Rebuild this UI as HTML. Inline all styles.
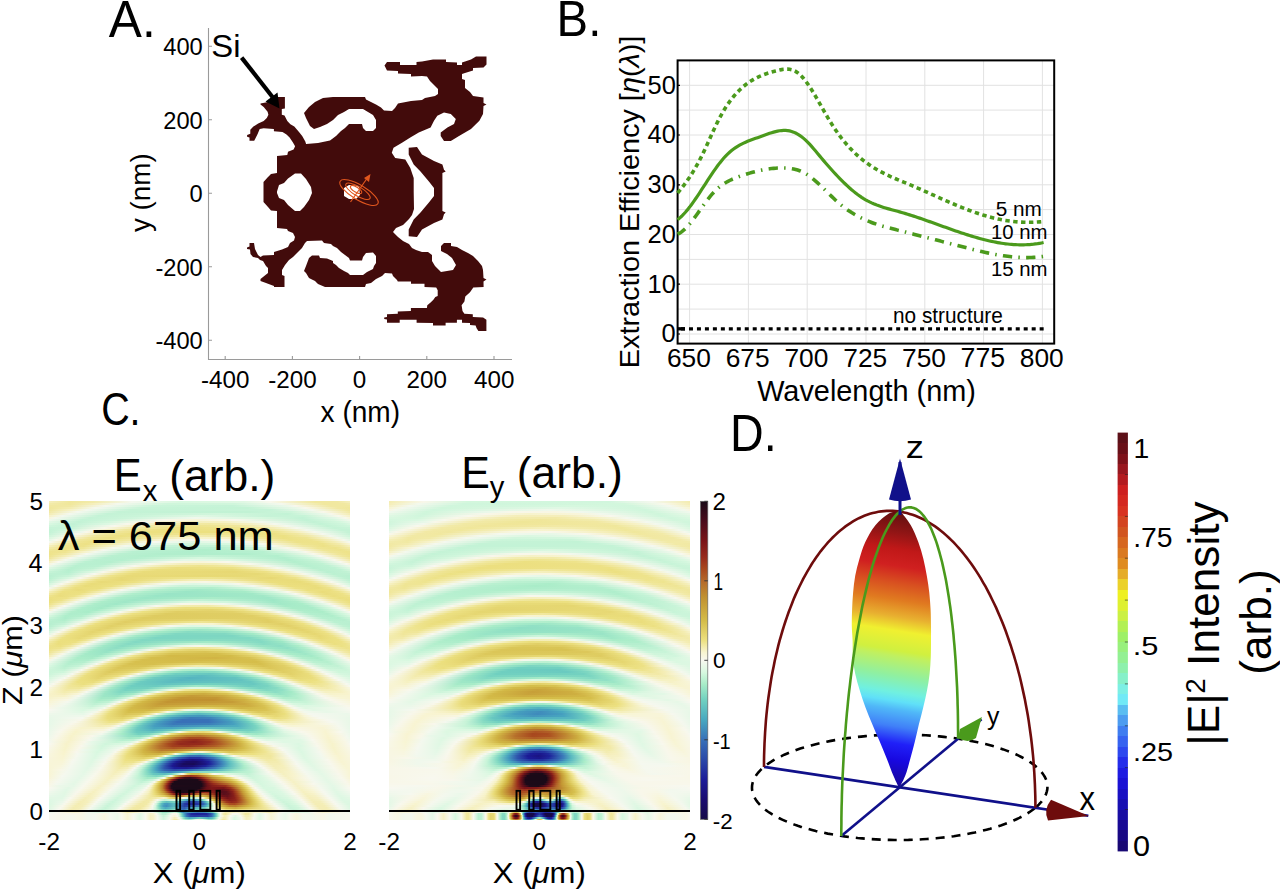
<!DOCTYPE html><html><head><meta charset="utf-8"><style>html,body{margin:0;padding:0;background:#fff;overflow:hidden}#wrap{position:relative;width:1280px;height:890px;overflow:hidden;background:#fff}svg{display:block}text{font-family:"Liberation Sans",sans-serif}.fld{position:absolute;top:501px;width:301px;height:319px;overflow:hidden}.fld i{display:block;height:2px}</style></head><body><div id="wrap"><div class="fld" style="left:49px"><i style="background:linear-gradient(90deg,#f5eeb9 0.5px,#f0e79b 20.5px,#f2ebaa 44.5px,#f4f8ee 82.5px,#d8f8e0 130.5px,#e0f8e4 194.5px,#f8f8ed 221.5px,#f1e89e 266.5px,#f1e8a1 288.5px,#f5eeb9 300.5px)"></i><i style="background:linear-gradient(90deg,#f2eaa9 0.5px,#f0e79b 20.5px,#f5efbd 44.5px,#f4f8ee 68.5px,#cff6db 118.5px,#d0f6dc 185.5px,#f4f8ee 232.5px,#f1e89e 275.5px,#f1e8a1 295.5px,#f2eaa9 300.5px)"></i><i style="background:linear-gradient(90deg,#f1e89f 0.5px,#f1e8a2 20.5px,#f5f8ee 56.5px,#caf5d9 103.5px,#c5f3d7 183.5px,#ebf8ea 238.5px,#f8f7ec 246.5px,#f1e8a1 281.5px,#f1e89f 300.5px)"></i><i style="background:linear-gradient(90deg,#f0e79b 0.5px,#f3ecaf 20.5px,#f4f8ee 46.5px,#c7f4d7 92.5px,#c3f3d5 198.5px,#e9f8e8 247.5px,#f8f8ec 256.5px,#f1e8a2 288.5px,#f0e79b 300.5px)"></i><i style="background:linear-gradient(90deg,#f0e79e 0.5px,#f6f1c3 20.5px,#f3f8ee 37.5px,#c5f3d6 81.5px,#c5f3d7 221.5px,#f3f8ee 263.5px,#f1e8a0 297.5px,#f0e79e 300.5px)"></i><i style="background:linear-gradient(90deg,#f2e9a6 0.5px,#f4f8ee 28.5px,#c4f3d6 69.5px,#c1f2d4 199.5px,#ccf5da 242.5px,#f8f7eb 274.5px,#f2e9a6 300.5px)"></i><i style="background:linear-gradient(90deg,#f4edb4 0.5px,#f4f8ee 20.5px,#c4f3d6 58.5px,#c9f4d8 107.5px,#d1f6dc 170.5px,#c2f3d5 238.5px,#ecf8ea 276.5px,#f8f7ea 282.5px,#f4edb5 300.5px)"></i><i style="background:linear-gradient(90deg,#f7f2c9 0.5px,#f3f8ed 13.5px,#c4f3d6 49.5px,#caf5d9 90.5px,#e0f8e4 152.5px,#c6f3d7 218.5px,#c6f4d7 255.5px,#f8f8ec 289.5px,#f7f2ca 300.5px)"></i><i style="background:linear-gradient(90deg,#f8f6dd 0.5px,#f3f8ed 6.5px,#c4f3d6 40.5px,#cbf5da 76.5px,#f0f8ec 146.5px,#d7f8df 210.5px,#c1f2d5 253.5px,#e1f8e5 285.5px,#f8f8ec 296.5px,#f8f6dd 300.5px)"></i><i style="background:linear-gradient(90deg,#f1f8ec 0.5px,#c3f3d6 33.5px,#cdf5db 66.5px,#f8f7eb 114.5px,#f8f5d8 150.5px,#f8f7eb 186.5px,#c1f2d5 257.5px,#d6f7df 284.5px,#f1f8ec 300.5px)"></i><i style="background:linear-gradient(90deg,#e3f8e6 0.5px,#c2f2d5 29.5px,#d5f7de 61.5px,#f8f7eb 93.5px,#f5efbc 137.5px,#f6f1c4 175.5px,#f2f8ed 212.5px,#c2f2d5 264.5px,#d2f7dd 289.5px,#e3f8e6 300.5px)"></i><i style="background:linear-gradient(90deg,#d9f8e1 0.5px,#c2f2d5 24.5px,#ddf8e3 58.5px,#f8f7eb 78.5px,#f3ebac 118.5px,#f1e8a0 160.5px,#f5efbe 197.5px,#f4f8ee 225.5px,#c2f3d5 271.5px,#d1f6dd 295.5px,#daf8e1 300.5px)"></i><i style="background:linear-gradient(90deg,#cff6dc 0.5px,#c4f3d6 24.5px,#f8f8ed 65.5px,#f1e9a5 101.5px,#eee38c 143.5px,#f0e79c 191.5px,#f7f3cb 220.5px,#f4f8ee 237.5px,#c3f3d5 278.5px,#cff6dc 300.5px)"></i><i style="background:linear-gradient(90deg,#c7f4d8 0.5px,#c9f4d8 23.5px,#f8f7ea 55.5px,#f1e89f 88.5px,#ede183 127.5px,#eee38b 192.5px,#f4edb3 223.5px,#f5f8ee 247.5px,#c4f3d6 285.5px,#c8f4d8 300.5px)"></i><i style="background:linear-gradient(90deg,#c4f3d6 0.5px,#d4f7de 24.5px,#f8f8ec 45.5px,#f0e79c 76.5px,#ece081 109.5px,#ede287 205.5px,#f3ecae 233.5px,#f3f8ee 257.5px,#c4f3d6 292.5px,#c4f3d6 300.5px)"></i><i style="background:linear-gradient(90deg,#c4f3d6 0.5px,#edf8eb 32.5px,#f8f7e9 37.5px,#f0e69a 66.5px,#ece080 95.5px,#ece080 194.5px,#eee48f 227.5px,#f6f0c1 250.5px,#f5f8ee 265.5px,#c5f3d6 298.5px,#c4f3d6 300.5px)"></i><i style="background:linear-gradient(90deg,#c8f4d8 0.5px,#f8f8ee 28.5px,#f0e79b 55.5px,#ece081 81.5px,#efe595 162.5px,#ece183 224.5px,#f1e8a1 248.5px,#f5f8ee 273.5px,#c8f4d8 300.5px)"></i><i style="background:linear-gradient(90deg,#d0f6dc 0.5px,#f8f7eb 21.5px,#f0e699 47.5px,#ece081 71.5px,#f3ecaf 150.5px,#efe593 198.5px,#ece182 234.5px,#f1e8a2 257.5px,#f3f8ed 281.5px,#d0f6dc 300.5px)"></i><i style="background:linear-gradient(90deg,#dbf8e1 0.5px,#f8f7eb 14.5px,#f0e698 39.5px,#ece082 61.5px,#f1e8a0 95.5px,#f8f4d0 140.5px,#f7f2c6 174.5px,#ece183 234.5px,#eee490 257.5px,#f6f1c6 276.5px,#f3f8ed 288.5px,#dbf8e1 300.5px)"></i><i style="background:linear-gradient(90deg,#e6f8e7 0.5px,#f8f8ed 7.5px,#f0e698 31.5px,#ece183 51.5px,#f1e89e 79.5px,#f8f5dc 116.5px,#f5f8ee 141.5px,#f8f7e8 172.5px,#f5efbe 204.5px,#ede286 240.5px,#eee38c 262.5px,#f5eeb9 280.5px,#f5f8ee 294.5px,#e6f8e7 300.5px)"></i><i style="background:linear-gradient(90deg,#f6f8ef 0.5px,#f0e698 24.5px,#ede184 43.5px,#f1e8a1 68.5px,#f7f8ef 105.5px,#e0f8e4 144.5px,#f0f8ec 190.5px,#f8f7e9 198.5px,#ede28a 247.5px,#eee38a 268.5px,#f4eeb7 286.5px,#f6f8ef 300.5px)"></i><i style="background:linear-gradient(90deg,#f8f5d6 0.5px,#efe594 19.5px,#ede185 37.5px,#f2eaa7 60.5px,#f4f8ee 89.5px,#d1f6dd 132.5px,#d7f8df 179.5px,#f8f8ed 213.5px,#eee48e 253.5px,#ede288 273.5px,#f3ebad 290.5px,#f8f5d6 300.5px)"></i><i style="background:linear-gradient(90deg,#f5efbd 0.5px,#eee38e 16.5px,#ede289 34.5px,#f4eeb8 56.5px,#f3f8ee 76.5px,#c4f3d6 123.5px,#c4f3d6 177.5px,#f3f8ee 224.5px,#f0e79d 254.5px,#ede186 274.5px,#f0e79d 291.5px,#f5efbd 300.5px)"></i><i style="background:linear-gradient(90deg,#f2eaa6 0.5px,#ede288 16.5px,#efe696 34.5px,#f5f8ee 64.5px,#bff2d3 107.5px,#b5efcf 169.5px,#d1f6dc 212.5px,#f8f7ea 238.5px,#efe592 268.5px,#ede289 286.5px,#f2eaa6 300.5px)"></i><i style="background:linear-gradient(90deg,#efe696 0.5px,#ede289 16.5px,#f2ebaa 34.5px,#f5f8ef 54.5px,#bcf1d2 93.5px,#afeecb 156.5px,#bff2d3 210.5px,#f8f8ed 247.5px,#efe696 274.5px,#ede289 291.5px,#efe696 300.5px)"></i><i style="background:linear-gradient(90deg,#eee38d 0.5px,#efe491 16.5px,#f7f2c7 34.5px,#f2f8ed 46.5px,#b9f0d1 83.5px,#afeecc 140.5px,#b7f0d0 214.5px,#ebf8ea 251.5px,#f8f7ec 256.5px,#efe697 281.5px,#eee38a 297.5px,#eee38d 300.5px)"></i><i style="background:linear-gradient(90deg,#eee38a 0.5px,#f1e8a1 16.5px,#f5f8ef 37.5px,#baf0d1 71.5px,#b1eecc 113.5px,#b0eecc 196.5px,#bef2d3 233.5px,#f8f8ec 264.5px,#f0e697 288.5px,#eee38a 300.5px)"></i><i style="background:linear-gradient(90deg,#eee48f 0.5px,#f4eeb8 16.5px,#f3f8ee 30.5px,#b9f0d0 62.5px,#b2efcd 97.5px,#c2f2d5 162.5px,#b2efcd 228.5px,#d3f7de 255.5px,#f7f8f0 271.5px,#f0e79b 293.5px,#eee48f 300.5px)"></i><i style="background:linear-gradient(90deg,#f0e69a 0.5px,#f8f7e9 21.5px,#edf8ea 25.5px,#b7f0d0 55.5px,#b5efcf 87.5px,#d6f8df 150.5px,#b1eecd 235.5px,#cff6dc 261.5px,#f7f8f0 278.5px,#f0e79d 299.5px,#f0e79a 300.5px)"></i><i style="background:linear-gradient(90deg,#f3ebac 0.5px,#f4f8ee 16.5px,#b9f0d1 45.5px,#b5efcf 73.5px,#e6f8e7 135.5px,#def8e3 181.5px,#b1eecd 239.5px,#c6f4d7 264.5px,#f8f8ed 285.5px,#f3ebac 300.5px)"></i><i style="background:linear-gradient(90deg,#f6f1c5 0.5px,#f8f8f0 9.5px,#bbf1d2 36.5px,#b5efce 61.5px,#f8f8ec 122.5px,#f8f5d9 151.5px,#f8f8ec 178.5px,#b3efcd 245.5px,#c3f3d5 269.5px,#f8f8f0 291.5px,#f6f1c6 300.5px)"></i><i style="background:linear-gradient(90deg,#f8f6de 0.5px,#f3f8ed 4.5px,#b9f0d1 31.5px,#b8f0d0 55.5px,#f8f8ec 100.5px,#f4edb5 135.5px,#f4eeb6 166.5px,#f8f8ec 200.5px,#b5efce 250.5px,#bff2d3 273.5px,#f8f8ef 297.5px,#f8f6de 300.5px)"></i><i style="background:linear-gradient(90deg,#edf8eb 0.5px,#b8f0d0 26.5px,#bbf1d2 49.5px,#f8f8ed 85.5px,#f1e9a2 117.5px,#eee38c 150.5px,#f1e9a2 183.5px,#f3f8ee 217.5px,#b6f0cf 257.5px,#bef2d3 279.5px,#edf8eb 300.5px)"></i><i style="background:linear-gradient(90deg,#dff8e3 0.5px,#b7f0cf 22.5px,#c0f2d4 44.5px,#f8f8ed 73.5px,#f0e699 102.5px,#ebde7d 127.5px,#ece183 183.5px,#f4edb3 209.5px,#f5f8ee 228.5px,#b8f0d0 264.5px,#bef2d3 285.5px,#dff8e3 300.5px)"></i><i style="background:linear-gradient(90deg,#d2f6dd 0.5px,#b6efcf 19.5px,#c8f4d8 41.5px,#f8f7ec 63.5px,#efe592 90.5px,#eadd7b 108.5px,#e8db78 183.5px,#eee38a 206.5px,#f7f2c8 227.5px,#f2f8ed 239.5px,#b9f0d0 271.5px,#bff2d4 291.5px,#d2f6dd 300.5px)"></i><i style="background:linear-gradient(90deg,#c6f3d7 0.5px,#b7f0d0 19.5px,#dff8e3 44.5px,#f8f7eb 54.5px,#eee48f 79.5px,#e9dc7a 94.5px,#e7d873 186.5px,#ede186 217.5px,#f7f2c7 237.5px,#f2f8ed 248.5px,#b9f0d1 278.5px,#c1f2d4 297.5px,#c6f3d7 300.5px)"></i><i style="background:linear-gradient(90deg,#bef1d3 0.5px,#bdf1d3 19.5px,#f7f8ef 45.5px,#eee48e 69.5px,#e9db79 84.5px,#e7d975 208.5px,#ede289 229.5px,#f8f7e4 253.5px,#f2f8ed 256.5px,#bbf1d1 284.5px,#bef1d3 300.5px)"></i><i style="background:linear-gradient(90deg,#baf0d1 0.5px,#c8f4d8 19.5px,#f8f8ec 38.5px,#eee38a 61.5px,#e8da76 78.5px,#e7d974 191.5px,#ebde7d 232.5px,#f2eaa7 247.5px,#f5f8ee 263.5px,#bdf1d2 289.5px,#baf0d1 300.5px)"></i><i style="background:linear-gradient(90deg,#baf1d1 0.5px,#d5f7df 18.5px,#f8f7ec 31.5px,#ede289 53.5px,#e7d975 72.5px,#ede185 125.5px,#eee48f 160.5px,#e7d874 222.5px,#ede287 246.5px,#f7f3cb 262.5px,#f5f8ee 270.5px,#bef1d3 295.5px,#baf1d1 300.5px)"></i><i style="background:linear-gradient(90deg,#bff2d3 0.5px,#f3f8ed 23.5px,#f7f3cb 31.5px,#ede184 47.5px,#e7d874 73.5px,#ede28a 105.5px,#f4eeb8 142.5px,#f3ebad 171.5px,#eadc7b 210.5px,#e9dc7a 245.5px,#eee48f 256.5px,#f8f8ef 276.5px,#c0f2d4 299.5px,#bff2d4 300.5px)"></i><i style="background:linear-gradient(90deg,#c8f4d8 0.5px,#f8f8ed 18.5px,#eee38b 38.5px,#e8da77 52.5px,#ece081 85.5px,#f8f5d8 126.5px,#f8f7e6 156.5px,#f7f2c6 185.5px,#ebde7d 220.5px,#e9dc79 251.5px,#eee38c 262.5px,#f8f8ed 282.5px,#c8f4d8 300.5px)"></i><i style="background:linear-gradient(90deg,#d5f7df 0.5px,#f8f8ed 12.5px,#eee38d 31.5px,#e9dc79 42.5px,#ebdf7f 71.5px,#f6f8ef 113.5px,#def8e3 144.5px,#edf8eb 181.5px,#f8f7ea 189.5px,#ebdf7e 230.5px,#eadc7a 259.5px,#eee38e 269.5px,#f8f8ed 288.5px,#d5f7df 300.5px)"></i><i style="background:linear-gradient(90deg,#e2f8e5 0.5px,#f7f8ef 6.5px,#eee38d 25.5px,#e9dc79 36.5px,#ece080 62.5px,#f5f8ee 96.5px,#c9f4d9 132.5px,#caf5d9 169.5px,#f5f8ee 204.5px,#ecdf7f 239.5px,#eadd7b 266.5px,#efe491 276.5px,#f7f8ef 294.5px,#e2f8e5 300.5px)"></i><i style="background:linear-gradient(90deg,#f3f8ee 0.5px,#f1e89f 15.5px,#ebde7d 26.5px,#ebdf7e 51.5px,#f4edb3 68.5px,#f5f8ee 83.5px,#baf1d1 120.5px,#b0eecc 162.5px,#d0f6dc 197.5px,#f8f8ed 218.5px,#ede184 246.5px,#e9dc7a 269.5px,#eee38b 280.5px,#f8f8ed 299.5px,#f3f8ee 300.5px)"></i><i style="background:linear-gradient(90deg,#f8f5d5 0.5px,#ede289 15.5px,#e9db79 29.5px,#ede287 47.5px,#f6f8ef 72.5px,#b4efce 106.5px,#a0e8c7 148.5px,#b2eecd 192.5px,#f2f8ed 227.5px,#f2eaa8 244.5px,#ebdf7e 258.5px,#ecdf7f 281.5px,#f4edb3 294.5px,#f8f5d6 300.5px)"></i><i style="background:linear-gradient(90deg,#f4eeb8 0.5px,#ece080 13.5px,#ebdf7f 35.5px,#f3ecb2 50.5px,#f4f8ee 63.5px,#afeecc 95.5px,#9ae5c6 137.5px,#a6ebc8 196.5px,#d1f6dd 223.5px,#f8f8ed 238.5px,#eee38b 260.5px,#eadc7a 273.5px,#ede287 289.5px,#f4eeb8 300.5px)"></i><i style="background:linear-gradient(90deg,#f1e89e 0.5px,#ebde7e 11.5px,#ece183 30.5px,#f6f0c0 45.5px,#f7f8f0 54.5px,#b0eecc 83.5px,#99e4c6 118.5px,#a1e8c7 203.5px,#c8f4d8 229.5px,#f7f8f0 246.5px,#eee48f 266.5px,#eadd7c 277.5px,#ede185 293.5px,#f1e89f 300.5px)"></i><i style="background:linear-gradient(90deg,#eee38c 0.5px,#eadd7c 11.5px,#ede288 25.5px,#f7f2c7 39.5px,#f4f8ee 47.5px,#adedca 75.5px,#99e5c6 107.5px,#a1e8c7 214.5px,#c8f4d8 238.5px,#f8f8ed 254.5px,#eee48f 273.5px,#ebde7d 284.5px,#ede287 298.5px,#eee38d 300.5px)"></i><i style="background:linear-gradient(90deg,#ece081 0.5px,#ede185 17.5px,#f6f0c0 31.5px,#f3f8ee 40.5px,#abedca 67.5px,#9be6c6 96.5px,#aaecc9 163.5px,#9ee7c7 219.5px,#bcf1d2 241.5px,#f8f8ed 261.5px,#efe492 279.5px,#ebdf7e 290.5px,#ece082 300.5px)"></i><i style="background:linear-gradient(90deg,#ebdf7f 0.5px,#ede289 12.5px,#f6f1c2 25.5px,#f5f8ef 33.5px,#acedca 59.5px,#9de6c6 85.5px,#c2f2d5 152.5px,#9de7c6 224.5px,#b6f0cf 246.5px,#f8f7ea 268.5px,#efe593 285.5px,#ebdf7f 297.5px,#ecdf7f 300.5px)"></i><i style="background:linear-gradient(90deg,#ece080 0.5px,#f0e79e 12.5px,#f4f8ee 27.5px,#acedca 52.5px,#9fe7c7 76.5px,#ddf8e3 141.5px,#d1f6dd 177.5px,#9fe8c7 224.5px,#acedca 248.5px,#f4f8ee 273.5px,#efe594 291.5px,#ece081 300.5px)"></i><i style="background:linear-gradient(90deg,#eee38a 0.5px,#f5efbb 12.5px,#f5f8ee 21.5px,#adedca 45.5px,#a0e8c7 67.5px,#c7f4d7 97.5px,#f8f7eb 132.5px,#f8f6df 155.5px,#f1f8ed 174.5px,#a2e9c7 231.5px,#aaedc9 253.5px,#ecf8ea 277.5px,#f8f7ea 280.5px,#efe697 296.5px,#eee38b 300.5px)"></i><i style="background:linear-gradient(90deg,#f0e79c 0.5px,#f8f8f0 15.5px,#afeecc 38.5px,#a2e9c7 58.5px,#c4f3d6 83.5px,#f8f8ef 107.5px,#f3ecae 134.5px,#f2eaa7 158.5px,#f7f3cb 180.5px,#f5f8ee 194.5px,#a6ebc8 236.5px,#a9ecc9 258.5px,#e3f8e6 280.5px,#f8f8f0 285.5px,#f0e79d 300.5px)"></i><i style="background:linear-gradient(90deg,#f4edb4 0.5px,#f6f8ef 10.5px,#aeeecb 33.5px,#a4eac7 52.5px,#cbf5d9 75.5px,#f8f7eb 93.5px,#efe595 118.5px,#ebde7d 136.5px,#ede184 173.5px,#f5eeb9 194.5px,#f2f8ed 209.5px,#a9ecc8 243.5px,#a9ecc9 263.5px,#d6f8df 281.5px,#f6f8ef 290.5px,#f4edb5 300.5px)"></i><i style="background:linear-gradient(90deg,#f8f4d3 0.5px,#f5f8ef 5.5px,#aeeecb 28.5px,#a7ecc8 47.5px,#d2f6dd 68.5px,#f8f8f0 81.5px,#eee38e 103.5px,#e8db78 116.5px,#e4d36c 162.5px,#ede185 194.5px,#f8f6e3 217.5px,#f3f8ed 220.5px,#adedca 249.5px,#aaecc9 268.5px,#d2f7dd 285.5px,#f5f8ef 295.5px,#f8f4d3 300.5px)"></i><i style="background:linear-gradient(90deg,#f6f8ef 0.5px,#b1eecc 22.5px,#a8ecc8 39.5px,#d1f6dc 59.5px,#f6f8ef 71.5px,#ece183 93.5px,#e0ce64 127.5px,#e2d169 183.5px,#ede287 208.5px,#f6f8ef 229.5px,#b0eecc 255.5px,#abedc9 273.5px,#d3f7dd 290.5px,#f6f8ef 300.5px)"></i><i style="background:linear-gradient(90deg,#e3f8e6 0.5px,#aeedcb 20.5px,#afeecc 37.5px,#eff8ec 61.5px,#f8f7e5 64.5px,#ece080 83.5px,#decc60 117.5px,#e0ce64 191.5px,#ede185 218.5px,#f8f8ec 237.5px,#b3efce 261.5px,#adedca 278.5px,#d4f7de 295.5px,#e4f8e6 300.5px)"></i><i style="background:linear-gradient(90deg,#d6f7df 0.5px,#aeeecb 16.5px,#b3efcd 32.5px,#f2f8ed 54.5px,#f8f7e6 56.5px,#ece07f 74.5px,#decb60 105.5px,#e0ce64 203.5px,#ede184 227.5px,#f8f8ef 245.5px,#b6efcf 267.5px,#afeecb 283.5px,#d3f7de 299.5px,#d7f8df 300.5px)"></i><i style="background:linear-gradient(90deg,#c8f4d8 0.5px,#adedcb 16.5px,#c1f2d5 32.5px,#f8f8ee 48.5px,#ecdf7f 66.5px,#decc60 94.5px,#e1cf66 215.5px,#ede184 235.5px,#f8f8ee 252.5px,#b7f0d0 273.5px,#b2efcd 289.5px,#c9f4d8 300.5px)"></i><i style="background:linear-gradient(90deg,#bdf1d3 0.5px,#b1eecc 15.5px,#d2f6dd 31.5px,#f5f8ef 41.5px,#ebdf7f 59.5px,#dfcc61 85.5px,#e6d772 164.5px,#e0ce63 218.5px,#ecdf7f 241.5px,#f5f8ef 259.5px,#b9f0d0 279.5px,#b6efcf 295.5px,#bff2d3 300.5px)"></i><i style="background:linear-gradient(90deg,#b8f0d0 0.5px,#b9f0d0 15.5px,#f1f8ec 34.5px,#f8f7e7 36.5px,#ece07f 52.5px,#e0cd63 76.5px,#e9dc79 118.5px,#efe594 152.5px,#e0cd63 219.5px,#e9db78 244.5px,#eee490 251.5px,#f6f8ef 265.5px,#baf1d1 285.5px,#b9f0d1 300.5px)"></i><i style="background:linear-gradient(90deg,#b6efcf 0.5px,#c5f3d7 15.5px,#f5f8ee 29.5px,#ecdf7f 46.5px,#e0ce65 69.5px,#eadd7b 102.5px,#f8f4d1 138.5px,#f8f4d0 163.5px,#e9dc79 200.5px,#e1cf66 232.5px,#ece080 254.5px,#f5f8ee 271.5px,#bcf1d2 290.5px,#b8f0d0 300.5px)"></i><i style="background:linear-gradient(90deg,#b8f0d0 0.5px,#d3f7de 14.5px,#f8f8ee 24.5px,#ece080 40.5px,#e1d066 62.5px,#ebde7d 90.5px,#f8f8ed 120.5px,#def8e3 143.5px,#ebf8e9 173.5px,#f8f7e9 181.5px,#f0e79e 201.5px,#eadd7b 212.5px,#e2d068 239.5px,#ece182 260.5px,#f8f8ee 276.5px,#c0f2d4 294.5px,#baf1d1 300.5px)"></i><i style="background:linear-gradient(90deg,#bff2d4 0.5px,#f3f8ed 18.5px,#f1e9a3 29.5px,#eadd7b 37.5px,#e2d169 58.5px,#ece183 81.5px,#f7f8f0 103.5px,#c2f2d5 130.5px,#b8f0d0 158.5px,#def8e3 187.5px,#f8f8f0 197.5px,#ebdf7e 221.5px,#e3d26a 246.5px,#ece081 265.5px,#f8f7ec 281.5px,#c2f3d5 299.5px,#c1f2d4 300.5px)"></i><i style="background:linear-gradient(90deg,#caf4d9 0.5px,#f8f7ec 14.5px,#ece080 30.5px,#e3d26b 50.5px,#ece081 71.5px,#f5f8ee 91.5px,#aeeecb 119.5px,#9ae5c6 150.5px,#afeecb 181.5px,#f8f7eb 210.5px,#ece07f 230.5px,#e4d36c 253.5px,#ece182 270.5px,#f8f8ec 286.5px,#cbf5da 300.5px)"></i><i style="background:linear-gradient(90deg,#d8f8e0 0.5px,#f8f8ef 9.5px,#ece182 25.5px,#e4d46d 43.5px,#ece080 62.5px,#f8f8ec 80.5px,#a8ecc8 106.5px,#88dcc3 138.5px,#92e1c5 177.5px,#baf0d1 201.5px,#f8f8ec 220.5px,#ece082 238.5px,#e4d56e 258.5px,#ede185 275.5px,#f8f8ef 291.5px,#d9f8e0 300.5px)"></i><i style="background:linear-gradient(90deg,#e5f8e6 0.5px,#f8f7e9 5.5px,#ece081 21.5px,#e5d670 40.5px,#ede184 55.5px,#f8f7ea 71.5px,#a4eac7 96.5px,#80d8c2 126.5px,#81d8c2 175.5px,#a4eac7 204.5px,#f8f7ea 229.5px,#ece182 246.5px,#e6d771 265.5px,#ede184 279.5px,#f5f8ee 296.5px,#e5f8e7 300.5px)"></i><i style="background:linear-gradient(90deg,#f7f8f0 0.5px,#ece081 17.5px,#e6d772 35.5px,#ede286 48.5px,#f5f8ee 64.5px,#a1e9c7 87.5px,#7dd7c2 114.5px,#7dd6c2 183.5px,#9ee7c7 211.5px,#eff8ec 235.5px,#f8f7e8 237.5px,#ede184 253.5px,#e7d874 270.5px,#ede185 283.5px,#f8f8f0 300.5px)"></i><i style="background:linear-gradient(90deg,#f8f4d4 0.5px,#ece183 13.5px,#e7d975 30.5px,#ede286 41.5px,#f8f7e9 56.5px,#d7f8e0 64.5px,#9ce6c6 81.5px,#7cd6c2 106.5px,#81d9c2 200.5px,#aaecc9 224.5px,#f4f8ee 243.5px,#ede289 259.5px,#e8da76 271.5px,#ece183 286.5px,#f8f5d5 300.5px)"></i><i style="background:linear-gradient(90deg,#f4eeb9 0.5px,#ece07f 11.5px,#eadd7b 29.5px,#eee38e 36.5px,#f8f8f0 50.5px,#a2e9c7 71.5px,#80d8c2 93.5px,#87dcc3 169.5px,#83d9c3 209.5px,#a9ecc9 231.5px,#f8f8f0 250.5px,#efe491 264.5px,#eadd7c 272.5px,#ece182 289.5px,#f5efbb 300.5px)"></i><i style="background:linear-gradient(90deg,#f1e9a2 0.5px,#ebdf7e 9.5px,#ece080 26.5px,#f5efba 37.5px,#f6f8ef 44.5px,#a0e8c7 65.5px,#82d9c3 86.5px,#94e2c5 121.5px,#a2e9c7 158.5px,#83dac3 212.5px,#9de7c6 233.5px,#f0f8ec 255.5px,#f6f8ef 256.5px,#efe593 270.5px,#ebde7d 278.5px,#ede184 292.5px,#f2e9a6 300.5px)"></i><i style="background:linear-gradient(90deg,#efe593 0.5px,#ebde7d 9.5px,#ede185 21.5px,#f4eeb9 31.5px,#f8f8ed 38.5px,#a1e8c7 59.5px,#85dac3 79.5px,#9ae5c6 107.5px,#c8f4d8 145.5px,#b9f0d1 172.5px,#87dcc3 214.5px,#96e3c5 235.5px,#c2f3d5 250.5px,#f8f8ed 262.5px,#f0e698 275.5px,#ebdf7f 285.5px,#ede289 296.5px,#efe697 300.5px)"></i><i style="background:linear-gradient(90deg,#ede28a 0.5px,#ece080 11.5px,#f0e79e 21.5px,#f6f8ef 33.5px,#a0e8c7 54.5px,#88dcc3 73.5px,#a1e9c7 97.5px,#e7f8e7 130.5px,#f8f7eb 151.5px,#e1f8e4 174.5px,#99e4c6 209.5px,#8cdec4 231.5px,#abedc9 249.5px,#f6f8ef 267.5px,#f0e698 281.5px,#ece183 292.5px,#eee48f 300.5px)"></i><i style="background:linear-gradient(90deg,#ede287 0.5px,#eee38e 11.5px,#f5f0be 21.5px,#f5f8ee 28.5px,#a1e8c7 49.5px,#8ddec4 67.5px,#a8ecc8 88.5px,#f8f7ec 115.5px,#f1e9a4 135.5px,#efe595 153.5px,#f3ecb2 170.5px,#f5f8ee 186.5px,#9de7c6 218.5px,#90e0c5 238.5px,#afeecb 255.5px,#f5f8ee 272.5px,#f0e79c 286.5px,#ede28a 297.5px,#eee38d 300.5px)"></i><i style="background:linear-gradient(90deg,#eee38b 0.5px,#f1e89f 10.5px,#f6f8ef 23.5px,#a3e9c7 44.5px,#91e0c5 61.5px,#aeedcb 80.5px,#f5f8ef 100.5px,#ede287 119.5px,#e4d36d 141.5px,#e8da77 172.5px,#eee38c 182.5px,#f5f8ef 200.5px,#a2e9c7 226.5px,#95e2c5 244.5px,#b1eecc 260.5px,#f6f8ef 277.5px,#f1e9a3 290.5px,#eee490 300.5px)"></i><i style="background:linear-gradient(90deg,#efe595 0.5px,#f4eeb9 10.5px,#f2f8ed 19.5px,#a3eac7 40.5px,#96e3c5 57.5px,#b5efce 73.5px,#f4f8ee 89.5px,#ede288 104.5px,#dfcd62 123.5px,#d9c455 156.5px,#e6d772 187.5px,#eee38a 196.5px,#f4f8ee 211.5px,#a7ebc8 233.5px,#99e5c6 250.5px,#b7f0d0 266.5px,#f8f8ed 282.5px,#f2e9a6 295.5px,#f0e69a 300.5px)"></i><i style="background:linear-gradient(90deg,#f1e9a4 0.5px,#f8f7e8 13.5px,#f0f8ec 15.5px,#a5eac8 36.5px,#9ce6c6 52.5px,#bdf1d2 67.5px,#f5f8ee 80.5px,#ebdf7e 95.5px,#d7c150 122.5px,#d4bc49 167.5px,#e4d46d 197.5px,#ede185 206.5px,#f5f8ee 220.5px,#aaedc9 240.5px,#9ee7c7 256.5px,#bbf1d2 271.5px,#f6f8ef 286.5px,#f2eaa8 300.5px)"></i><i style="background:linear-gradient(90deg,#f4eeb8 0.5px,#f4f8ee 10.5px,#a7ebc8 32.5px,#a2e9c7 48.5px,#c7f4d8 62.5px,#f4f8ee 72.5px,#eee38a 84.5px,#dfcd62 97.5px,#d3b946 121.5px,#d3bb47 181.5px,#e4d46d 207.5px,#ede186 215.5px,#f5f8ee 228.5px,#adedcb 247.5px,#a3eac7 262.5px,#c4f3d6 277.5px,#f8f7eb 291.5px,#f5efbc 300.5px)"></i><i style="background:linear-gradient(90deg,#f8f4d1 0.5px,#f4f8ee 6.5px,#aaedc9 28.5px,#a7ebc8 43.5px,#d0f6dc 57.5px,#f6f8ef 65.5px,#ebdf7f 78.5px,#d5be4b 102.5px,#d1b444 166.5px,#d7c150 200.5px,#ece081 222.5px,#f6f8ef 235.5px,#b2eecd 253.5px,#a9ecc8 268.5px,#d1f6dd 284.5px,#f8f7ec 295.5px,#f8f4d3 300.5px)"></i><i style="background:linear-gradient(90deg,#f8f7e4 0.5px,#eff8ec 3.5px,#adedca 25.5px,#adedcb 39.5px,#e3f8e5 55.5px,#f8f7eb 59.5px,#ecdf7f 71.5px,#d6bf4d 93.5px,#d3b946 142.5px,#d6bf4d 205.5px,#ebdf7e 228.5px,#f8f7eb 241.5px,#b7f0d0 258.5px,#aeedcb 272.5px,#d3f7de 288.5px,#f8f7ec 299.5px,#f8f7e5 300.5px)"></i><i style="background:linear-gradient(90deg,#edf8ea 0.5px,#b1eecd 21.5px,#b4efce 35.5px,#edf8ea 51.5px,#f8f7ea 53.5px,#ebdf7f 65.5px,#d7c04e 86.5px,#d5bd4a 121.5px,#d8c252 165.5px,#d5bd4a 207.5px,#e5d56f 229.5px,#ede28a 236.5px,#f8f7ea 247.5px,#baf1d1 264.5px,#b5efce 278.5px,#edf8eb 300.5px)"></i><i style="background:linear-gradient(90deg,#e1f8e5 0.5px,#b4efce 19.5px,#bdf1d2 32.5px,#f0f8ec 46.5px,#f8f8f0 47.5px,#ece080 59.5px,#d7c150 80.5px,#d6bf4d 104.5px,#e5d56f 151.5px,#d6bf4d 211.5px,#e3d36b 233.5px,#ede186 241.5px,#f8f8f0 253.5px,#c3f3d5 267.5px,#b9f0d0 281.5px,#e3f8e5 300.5px)"></i><i style="background:linear-gradient(90deg,#d9f8e1 0.5px,#b8f0d0 16.5px,#c5f3d7 29.5px,#f8f7eb 42.5px,#ece080 54.5px,#d9c353 74.5px,#d9c454 96.5px,#ede289 129.5px,#f3ecae 147.5px,#f1e8a0 163.5px,#e7d975 182.5px,#d8c252 214.5px,#e1cf65 235.5px,#ede186 246.5px,#f8f7ec 258.5px,#c5f3d6 273.5px,#c1f2d4 288.5px,#dbf8e2 300.5px)"></i><i style="background:linear-gradient(90deg,#d2f6dd 0.5px,#bdf1d2 15.5px,#d4f7de 28.5px,#f8f7ec 37.5px,#ebde7e 50.5px,#dac556 69.5px,#dcc95b 89.5px,#ede185 109.5px,#f8f6e1 126.5px,#f3f8ed 130.5px,#ddf8e3 149.5px,#f0f8ec 169.5px,#f8f7eb 172.5px,#f0e79e 187.5px,#eadc7a 195.5px,#dbc658 220.5px,#e1d067 240.5px,#ede289 251.5px,#f8f7ec 263.5px,#cbf5d9 277.5px,#c6f3d7 292.5px,#d5f7df 300.5px)"></i><i style="background:linear-gradient(90deg,#cdf5da 0.5px,#c5f3d6 15.5px,#f1f8ec 31.5px,#f8f8f0 32.5px,#ebde7d 46.5px,#dbc759 65.5px,#e1cf65 84.5px,#ede288 97.5px,#f5f8ef 111.5px,#b1eecd 133.5px,#a4eac7 154.5px,#c3f3d5 174.5px,#f5f8ef 189.5px,#ebde7d 206.5px,#ddca5d 227.5px,#e4d46d 246.5px,#ede288 255.5px,#f8f8f0 268.5px,#d0f6dc 281.5px,#cbf5d9 296.5px,#d1f6dc 300.5px)"></i><i style="background:linear-gradient(90deg,#cbf5d9 0.5px,#cef6db 14.5px,#f8f7ea 28.5px,#ebde7d 42.5px,#ddca5e 60.5px,#e4d46d 78.5px,#ede289 87.5px,#f5f8ef 99.5px,#a1e9c7 119.5px,#7dd7c2 141.5px,#84dac3 165.5px,#b3efce 186.5px,#f5f8ef 201.5px,#ece081 215.5px,#dfcd63 234.5px,#e6d873 252.5px,#ede28a 259.5px,#f5f8ee 273.5px,#cff6db 289.5px,#cff6dc 300.5px)"></i><i style="background:linear-gradient(90deg,#ccf5da 0.5px,#def8e3 16.5px,#f6f8ef 23.5px,#ecdf7f 38.5px,#e0cd63 56.5px,#e8d976 73.5px,#ede288 78.5px,#f8f8ec 89.5px,#a1e9c7 106.5px,#6fcfc0 126.5px,#67c7c0 161.5px,#7ed7c2 181.5px,#baf0d1 199.5px,#f8f8ec 211.5px,#ece081 224.5px,#e2d168 241.5px,#eadd7c 259.5px,#f3ecb0 268.5px,#f7f8f0 277.5px,#d6f7df 291.5px,#d1f6dd 300.5px)"></i><i style="background:linear-gradient(90deg,#d1f6dc 0.5px,#eef8eb 17.5px,#f8f8f0 19.5px,#ebdf7f 35.5px,#e2d168 52.5px,#ebde7e 68.5px,#f5efbc 76.5px,#f8f8ee 81.5px,#9be5c6 98.5px,#6bcbc0 115.5px,#5abac0 152.5px,#70d0c0 187.5px,#b0eecc 206.5px,#f8f8ee 219.5px,#ede289 231.5px,#e5d56f 243.5px,#eadd7b 261.5px,#f1e89f 269.5px,#f8f8ef 281.5px,#d9f8e1 295.5px,#d6f7df 300.5px)"></i><i style="background:linear-gradient(90deg,#d8f8e0 0.5px,#f3f8ed 14.5px,#f8f8f0 15.5px,#ece080 32.5px,#e4d46e 49.5px,#ede184 62.5px,#f8f7e4 73.5px,#f6f8ef 74.5px,#9be5c6 90.5px,#6bcbc0 105.5px,#55b5c0 140.5px,#63c3c0 186.5px,#7ed7c2 201.5px,#b7f0d0 215.5px,#f6f8ef 226.5px,#eee38d 238.5px,#e8da77 246.5px,#eadd7c 263.5px,#f1e89f 272.5px,#f8f8ef 285.5px,#dbf8e2 300.5px)"></i><i style="background:linear-gradient(90deg,#def8e3 0.5px,#f7f8f0 11.5px,#ece07f 30.5px,#e7d975 47.5px,#ede184 55.5px,#f6f1c4 63.5px,#f1f8ed 68.5px,#9be6c6 83.5px,#6bcbc0 98.5px,#57b7c0 131.5px,#63c3c0 192.5px,#7cd6c2 207.5px,#baf1d1 222.5px,#f8f7ea 233.5px,#efe594 244.5px,#eade7c 251.5px,#ece081 267.5px,#f7f2c9 282.5px,#f8f8f0 289.5px,#e1f8e5 300.5px)"></i><i style="background:linear-gradient(90deg,#e5f8e7 0.5px,#f8f7ea 8.5px,#ece081 28.5px,#eadd7c 44.5px,#eee48f 50.5px,#f8f7ea 61.5px,#a5eac8 75.5px,#6cccc0 91.5px,#5cbcc0 120.5px,#67c7c0 201.5px,#83dac3 215.5px,#bbf1d2 228.5px,#f8f7ea 239.5px,#f0e699 250.5px,#ece080 260.5px,#eee48f 272.5px,#f4f8ee 294.5px,#e8f8e8 300.5px)"></i><i style="background:linear-gradient(90deg,#eef8eb 0.5px,#f8f8ee 4.5px,#eee490 23.5px,#ebdf7e 34.5px,#eee48e 43.5px,#f6f1c3 51.5px,#f6f8ef 56.5px,#9be5c6 72.5px,#6cccc0 87.5px,#63c3c0 114.5px,#72d1c0 160.5px,#68c8c0 204.5px,#7ed7c2 218.5px,#bbf1d1 233.5px,#f6f8ef 244.5px,#f1e9a4 255.5px,#eee38c 265.5px,#f1e8a0 278.5px,#f7f8ef 297.5px,#f0f8ec 300.5px)"></i><i style="background:linear-gradient(90deg,#f8f8f0 0.5px,#f0e698 20.5px,#eee38b 32.5px,#f2e9a5 41.5px,#f5f8ee 51.5px,#9de6c6 67.5px,#6ecec0 82.5px,#6bcbc0 107.5px,#a0e8c7 147.5px,#8fdfc4 171.5px,#6cccc0 199.5px,#77d3c1 218.5px,#aeedcb 235.5px,#f5f8ee 249.5px,#f2eaa9 261.5px,#f0e69a 272.5px,#f4eeb7 286.5px,#f8f8ef 300.5px)"></i><i style="background:linear-gradient(90deg,#f8f6de 0.5px,#f0e79c 19.5px,#f0e79a 30.5px,#f5efbd 39.5px,#f6f8ef 46.5px,#a1e8c7 62.5px,#71d1c0 78.5px,#73d1c0 98.5px,#bcf1d2 126.5px,#e0f8e4 142.5px,#ddf8e3 161.5px,#92e1c5 190.5px,#74d2c1 210.5px,#86dbc3 227.5px,#bcf1d2 242.5px,#f6f8ef 254.5px,#f3ecb2 266.5px,#f2eaa7 278.5px,#f7f2ca 293.5px,#f8f6df 300.5px)"></i><i style="background:linear-gradient(90deg,#f8f5d5 0.5px,#f2e9a5 17.5px,#f3ebad 29.5px,#f8f6e4 40.5px,#f2f8ed 42.5px,#9be5c6 60.5px,#76d3c1 76.5px,#81d8c2 92.5px,#b9f0d0 109.5px,#f6f8ef 122.5px,#f0e79a 136.5px,#ece080 148.5px,#eee48e 160.5px,#f6f0c2 171.5px,#f6f8ef 178.5px,#9ce6c6 200.5px,#80d8c2 217.5px,#90e0c5 233.5px,#bff2d3 246.5px,#f8f8ed 259.5px,#f4eeb8 272.5px,#f4eeb6 286.5px,#f8f5d7 300.5px)"></i><i style="background:linear-gradient(90deg,#f8f4ce 0.5px,#f3ecae 15.5px,#f5efbd 27.5px,#f6f8ef 37.5px,#9fe7c7 56.5px,#7fd8c2 71.5px,#8edfc4 86.5px,#bbf1d1 98.5px,#f4f8ee 108.5px,#ede186 119.5px,#dcc95c 135.5px,#d9c353 156.5px,#e9db78 177.5px,#efe593 182.5px,#f4f8ee 192.5px,#a1e8c7 210.5px,#8addc4 226.5px,#a4eac7 242.5px,#f6f8ef 263.5px,#f6f1c3 276.5px,#f6f0c1 291.5px,#f8f4d2 300.5px)"></i><i style="background:linear-gradient(90deg,#f7f2ca 0.5px,#f5eeb9 15.5px,#f8f5d7 28.5px,#f5f8ee 33.5px,#9ce6c6 55.5px,#89ddc4 70.5px,#a5ebc8 84.5px,#f6f8ef 98.5px,#ebdf7e 108.5px,#d3ba47 126.5px,#ccab3f 154.5px,#d8c150 177.5px,#ede184 192.5px,#f6f8ef 202.5px,#aaedc9 217.5px,#95e3c5 231.5px,#acedca 246.5px,#f8f7ec 268.5px,#f7f3cb 281.5px,#f8f3cd 298.5px,#f8f4d0 300.5px)"></i><i style="background:linear-gradient(90deg,#f7f2c9 0.5px,#f7f2c6 15.5px,#f5f8ee 29.5px,#9ce6c6 54.5px,#96e3c5 68.5px,#baf0d1 80.5px,#f8f7eb 90.5px,#ebde7d 99.5px,#d3b946 114.5px,#c59a36 142.5px,#cba83d 173.5px,#d7c150 188.5px,#ede184 201.5px,#f8f7eb 210.5px,#b2efcd 224.5px,#a0e8c7 237.5px,#bbf1d1 252.5px,#f8f8ed 272.5px,#f8f4d2 285.5px,#f8f4d1 300.5px)"></i><i style="background:linear-gradient(90deg,#f7f3cc 0.5px,#f8f5d9 18.5px,#f1f8ec 26.5px,#a2e9c7 52.5px,#a3e9c7 65.5px,#cdf5db 76.5px,#f2f8ed 82.5px,#f6f1c2 86.5px,#ece080 91.5px,#d3b946 105.5px,#c29432 132.5px,#c39633 167.5px,#d6bf4c 195.5px,#ece081 208.5px,#f8f7e8 217.5px,#e6f8e7 220.5px,#b1eecc 234.5px,#b0eecc 247.5px,#f8f8ee 276.5px,#f8f5d5 292.5px,#f8f4d3 300.5px)"></i><i style="background:linear-gradient(90deg,#f8f4d1 0.5px,#f8f7e5 18.5px,#f2f8ed 22.5px,#a9ecc9 50.5px,#b1eecd 62.5px,#eef8eb 75.5px,#f7f8f0 76.5px,#ebde7e 85.5px,#d2b745 99.5px,#c19231 125.5px,#c09030 164.5px,#cfb142 195.5px,#dbc759 205.5px,#ede289 215.5px,#f7f8f0 224.5px,#bff2d4 237.5px,#baf0d1 250.5px,#f8f7ec 281.5px,#f8f5d7 300.5px)"></i><i style="background:linear-gradient(90deg,#f8f5d6 0.5px,#f4f8ee 18.5px,#b4efce 47.5px,#c0f2d4 59.5px,#f6f8ef 70.5px,#ece080 79.5px,#d2b846 93.5px,#c29432 118.5px,#c59c37 183.5px,#d7c04e 207.5px,#ede185 220.5px,#f5f8ef 230.5px,#c8f4d8 242.5px,#c7f4d7 256.5px,#f8f7eb 286.5px,#f8f6dd 300.5px)"></i><i style="background:linear-gradient(90deg,#f8f6dc 0.5px,#f2f8ed 15.5px,#bef1d3 45.5px,#cdf5db 56.5px,#f8f7ec 65.5px,#ece080 74.5px,#d3b946 88.5px,#c59a36 111.5px,#cba73d 195.5px,#d8c252 212.5px,#ede289 225.5px,#f8f8ee 235.5px,#d7f8e0 244.5px,#cef6db 257.5px,#f8f7ec 291.5px,#f8f6e2 300.5px)"></i><i style="background:linear-gradient(90deg,#f8f6e3 0.5px,#f1f8ec 12.5px,#c8f4d8 43.5px,#e2f8e5 56.5px,#f8f8ec 60.5px,#ebdf7e 70.5px,#d2b846 85.5px,#c8a139 107.5px,#d1b645 159.5px,#cdad40 199.5px,#d8c252 215.5px,#ece081 228.5px,#f8f6de 238.5px,#f8f8ee 240.5px,#dcf8e2 249.5px,#def8e3 270.5px,#f8f7eb 297.5px,#f8f7e8 300.5px)"></i><i style="background:linear-gradient(90deg,#f8f7e9 0.5px,#eef8eb 10.5px,#d3f7dd 41.5px,#ebf8e9 53.5px,#f6f8ef 55.5px,#f2ebab 62.5px,#eadd7b 67.5px,#d3b947 82.5px,#ccab3f 103.5px,#d8c251 125.5px,#e6d772 149.5px,#ddc95c 172.5px,#d1b645 192.5px,#d7c04e 215.5px,#ece07f 231.5px,#f8f6dc 242.5px,#f6f8ef 245.5px,#dff8e3 256.5px,#f2f8ed 292.5px,#f8f8ee 300.5px)"></i><i style="background:linear-gradient(90deg,#f8f8f0 0.5px,#daf8e1 34.5px,#ebf8e9 48.5px,#f8f7ec 51.5px,#f3ecaf 58.5px,#eadc7b 64.5px,#d4bb47 80.5px,#d2b745 100.5px,#ddca5d 113.5px,#ede186 124.5px,#f8f6dd 135.5px,#f2f8ed 139.5px,#e3f8e5 152.5px,#f8f7ea 163.5px,#f3ebae 172.5px,#eade7c 179.5px,#d7c04e 200.5px,#d9c354 217.5px,#ece183 234.5px,#f8f5d7 245.5px,#f4f8ee 250.5px,#e3f8e5 264.5px,#f5f8ef 300.5px)"></i><i style="background:linear-gradient(90deg,#f4f8ee 0.5px,#e0f8e4 32.5px,#f1f8ec 45.5px,#f8f6e3 48.5px,#f1e9a4 56.5px,#eade7c 61.5px,#d5be4b 79.5px,#d7c04f 94.5px,#ebde7e 109.5px,#f8f7e8 118.5px,#e3f8e6 121.5px,#9fe7c7 134.5px,#86dbc3 148.5px,#9ae5c6 163.5px,#cff6dc 175.5px,#f2f8ed 181.5px,#f4edb2 187.5px,#ebde7d 193.5px,#dcc85b 209.5px,#e0cf65 225.5px,#eee38b 237.5px,#f8f5d9 249.5px,#f3f8ed 255.5px,#e8f8e8 277.5px,#f2f8ed 300.5px)"></i><i style="background:linear-gradient(90deg,#eef8eb 0.5px,#e7f8e8 34.5px,#f6f8ef 42.5px,#f4eeb7 51.5px,#eade7c 59.5px,#dac455 76.5px,#decb60 90.5px,#ecdf7f 99.5px,#f8f7ea 107.5px,#a6ebc8 117.5px,#6cccc0 129.5px,#57b7c0 149.5px,#6fcfc0 170.5px,#b6f0cf 184.5px,#f8f7eb 193.5px,#ece080 203.5px,#e1cf66 218.5px,#eade7c 235.5px,#f8f5db 253.5px,#f5f8ef 259.5px,#ebf8ea 298.5px,#edf8eb 300.5px)"></i><i style="background:linear-gradient(90deg,#eaf8e9 0.5px,#eff8ec 34.5px,#f8f7ea 39.5px,#f3ebac 50.5px,#eadd7c 58.5px,#decb60 74.5px,#e7d873 87.5px,#ede287 91.5px,#f8f7e5 98.5px,#f1f8ec 99.5px,#9ae5c6 109.5px,#68c8c0 118.5px,#469fbf 135.5px,#4396bd 153.5px,#54b4c0 171.5px,#7cd6c2 184.5px,#bef1d3 194.5px,#f2f8ed 201.5px,#f3ecb0 207.5px,#ece07f 213.5px,#e7d873 227.5px,#ede289 238.5px,#f8f5d7 255.5px,#f6f8ef 264.5px,#ebf8e9 300.5px)"></i><i style="background:linear-gradient(90deg,#e8f8e8 0.5px,#f6f8ef 33.5px,#f4eeb8 46.5px,#eadd7b 58.5px,#e4d46d 73.5px,#ece07f 82.5px,#f6f0c2 88.5px,#f8f7eb 91.5px,#a5ebc8 100.5px,#6acac0 109.5px,#459cbe 123.5px,#3b79b9 141.5px,#3e83bb 161.5px,#50b0c0 179.5px,#7fd8c2 192.5px,#bdf1d2 201.5px,#f8f7ec 209.5px,#f0e697 218.5px,#ebdf7f 225.5px,#ede289 236.5px,#f8f5d7 258.5px,#f7f8ef 270.5px,#e9f8e9 300.5px)"></i><i style="background:linear-gradient(90deg,#e7f8e8 0.5px,#f8f7eb 31.5px,#f0e699 51.5px,#eadd7b 60.5px,#ebde7e 73.5px,#f2eaa7 79.5px,#f4f8ee 85.5px,#9ce6c6 95.5px,#68c8c0 103.5px,#459dbe 115.5px,#3870b8 133.5px,#3871b8 159.5px,#46a1bf 180.5px,#75d2c1 196.5px,#b6f0cf 206.5px,#f6f8ef 215.5px,#f3ebac 223.5px,#efe596 231.5px,#f3ebad 244.5px,#f8f5d9 262.5px,#f7f8ef 278.5px,#e9f8e8 300.5px)"></i><i style="background:linear-gradient(90deg,#e7f8e8 0.5px,#f8f8ec 26.5px,#ede287 60.5px,#eee490 68.5px,#f4eeb6 74.5px,#f8f8f0 79.5px,#a2e9c7 89.5px,#67c7c0 98.5px,#459cbe 110.5px,#3870b8 128.5px,#3870b8 159.5px,#459cbe 182.5px,#6ecec0 199.5px,#baf0d1 211.5px,#f8f8ee 221.5px,#f5efbe 228.5px,#f3ecae 237.5px,#f7f8f0 282.5px,#e9f8e8 300.5px)"></i><i style="background:linear-gradient(90deg,#e7f8e8 0.5px,#f8f7eb 22.5px,#f1e89e 57.5px,#f2ebab 65.5px,#f8f7e4 73.5px,#f5f8ee 74.5px,#a7ebc8 84.5px,#67c7c0 94.5px,#449bbe 107.5px,#3a78b9 124.5px,#3c7fba 160.5px,#46a0bf 184.5px,#72d1c0 203.5px,#bbf1d2 215.5px,#f7f8ef 226.5px,#f8f4ce 233.5px,#f7f2c6 244.5px,#f8f7e4 277.5px,#f4f8ee 288.5px,#e9f8e8 300.5px)"></i><i style="background:linear-gradient(90deg,#e8f8e8 0.5px,#f8f7ea 18.5px,#f4edb5 50.5px,#f5efbc 60.5px,#f6f8ef 69.5px,#aaecc9 80.5px,#6acac0 90.5px,#459ebf 105.5px,#3f89bc 122.5px,#4eaec0 188.5px,#78d4c1 206.5px,#bbf1d1 218.5px,#eaf8e9 228.5px,#f8f7ea 232.5px,#f8f5d5 242.5px,#f8f5da 276.5px,#f5f8ee 289.5px,#e9f8e9 300.5px)"></i><i style="background:linear-gradient(90deg,#e9f8e9 0.5px,#f8f7ea 15.5px,#f7f3cc 32.5px,#f7f3ca 54.5px,#f8f7e6 63.5px,#f1f8ed 65.5px,#b0eecc 76.5px,#6acac0 88.5px,#47a5c0 105.5px,#48a7c0 122.5px,#63c3c0 154.5px,#5bbbc0 191.5px,#7ad5c1 207.5px,#bef2d3 221.5px,#ecf8ea 233.5px,#f8f7ea 238.5px,#f8f4d4 273.5px,#f5f8ee 291.5px,#eaf8e9 300.5px)"></i><i style="background:linear-gradient(90deg,#eaf8e9 0.5px,#f8f7ec 12.5px,#f8f3cd 27.5px,#f8f5dc 54.5px,#f5f8ef 60.5px,#acedca 74.5px,#6acac0 87.5px,#52b2c0 104.5px,#6cccc0 124.5px,#b4efce 146.5px,#b0eecc 158.5px,#6dcdc0 185.5px,#73d1c0 203.5px,#bcf1d2 222.5px,#e6f8e7 235.5px,#f8f7eb 245.5px,#f8f4d3 276.5px,#f4f8ee 293.5px,#ebf8ea 300.5px)"></i><i style="background:linear-gradient(90deg,#ecf8ea 0.5px,#f8f8ec 10.5px,#f7f3ca 26.5px,#f8f7ea 53.5px,#edf8eb 57.5px,#b2efcd 71.5px,#6cccc0 87.5px,#64c4c0 103.5px,#7dd7c2 113.5px,#bdf1d3 123.5px,#f8f8ec 130.5px,#eee48f 138.5px,#eadd7b 142.5px,#e8da76 154.5px,#ede288 160.5px,#f8f8ed 170.5px,#9ee7c7 185.5px,#82d9c3 198.5px,#97e4c6 212.5px,#dff8e3 235.5px,#f8f8ed 252.5px,#f8f4d1 276.5px,#f8f8ee 291.5px,#ecf8ea 300.5px)"></i><i style="background:linear-gradient(90deg,#edf8eb 0.5px,#f8f7ea 9.5px,#f7f3ca 24.5px,#f2f8ed 52.5px,#a3eac7 73.5px,#72d1c0 89.5px,#7ad5c1 99.5px,#abedca 109.5px,#eff8ec 116.5px,#f8f4d3 118.5px,#ece183 122.5px,#d4bb47 132.5px,#c9a33b 148.5px,#d4bb48 165.5px,#ebdf7e 176.5px,#f8f7e6 183.5px,#e9f8e8 185.5px,#aaecc9 196.5px,#9de7c6 207.5px,#e1f8e4 240.5px,#f8f8ec 257.5px,#f8f4d0 277.5px,#f8f7e7 290.5px,#f2f8ed 297.5px,#eef8eb 300.5px)"></i><i style="background:linear-gradient(90deg,#eff8eb 0.5px,#f8f7eb 7.5px,#f7f3ca 22.5px,#f8f7eb 43.5px,#e7f8e8 51.5px,#94e2c5 79.5px,#8cdec4 91.5px,#b0eecc 100.5px,#f2f8ed 107.5px,#f4edb4 110.5px,#eadd7b 113.5px,#d1b645 121.5px,#bb7e2d 137.5px,#b8742c 151.5px,#c9a43b 170.5px,#d7c150 178.5px,#ede286 186.5px,#f8f6e3 192.5px,#f3f8ee 193.5px,#bff2d3 203.5px,#b8f0d0 214.5px,#e4f8e6 247.5px,#f8f7eb 260.5px,#f8f4cf 278.5px,#f8f6e4 291.5px,#f4f8ee 297.5px,#eff8ec 300.5px)"></i><i style="background:linear-gradient(90deg,#f1f8ec 0.5px,#f8f7e9 6.5px,#f7f2ca 21.5px,#f8f7e9 39.5px,#ebf8ea 46.5px,#a1e8c7 80.5px,#acedca 90.5px,#e2f8e5 98.5px,#f8f7eb 100.5px,#ece081 105.5px,#d1b645 113.5px,#b8762c 126.5px,#a8491e 140.5px,#aa4d20 154.5px,#be882f 171.5px,#d8c150 185.5px,#eee38b 193.5px,#f8f6e0 199.5px,#f8f8ed 200.5px,#d8f8e0 207.5px,#cff6db 219.5px,#eaf8e9 254.5px,#f8f7eb 262.5px,#f8f3ce 279.5px,#f8f7e5 293.5px,#f4f8ee 298.5px,#f1f8ec 300.5px)"></i><i style="background:linear-gradient(90deg,#f3f8ed 0.5px,#f8f7e6 5.5px,#f7f2ca 21.5px,#f5f8ee 40.5px,#b7f0d0 73.5px,#bef2d3 84.5px,#f1f8ed 93.5px,#f6f0c1 96.5px,#ece182 99.5px,#d1b645 107.5px,#b66f2b 120.5px,#9e371d 133.5px,#95291c 147.5px,#a7471e 162.5px,#cfb142 186.5px,#deca5e 192.5px,#ede288 198.5px,#f8f5d5 204.5px,#f6f8ef 207.5px,#dff8e3 217.5px,#e0f8e4 251.5px,#f8f8ee 263.5px,#f7f3cd 280.5px,#f8f7e7 295.5px,#f3f8ed 300.5px)"></i><i style="background:linear-gradient(90deg,#f5f8ef 0.5px,#f7f2ca 19.5px,#f8f7ea 35.5px,#e7f8e8 42.5px,#c7f4d7 67.5px,#d3f7dd 80.5px,#f8f7e8 88.5px,#ece183 94.5px,#d2b846 102.5px,#b66f2b 115.5px,#9b321d 128.5px,#8c221b 144.5px,#9d351d 160.5px,#bd852e 179.5px,#d7c14f 193.5px,#ede185 202.5px,#f8f5d6 210.5px,#f8f8ef 213.5px,#dff8e4 234.5px,#e0f8e4 253.5px,#f8f8ec 265.5px,#f7f3cc 281.5px,#f8f7e6 296.5px,#f5f8ef 300.5px)"></i><i style="background:linear-gradient(90deg,#f8f8ef 0.5px,#f7f2ca 17.5px,#f8f7e6 32.5px,#f0f8ec 37.5px,#d0f6dc 56.5px,#ddf8e2 75.5px,#f5f8ef 82.5px,#f3ebad 87.5px,#ebdf7f 90.5px,#d1b544 99.5px,#a8491e 119.5px,#93281c 131.5px,#962a1c 152.5px,#b05e26 171.5px,#cfb142 191.5px,#e0ce64 199.5px,#ede28a 206.5px,#f8f7e8 218.5px,#f2f8ed 223.5px,#dbf8e2 249.5px,#f8f7eb 267.5px,#f7f3cb 283.5px,#f8f7eb 299.5px,#f8f8ef 300.5px)"></i><i style="background:linear-gradient(90deg,#f8f7eb 0.5px,#f7f3ca 17.5px,#f8f7ec 32.5px,#d2f7dd 53.5px,#ebf8e9 74.5px,#f6f8ef 77.5px,#f2ebaa 83.5px,#eadc7b 87.5px,#d1b645 96.5px,#b6702b 110.5px,#a23e1d 123.5px,#9c341d 139.5px,#af5c25 165.5px,#cba93d 189.5px,#dbc759 198.5px,#efe492 210.5px,#f8f7ea 224.5px,#ebf8e9 233.5px,#dbf8e2 251.5px,#f8f8ec 268.5px,#f7f3cb 283.5px,#f8f7e8 299.5px,#f8f7eb 300.5px)"></i><i style="background:linear-gradient(90deg,#f8f7e7 0.5px,#f7f3cb 16.5px,#f8f7ea 30.5px,#d4f7de 52.5px,#f1f8ed 71.5px,#f8f8ee 73.5px,#eadc7a 84.5px,#d0b343 95.5px,#b66f2b 111.5px,#ac5322 124.5px,#bd842e 169.5px,#d4bc49 194.5px,#eee48f 212.5px,#f8f8f0 230.5px,#dbf8e1 249.5px,#f0f8ec 266.5px,#f8f7ea 270.5px,#f7f3cb 284.5px,#f8f7e7 300.5px)"></i><i style="background:linear-gradient(90deg,#f8f7e4 0.5px,#f7f3cb 15.5px,#f8f7e9 28.5px,#eff8ec 33.5px,#d6f8df 51.5px,#f5f8ee 68.5px,#f8f7e5 70.5px,#f0e699 78.5px,#e9db78 82.5px,#d0b343 94.5px,#ba7c2d 112.5px,#bb7e2d 125.5px,#ccab3e 151.5px,#ceaf41 183.5px,#dac557 195.5px,#eee490 214.5px,#f7f8f0 233.5px,#dbf8e2 250.5px,#f0f8ec 267.5px,#f8f7e9 272.5px,#f7f3cc 285.5px,#f8f7e4 300.5px)"></i><i style="background:linear-gradient(90deg,#f8f6e2 0.5px,#f8f3cd 15.5px,#f8f7ec 27.5px,#d8f8e0 48.5px,#ecf8ea 62.5px,#f8f8ec 66.5px,#f1e8a0 75.5px,#e9dc79 80.5px,#d1b544 94.5px,#c39734 110.5px,#cdad40 124.5px,#dac556 131.5px,#eee38a 139.5px,#f8f4d0 146.5px,#f8f5d5 153.5px,#f3ecaf 159.5px,#ebde7d 165.5px,#dac557 180.5px,#e3d26a 197.5px,#efe593 216.5px,#f7f3cb 228.5px,#f5f8ee 236.5px,#dbf8e2 252.5px,#f4f8ee 270.5px,#f8f7e7 274.5px,#f7f3cd 286.5px,#f8f6e2 300.5px)"></i><i style="background:linear-gradient(90deg,#f8f6df 0.5px,#f8f4ce 14.5px,#f5f8ef 28.5px,#daf8e1 47.5px,#f0f8ec 61.5px,#f8f7e6 64.5px,#f4edb3 71.5px,#eade7c 78.5px,#d2b745 96.5px,#cfb142 109.5px,#d8c352 116.5px,#ece07f 122.5px,#f8f7e5 126.5px,#dcf8e2 128.5px,#9ae5c6 133.5px,#6dcdc0 139.5px,#5fbfc0 150.5px,#76d3c1 159.5px,#b3efce 167.5px,#eef8eb 173.5px,#f8f7e9 174.5px,#f0e79a 180.5px,#ebde7d 185.5px,#ece081 204.5px,#f2e9a6 223.5px,#f5f8ef 238.5px,#dcf8e2 253.5px,#f3f8ee 271.5px,#f8f7e6 276.5px,#f8f3ce 287.5px,#f8f6e0 300.5px)"></i><i style="background:linear-gradient(90deg,#f8f6dd 0.5px,#f8f4d1 14.5px,#f5f8ee 27.5px,#dbf8e2 46.5px,#f2f8ed 59.5px,#f8f6e0 63.5px,#ebde7d 77.5px,#d9c353 97.5px,#dfcc61 107.5px,#ece183 112.5px,#f8f7ea 116.5px,#b2eecd 120.5px,#6cccc0 125.5px,#449bbe 132.5px,#386fb7 140.5px,#376cb6 151.5px,#449abe 161.5px,#6ecec0 170.5px,#b3efce 177.5px,#f7f8f0 184.5px,#f4edb5 192.5px,#f0e79b 207.5px,#f0e79d 221.5px,#f6f8ef 240.5px,#ddf8e2 254.5px,#f3f8ed 272.5px,#f8f7e4 278.5px,#f8f4cf 289.5px,#f8f6dd 300.5px)"></i><i style="background:linear-gradient(90deg,#f8f5dc 0.5px,#f8f4d2 13.5px,#f4f8ee 26.5px,#dcf8e2 45.5px,#f3f8ee 57.5px,#f8f5d8 63.5px,#ebdf7e 77.5px,#e3d26a 94.5px,#eade7c 102.5px,#f1e8a1 105.5px,#f8f6e0 108.5px,#edf8eb 109.5px,#9be5c6 114.5px,#66c6c0 118.5px,#4499be 123.5px,#3362b2 129.5px,#23309f 140.5px,#2332a0 150.5px,#3972b8 164.5px,#54b4c0 172.5px,#88dcc3 179.5px,#d1f6dd 187.5px,#f8f7ec 193.5px,#f2e9a5 212.5px,#f1e89f 221.5px,#f7f2c8 232.5px,#f6f8ef 242.5px,#ddf8e3 255.5px,#f2f8ed 273.5px,#f8f7e6 279.5px,#f8f4d0 290.5px,#f8f5dc 300.5px)"></i><i style="background:linear-gradient(90deg,#f8f5da 0.5px,#f8f5d4 13.5px,#f6f8ef 24.5px,#def8e3 43.5px,#f3f8ee 55.5px,#f8f6e1 60.5px,#ede184 76.5px,#eadd7c 90.5px,#eee48f 95.5px,#f5efbc 99.5px,#f8f8ec 102.5px,#a1e9c7 108.5px,#62c2c0 113.5px,#449bbe 117.5px,#315cb0 123.5px,#1c1a93 133.5px,#1b107b 143.5px,#1c188f 153.5px,#2539a2 160.5px,#408abc 171.5px,#5bbbc0 177.5px,#b7f0cf 189.5px,#f7f8ef 199.5px,#f2eaa7 217.5px,#f2ebab 226.5px,#f5f8ef 244.5px,#def8e3 257.5px,#f8f8ed 278.5px,#f8f4d2 290.5px,#f8f5da 300.5px)"></i><i style="background:linear-gradient(90deg,#f8f5d9 0.5px,#f8f5d7 13.5px,#f5f8ef 23.5px,#dff8e3 42.5px,#f8f7ec 56.5px,#f4eeb9 66.5px,#eee38d 75.5px,#eee38c 84.5px,#f3ecaf 91.5px,#f8f7e5 96.5px,#f1f8ed 97.5px,#a7ebc8 103.5px,#69c9c0 108.5px,#449abe 113.5px,#2d50ab 120.5px,#1c1a92 127.5px,#190b64 137.5px,#190b65 147.5px,#1d1e99 159.5px,#3f8abc 173.5px,#5fbfc0 180.5px,#b3efcd 192.5px,#f7f8ef 204.5px,#f3ebae 219.5px,#f3ecb0 228.5px,#f5f8ee 246.5px,#dff8e3 259.5px,#f8f7ec 280.5px,#f8f4d2 292.5px,#f8f5d9 300.5px)"></i><i style="background:linear-gradient(90deg,#f8f5d8 0.5px,#f8f5d9 12.5px,#f5f8ee 22.5px,#e0f8e4 41.5px,#f8f8ee 54.5px,#efe696 74.5px,#f1e8a1 82.5px,#f8f4d1 89.5px,#f6f8ef 92.5px,#baf0d1 98.5px,#68c8c0 105.5px,#459cbe 110.5px,#2d51ac 117.5px,#1c1991 124.5px,#180b5e 134.5px,#180b58 144.5px,#1b1585 156.5px,#20299d 161.5px,#418ebc 174.5px,#60c0c0 181.5px,#b7f0cf 195.5px,#f7f8f0 208.5px,#f4edb3 221.5px,#f4edb4 230.5px,#f7f8ef 247.5px,#e0f8e4 261.5px,#f8f8ed 281.5px,#f8f4d3 294.5px,#f8f5d8 300.5px)"></i><i style="background:linear-gradient(90deg,#f8f5d7 0.5px,#f8f6dc 11.5px,#f4f8ee 21.5px,#e1f8e5 40.5px,#f8f7eb 53.5px,#f1e9a2 72.5px,#f2eaa7 78.5px,#f8f5da 86.5px,#f7f8f0 88.5px,#bdf1d2 95.5px,#6ecec0 102.5px,#459dbe 108.5px,#2c4daa 116.5px,#1c1991 123.5px,#1a0c6c 132.5px,#1a0c6e 143.5px,#1e229a 156.5px,#3f87bb 172.5px,#5dbdc0 180.5px,#aeedcb 195.5px,#f7f8ef 211.5px,#f4edb5 224.5px,#f5efba 233.5px,#f6f8ef 249.5px,#e1f8e4 263.5px,#f8f7eb 283.5px,#f8f5d4 296.5px,#f8f5d7 300.5px)"></i><i style="background:linear-gradient(90deg,#f8f5d6 0.5px,#f8f6df 10.5px,#f4f8ee 20.5px,#e2f8e5 38.5px,#f8f8ed 51.5px,#f3ebac 70.5px,#f4eeb9 78.5px,#f7f8ef 85.5px,#c6f4d7 92.5px,#88dcc3 98.5px,#48a8c0 106.5px,#2e55ad 115.5px,#1c1d99 125.5px,#1c1991 137.5px,#22309f 148.5px,#3c7eba 166.5px,#59b9c0 176.5px,#a7ebc8 194.5px,#f8f8ef 214.5px,#f4eeb8 226.5px,#f5efbd 235.5px,#f6f8ef 251.5px,#e2f8e5 265.5px,#f8f8ec 284.5px,#f8f5d5 297.5px,#f8f5d6 300.5px)"></i><i style="background:linear-gradient(90deg,#f8f5d6 0.5px,#f8f7e7 12.5px,#f3f8ed 19.5px,#e3f8e6 37.5px,#f8f7eb 50.5px,#f4edb4 68.5px,#f6f1c3 76.5px,#f5f8ef 83.5px,#c2f2d5 91.5px,#75d3c1 99.5px,#459fbf 107.5px,#3464b3 115.5px,#2b4aa9 125.5px,#3361b2 140.5px,#52b2c0 166.5px,#94e2c5 185.5px,#c6f3d7 202.5px,#f8f8ec 217.5px,#f5efbb 228.5px,#f6f0c1 237.5px,#f5f8ef 253.5px,#e2f8e5 267.5px,#f8f7eb 286.5px,#f8f5d6 299.5px,#f8f5d6 300.5px)"></i><i style="background:linear-gradient(90deg,#f8f5d6 0.5px,#f4f8ee 17.5px,#e4f8e6 35.5px,#f8f7eb 48.5px,#f5eeb9 66.5px,#f7f3ca 74.5px,#f5f8ef 81.5px,#caf4d9 89.5px,#90e0c5 96.5px,#5fbfc0 103.5px,#4499be 111.5px,#3d83bb 120.5px,#46a0bf 129.5px,#7fd7c2 144.5px,#8ddec4 155.5px,#93e2c5 168.5px,#b1eecd 188.5px,#bef2d3 200.5px,#f8f8ee 219.5px,#f5efbd 231.5px,#f7f2c7 240.5px,#f5f8ef 255.5px,#e4f8e6 270.5px,#f8f7ea 288.5px,#f8f5d6 300.5px)"></i><i style="background:linear-gradient(90deg,#f8f5d6 0.5px,#f5f8ee 15.5px,#e5f8e7 34.5px,#f8f8ec 46.5px,#f5efbd 64.5px,#f7f3cb 71.5px,#f6f8ef 79.5px,#cbf5da 88.5px,#8bdec4 97.5px,#67c7c0 104.5px,#5bbbc0 115.5px,#73d2c0 122.5px,#bef1d3 128.5px,#f3f8ed 132.5px,#f8f5d5 134.5px,#e2d169 138.5px,#d5bd4a 142.5px,#d6bf4d 149.5px,#ece080 158.5px,#f8f6de 163.5px,#f8f8f0 165.5px,#dcf8e2 180.5px,#c1f2d4 198.5px,#f0f8ec 218.5px,#f8f7eb 222.5px,#f5f0bf 234.5px,#f7f3cc 243.5px,#f5f8ee 257.5px,#e4f8e6 272.5px,#f8f7ec 289.5px,#f8f5d6 300.5px)"></i><i style="background:linear-gradient(90deg,#f8f5d7 0.5px,#f5f8ef 13.5px,#e5f8e7 32.5px,#f8f8ed 44.5px,#f6f0c0 62.5px,#f8f4d4 70.5px,#f6f8ef 77.5px,#c7f4d7 88.5px,#92e1c5 98.5px,#7fd7c2 107.5px,#92e1c5 113.5px,#baf0d1 117.5px,#f3f8ee 121.5px,#f8f6df 122.5px,#f5f0be 123.5px,#eee38c 124.5px,#d5bd49 126.5px,#b9782c 131.5px,#a5431e 136.5px,#9b321d 141.5px,#a7461e 147.5px,#cca93e 160.5px,#decb60 167.5px,#ede289 173.5px,#f7f3cb 177.5px,#f8f8f0 183.5px,#caf4d9 200.5px,#d8f8e0 211.5px,#f8f8ed 224.5px,#f6f0c1 236.5px,#f8f4d1 246.5px,#f5f8ee 259.5px,#e5f8e6 274.5px,#f8f7eb 291.5px,#f8f5d7 300.5px)"></i><i style="background:linear-gradient(90deg,#f8f5da 0.5px,#f4f8ee 12.5px,#e5f8e7 30.5px,#f8f8ed 42.5px,#f6f1c2 60.5px,#f8f4d3 67.5px,#f5f8ef 75.5px,#c5f3d7 88.5px,#a3eac7 98.5px,#abedca 106.5px,#dff8e3 112.5px,#f6f8ef 114.5px,#f8f6de 115.5px,#f5efbc 116.5px,#ede184 117.5px,#d5bd4a 119.5px,#ba7c2d 123.5px,#982d1c 127.5px,#731319 130.5px,#3d0b1b 135.5px,#300b1a 140.5px,#510d1b 146.5px,#821b19 151.5px,#a94a1f 156.5px,#c09131 163.5px,#d9c353 174.5px,#ebdf7e 181.5px,#f8f4d1 186.5px,#f7f8f0 190.5px,#cff6db 203.5px,#dbf8e1 214.5px,#f8f7eb 227.5px,#f6f1c3 239.5px,#f8f6e2 254.5px,#f5f8ee 261.5px,#e5f8e6 276.5px,#f8f8ec 292.5px,#f8f5da 300.5px)"></i><i style="background:linear-gradient(90deg,#f8f6de 0.5px,#f4f8ee 10.5px,#e5f8e7 28.5px,#f8f8ed 40.5px,#f6f1c4 58.5px,#f8f6de 67.5px,#f5f8ee 73.5px,#b6f0cf 95.5px,#c9f4d9 103.5px,#f8f8ed 109.5px,#f8f5d9 110.5px,#eade7c 112.5px,#d2b745 115.5px,#b8742c 119.5px,#992f1c 122.5px,#7a1418 124.5px,#1a0a18 129.5px,#1b0a18 148.5px,#7e1719 155.5px,#ac5322 161.5px,#c09030 169.5px,#d8c252 181.5px,#ece183 187.5px,#f8f4d2 191.5px,#f8f8ed 194.5px,#d2f6dd 206.5px,#dff8e3 218.5px,#f8f8ed 229.5px,#f6f1c4 241.5px,#f8f6e2 256.5px,#f4f8ee 263.5px,#e4f8e6 277.5px,#f8f7ec 294.5px,#f8f6de 300.5px)"></i><i style="background:linear-gradient(90deg,#f8f6e2 0.5px,#f5f8ee 8.5px,#e5f8e6 26.5px,#f8f8ed 38.5px,#f6f1c5 56.5px,#f4f8ee 71.5px,#c3f3d6 92.5px,#d2f7dd 99.5px,#f8f8ec 105.5px,#f4edb4 107.5px,#e8db78 109.5px,#d3b946 112.5px,#b97a2d 116.5px,#9b331d 119.5px,#791418 121.5px,#1a0a18 125.5px,#1c0a18 151.5px,#791418 157.5px,#a9491f 164.5px,#ccaa3e 182.5px,#d8c352 186.5px,#ece081 191.5px,#f8f4d4 195.5px,#f7f8ef 198.5px,#d4f7de 208.5px,#dcf8e2 219.5px,#f8f8ee 231.5px,#f6f1c5 244.5px,#f4f8ee 265.5px,#e4f8e6 279.5px,#f8f7eb 296.5px,#f8f6e2 300.5px)"></i><i style="background:linear-gradient(90deg,#f8f7e5 0.5px,#f3f8ee 7.5px,#e4f8e6 24.5px,#f8f8ed 36.5px,#f6f1c5 54.5px,#f6f8ef 68.5px,#ccf5da 89.5px,#dff8e4 98.5px,#f3f8ee 101.5px,#f8f5d8 103.5px,#e8da77 107.5px,#d4bc48 110.5px,#bc822e 114.5px,#a13c1d 117.5px,#7f1819 119.5px,#1a0a18 123.5px,#1a0a18 152.5px,#721319 158.5px,#972c1c 164.5px,#b56a2a 178.5px,#ceb041 187.5px,#decc60 191.5px,#ebdf7f 194.5px,#f8f6de 199.5px,#f6f8ef 201.5px,#d5f7de 211.5px,#e0f8e4 223.5px,#f8f7ec 234.5px,#f6f1c5 246.5px,#f8f8ed 264.5px,#e4f8e6 281.5px,#f8f7ea 298.5px,#f8f7e5 300.5px)"></i><i style="background:linear-gradient(90deg,#f8f7ea 0.5px,#ebf8e9 10.5px,#e6f8e7 24.5px,#f8f8ed 34.5px,#f6f1c5 51.5px,#f8f5db 59.5px,#f5f8ee 66.5px,#cff6dc 85.5px,#e5f8e6 96.5px,#f8f8f0 99.5px,#f7f3cb 102.5px,#ece082 105.5px,#d4bc49 109.5px,#bd872f 113.5px,#962a1c 117.5px,#550e1b 120.5px,#1e0a18 122.5px,#1a0a18 152.5px,#6b1219 158.5px,#851d1a 163.5px,#992f1c 176.5px,#b8762c 184.5px,#d6bf4d 192.5px,#ede286 197.5px,#f8f5d5 201.5px,#f8f8ec 203.5px,#d6f7df 213.5px,#dff8e3 225.5px,#f8f8ed 236.5px,#f6f1c5 248.5px,#f8f6e4 263.5px,#f4f8ee 269.5px,#e3f8e6 283.5px,#f8f8ec 299.5px,#f8f7ea 300.5px)"></i><i style="background:linear-gradient(90deg,#f8f8ef 0.5px,#e2f8e5 19.5px,#f8f8ed 32.5px,#f6f1c3 49.5px,#f8f6dc 57.5px,#f4f8ee 64.5px,#d1f6dd 82.5px,#e5f8e6 93.5px,#f8f8ef 97.5px,#f7f2c7 101.5px,#e9db79 105.5px,#ceae41 110.5px,#bd862e 113.5px,#972c1c 117.5px,#590e1b 120.5px,#250a19 122.5px,#1a0a18 124.5px,#1a0a18 150.5px,#6a1119 157.5px,#7d1718 162.5px,#781418 174.5px,#992f1c 181.5px,#c9a43b 191.5px,#dac557 195.5px,#ede185 199.5px,#f8f4d3 203.5px,#f7f8f0 206.5px,#d8f8e0 214.5px,#d8f8e0 224.5px,#f8f8ee 238.5px,#f6f1c4 250.5px,#f8f6dd 263.5px,#f4f8ee 271.5px,#e2f8e5 284.5px,#f8f8ef 300.5px)"></i><i style="background:linear-gradient(90deg,#f5f8ee 0.5px,#e1f8e5 17.5px,#f8f8ec 30.5px,#f6f0c2 46.5px,#f8f4d2 53.5px,#f6f8ef 61.5px,#d2f6dd 79.5px,#e5f8e6 90.5px,#f8f8ee 95.5px,#f6f1c5 100.5px,#ecdf7f 104.5px,#d0b243 110.5px,#bb7f2d 114.5px,#962a1c 118.5px,#5c0f1b 121.5px,#1a0a18 124.5px,#1a0a18 147.5px,#771318 155.5px,#821a19 161.5px,#5f0f1a 173.5px,#781418 179.5px,#9c341d 184.5px,#c69d37 192.5px,#d7c04e 196.5px,#eee38a 201.5px,#f8f4d4 205.5px,#f8f8ef 208.5px,#d7f8df 217.5px,#dbf8e1 228.5px,#f8f7ec 241.5px,#f6f1c2 252.5px,#f8f5d6 263.5px,#f6f8ef 272.5px,#e1f8e4 285.5px,#f5f8ee 300.5px)"></i><i style="background:linear-gradient(90deg,#f0f8ec 0.5px,#e1f8e4 16.5px,#f8f7ec 28.5px,#f6f0bf 44.5px,#f8f4d2 51.5px,#f5f8ee 59.5px,#d2f6dd 77.5px,#e9f8e9 88.5px,#f8f8ec 93.5px,#f6f1c3 99.5px,#e8da76 105.5px,#d0b343 111.5px,#be882f 115.5px,#a13d1d 119.5px,#771418 122.5px,#1a0a18 127.5px,#1a0a18 141.5px,#811a19 150.5px,#992f1c 156.5px,#881f1a 163.5px,#570e1b 172.5px,#5c0f1a 177.5px,#881f1a 183.5px,#a8491e 187.5px,#c49a35 193.5px,#dac555 198.5px,#ecdf7f 202.5px,#f8f5d5 207.5px,#f8f8ee 210.5px,#d5f7df 220.5px,#dbf8e2 231.5px,#f8f8ed 243.5px,#f6f0c0 254.5px,#f8f4cf 263.5px,#f6f8ef 274.5px,#e0f8e4 287.5px,#f0f8ec 300.5px)"></i><i style="background:linear-gradient(90deg,#ecf8ea 0.5px,#e1f8e4 15.5px,#f8f7eb 26.5px,#f5efbd 41.5px,#f7f3cb 48.5px,#f7f8ef 56.5px,#d1f6dc 74.5px,#e8f8e8 85.5px,#f8f7e9 91.5px,#f5f0bf 98.5px,#eadd7b 105.5px,#ceaf41 114.5px,#bd862e 118.5px,#92271b 124.5px,#6a1119 128.5px,#570e1b 132.5px,#6c1219 137.5px,#9a311c 143.5px,#b26228 149.5px,#b56c2b 154.5px,#aa4d20 160.5px,#801819 167.5px,#590f1b 174.5px,#64101a 179.5px,#89201a 184.5px,#a94a1f 188.5px,#c49835 194.5px,#d8c252 199.5px,#ede287 204.5px,#f8f5d6 209.5px,#f5f8ef 213.5px,#d4f7de 223.5px,#dcf8e2 234.5px,#f8f8ee 245.5px,#f5f0be 256.5px,#f7f2c9 264.5px,#f6f8ef 276.5px,#dff8e4 288.5px,#ecf8ea 300.5px)"></i><i style="background:linear-gradient(90deg,#e7f8e8 0.5px,#e1f8e5 14.5px,#f8f7ea 24.5px,#f5efba 39.5px,#f7f2ca 46.5px,#f6f8ef 54.5px,#d0f6dc 71.5px,#e7f8e7 82.5px,#f8f7eb 88.5px,#f2ebab 99.5px,#e9db78 109.5px,#ddc95c 115.5px,#caa53c 120.5px,#b4692a 127.5px,#b4692a 131.5px,#bd852e 134.5px,#c7a039 136.5px,#dbc658 143.5px,#dbc758 149.5px,#c8a139 157.5px,#b26228 163.5px,#8f241b 168.5px,#6f1219 173.5px,#67111a 178.5px,#851d1a 184.5px,#a23f1d 188.5px,#c7a039 196.5px,#dbc759 201.5px,#eee38d 206.5px,#f8f5d6 211.5px,#f6f8ef 215.5px,#d2f6dd 226.5px,#ddf8e2 237.5px,#f8f7ea 248.5px,#f5efbc 258.5px,#f6f1c5 266.5px,#f6f8ef 278.5px,#def8e3 290.5px,#e7f8e8 300.5px)"></i><i style="background:linear-gradient(90deg,#e3f8e5 0.5px,#e2f8e5 13.5px,#f8f8ee 21.5px,#f4eeb8 36.5px,#f6f1c3 43.5px,#f8f8f0 51.5px,#cff6db 68.5px,#e4f8e6 79.5px,#f8f7ec 85.5px,#f1e9a2 100.5px,#f2eaa9 106.5px,#f7f3cc 114.5px,#f4edb3 117.5px,#ebdf7e 120.5px,#decc60 125.5px,#ece182 129.5px,#f8f6dd 133.5px,#f8f8ed 134.5px,#c1f2d4 141.5px,#c3f3d6 145.5px,#f8f7eb 152.5px,#f7f2c7 154.5px,#ede288 156.5px,#d4bb47 160.5px,#b05d26 167.5px,#95291c 171.5px,#751318 178.5px,#8a201a 185.5px,#a4411e 189.5px,#c79e38 197.5px,#dac455 202.5px,#ece081 207.5px,#f8f5d6 213.5px,#f8f8f0 217.5px,#d1f6dd 228.5px,#d9f8e0 238.5px,#f8f7eb 250.5px,#f5eeba 260.5px,#f6f0c2 268.5px,#f7f8ef 280.5px,#ddf8e3 292.5px,#e3f8e5 300.5px)"></i><i style="background:linear-gradient(90deg,#dff8e4 0.5px,#e6f8e7 13.5px,#f8f8ed 19.5px,#f4edb5 34.5px,#f6f1c2 41.5px,#f7f8f0 49.5px,#cdf5db 66.5px,#e6f8e7 77.5px,#f8f8ed 82.5px,#f2e9a5 97.5px,#f3ecae 102.5px,#f8f8ee 108.5px,#c1f2d4 115.5px,#cff6dc 121.5px,#d9f8e1 125.5px,#bff2d4 128.5px,#6bcbc0 133.5px,#459fbf 138.5px,#4190bd 143.5px,#4eaec0 149.5px,#72d1c0 153.5px,#b0eecc 156.5px,#f7f8f0 159.5px,#f8f4d2 160.5px,#f0e79e 161.5px,#e8d976 162.5px,#d4bd49 164.5px,#b7732c 169.5px,#9a311c 174.5px,#831b19 180.5px,#8f251b 186.5px,#ab5121 191.5px,#c79f38 198.5px,#d9c354 203.5px,#ede289 209.5px,#f8f5d5 215.5px,#f5f8ef 220.5px,#cff6dc 231.5px,#d6f8df 240.5px,#f8f8ec 252.5px,#f4eeb8 262.5px,#f5f0bf 270.5px,#f7f8ef 282.5px,#ddf8e3 293.5px,#dff8e4 300.5px)"></i><i style="background:linear-gradient(90deg,#ddf8e3 0.5px,#ebf8ea 13.5px,#f8f8ed 17.5px,#f4edb4 31.5px,#f5efbc 38.5px,#f6f8ef 47.5px,#cbf5da 63.5px,#e3f8e6 74.5px,#f8f8ee 79.5px,#f1e9a5 94.5px,#f2eaa9 99.5px,#f8f4d0 103.5px,#f3f8ed 106.5px,#c5f3d6 109.5px,#78d4c1 113.5px,#60c0c0 117.5px,#79d4c1 125.5px,#5abac0 129.5px,#3b79b9 133.5px,#2a47a8 138.5px,#263ba3 144.5px,#2c4eab 149.5px,#3972b8 153.5px,#4aaac0 156.5px,#6bcbc0 158.5px,#a8ecc8 160.5px,#ebf8e9 162.5px,#f8f6de 163.5px,#e9db78 165.5px,#d4bc48 167.5px,#b8742c 172.5px,#9f391d 177.5px,#92271b 182.5px,#9b321d 187.5px,#cdac3f 200.5px,#e1d067 206.5px,#efe491 211.5px,#f8f4d4 217.5px,#f7f8ef 222.5px,#cdf5da 234.5px,#d7f8df 243.5px,#f8f8ed 254.5px,#f4edb6 264.5px,#f4eeb9 271.5px,#f7f8ef 284.5px,#ddf8e2 295.5px,#ddf8e3 300.5px)"></i><i style="background:linear-gradient(90deg,#dcf8e2 0.5px,#eef8eb 12.5px,#f8f8ec 15.5px,#f3ecb2 29.5px,#f5efbc 36.5px,#f6f8ef 45.5px,#caf4d9 60.5px,#ddf8e2 70.5px,#f8f8f0 76.5px,#f1e9a4 91.5px,#f2eaa7 97.5px,#f7f2c8 101.5px,#f8f8ee 104.5px,#cef5db 107.5px,#82d9c3 110.5px,#5ebec0 112.5px,#469fbf 115.5px,#4499be 118.5px,#5abac0 124.5px,#51b1c0 127.5px,#3d82bb 130.5px,#263aa3 135.5px,#1f269c 139.5px,#2333a1 148.5px,#3362b2 154.5px,#4398be 157.5px,#72d1c0 160.5px,#b5efcf 162.5px,#d9f8e1 163.5px,#f2f8ed 164.5px,#f8f5d6 165.5px,#e8da77 167.5px,#d6bf4c 169.5px,#bc842e 174.5px,#ab4f21 180.5px,#a9491f 185.5px,#b7732c 192.5px,#d4bd49 202.5px,#eee48f 212.5px,#f8f5d8 220.5px,#f4f8ee 225.5px,#cbf5d9 237.5px,#d8f8e0 246.5px,#f8f8ee 256.5px,#f4edb5 266.5px,#f4eeb6 273.5px,#f7f8ef 286.5px,#dcf8e2 298.5px,#dcf8e2 300.5px)"></i><i style="background:linear-gradient(90deg,#ddf8e2 0.5px,#f8f8ec 13.5px,#f4edb2 26.5px,#f4eeb8 33.5px,#f5f8ee 43.5px,#c8f4d8 58.5px,#def8e3 68.5px,#f8f8ed 74.5px,#f2e9a5 87.5px,#f1e9a3 94.5px,#f6f0c1 99.5px,#f8f8ed 103.5px,#d4f7de 106.5px,#89dcc4 109.5px,#63c3c0 111.5px,#459fbf 114.5px,#418fbc 117.5px,#59b9c0 124.5px,#4fafc0 127.5px,#3059af 132.5px,#273ea4 135.5px,#2946a7 139.5px,#3d82bb 153.5px,#48a8c0 156.5px,#6ecec0 159.5px,#b9f0d1 162.5px,#e9f8e9 164.5px,#f8f7eb 165.5px,#f8f4d0 166.5px,#ebdf7e 168.5px,#d2b846 172.5px,#bc832e 180.5px,#bb7e2d 186.5px,#d3b946 199.5px,#eee490 213.5px,#f8f6e1 224.5px,#f6f8ef 227.5px,#caf4d9 239.5px,#d2f7dd 247.5px,#f8f8ee 258.5px,#f4edb4 268.5px,#f4edb5 275.5px,#f6f8ef 288.5px,#ddf8e2 300.5px)"></i><i style="background:linear-gradient(90deg,#dff8e3 0.5px,#f8f8ee 11.5px,#f3ecb2 24.5px,#f4eeb8 31.5px,#f4f8ee 41.5px,#c7f4d7 56.5px,#e2f8e5 67.5px,#f7f8f0 71.5px,#f1e9a4 84.5px,#f1e8a1 91.5px,#f7f2c8 98.5px,#f3f8ed 103.5px,#cdf5db 106.5px,#91e0c5 109.5px,#62c2c0 112.5px,#4aaac0 116.5px,#5abac0 121.5px,#6acac0 125.5px,#54b4c0 128.5px,#3466b4 132.5px,#3058af 135.5px,#3973b8 138.5px,#4cacc0 142.5px,#5fbfc0 149.5px,#72d1c0 155.5px,#b5efcf 160.5px,#eff8ec 164.5px,#f8f7ec 165.5px,#f3ebae 168.5px,#ebdf7e 170.5px,#d3ba47 177.5px,#cdad40 186.5px,#d9c353 195.5px,#f0e79c 216.5px,#f8f8f0 229.5px,#c9f4d9 241.5px,#d1f6dc 249.5px,#f8f8ee 260.5px,#f4edb5 270.5px,#f4edb4 277.5px,#f5f8ee 290.5px,#dff8e3 300.5px)"></i><i style="background:linear-gradient(90deg,#e2f8e5 0.5px,#f8f8f0 9.5px,#f4edb2 22.5px,#f5eeb9 29.5px,#f4f8ee 39.5px,#c7f4d8 53.5px,#d9f8e0 62.5px,#f8f8ee 69.5px,#f1e9a4 81.5px,#f1e8a0 88.5px,#f7f3cb 96.5px,#f8f8ee 101.5px,#d1f6dc 106.5px,#97e4c6 110.5px,#6dcdc0 114.5px,#6cccc0 119.5px,#8edfc4 125.5px,#7bd5c2 127.5px,#47a4bf 130.5px,#3974b9 132.5px,#3568b5 134.5px,#3b7cba 136.5px,#53b3c0 139.5px,#70d0c0 143.5px,#72d1c0 153.5px,#b1eecd 160.5px,#e9f8e9 165.5px,#f8f8ef 167.5px,#f3ecb0 172.5px,#ece080 176.5px,#e4d46e 185.5px,#efe491 203.5px,#f0e79a 217.5px,#f7f2c7 225.5px,#f8f8ee 231.5px,#c7f4d8 244.5px,#d7f8df 253.5px,#f8f8ec 262.5px,#f4edb3 273.5px,#f4eeb7 280.5px,#f5f8ee 292.5px,#e2f8e5 300.5px)"></i><i style="background:linear-gradient(90deg,#edf8ea 0.5px,#f8f7ea 8.5px,#f8f3cd 25.5px,#f8f6e3 34.5px,#f1f8ec 38.5px,#ddf8e3 49.5px,#ecf8ea 65.5px,#f8f7e9 69.5px,#f4edb4 78.5px,#f5efba 83.5px,#f8f6dc 91.5px,#f3f8ed 103.5px,#cff6db 108.5px,#9ce6c6 113.5px,#97e3c6 117.5px,#cef6db 125.5px,#c4f3d6 127.5px,#95e2c5 129.5px,#5dbdc0 131.5px,#49a9c0 132.5px,#408cbc 134.5px,#4398be 140.5px,#3a77b9 148.5px,#3e84bb 155.5px,#4fafc0 160.5px,#6ecec0 163.5px,#a9ecc9 166.5px,#e4f8e6 169.5px,#f8f7ea 171.5px,#f4edb2 176.5px,#f4edb4 180.5px,#f7f3cd 187.5px,#f5efbb 198.5px,#f8f4d4 209.5px,#f3ecb1 221.5px,#f8f6e3 230.5px,#f5f8ee 233.5px,#e1f8e4 243.5px,#e4f8e6 258.5px,#f8f8ed 264.5px,#f8f4ce 273.5px,#f8f6e3 290.5px,#f4f8ee 296.5px,#edf8ea 300.5px)"></i><i style="background:linear-gradient(90deg,#f8f8f0 0.5px,#f8f7ec 10.5px,#f8f7ea 25.5px,#f8f7e5 32.5px,#f2f8ed 38.5px,#f2f8ed 46.5px,#f8f7e8 50.5px,#f8f6e2 56.5px,#f3f8ed 61.5px,#ebf8ea 68.5px,#f8f8ed 72.5px,#f8f4d2 78.5px,#f8f7e8 83.5px,#f3f8ed 85.5px,#e3f8e5 91.5px,#f8f8ee 96.5px,#f7f2c7 101.5px,#f8f4d1 104.5px,#f7f8ef 107.5px,#bbf1d2 113.5px,#baf1d1 116.5px,#f8f7ec 123.5px,#f8f7e6 126.5px,#f8f8f0 127.5px,#def8e3 129.5px,#a3eac7 131.5px,#66c6c0 133.5px,#4498be 135.5px,#2f56ae 138.5px,#20279c 142.5px,#1d2099 147.5px,#1f259b 157.5px,#2c4daa 161.5px,#376eb7 163.5px,#48a7c0 165.5px,#75d3c1 167.5px,#c0f2d4 169.5px,#f4f8ee 171.5px,#f3ebad 174.5px,#f0e79d 176.5px,#f5efbb 179.5px,#f8f8ed 183.5px,#f5f8ee 188.5px,#f8f5db 191.5px,#f1e8a0 196.5px,#f2e9a5 199.5px,#f8f8ef 205.5px,#e4f8e6 210.5px,#f8f8ef 216.5px,#f8f4d3 221.5px,#f8f6e0 226.5px,#f6f8ef 229.5px,#eaf8e9 236.5px,#f8f8ee 241.5px,#f8f6e0 247.5px,#f5f8ee 253.5px,#f0f8ec 261.5px,#f8f7e7 267.5px,#f8f7e8 274.5px,#f2f8ed 281.5px,#f8f7ec 298.5px,#f8f8f0 300.5px)"></i><i style="background:linear-gradient(90deg,#f8f8ef 0.5px,#f8f7ea 9.5px,#f5f8ee 22.5px,#f8f7e5 32.5px,#f2f8ed 38.5px,#f3f8ee 46.5px,#f8f6dd 55.5px,#f3f8ee 61.5px,#eaf8e9 68.5px,#f8f8ee 72.5px,#f8f4d3 78.5px,#f7f8ef 84.5px,#e0f8e4 90.5px,#f8f8ee 96.5px,#f6f0c1 101.5px,#f7f2c9 104.5px,#f4f8ee 108.5px,#c8f4d8 114.5px,#dcf8e2 118.5px,#f6f8ef 121.5px,#f8f5d6 125.5px,#f5f8ee 128.5px,#d1f6dd 130.5px,#90e0c5 132.5px,#6fcfc0 133.5px,#47a6c0 135.5px,#3872b8 137.5px,#273fa5 141.5px,#2435a1 145.5px,#263ca4 152.5px,#263ba3 158.5px,#3464b3 162.5px,#4aaac0 165.5px,#76d3c1 167.5px,#bcf1d2 169.5px,#dcf8e2 170.5px,#eff8ec 171.5px,#f8f4d4 173.5px,#f5eeba 175.5px,#f6f0c0 177.5px,#f7f8f0 181.5px,#e1f8e4 186.5px,#f8f8ef 191.5px,#f4edb4 196.5px,#f4edb3 199.5px,#f5f8ee 205.5px,#e1f8e5 210.5px,#f7f8f0 216.5px,#f8f4d3 222.5px,#f5f8ee 229.5px,#eaf8e9 236.5px,#f8f8ec 241.5px,#f8f6dd 247.5px,#f3f8ee 254.5px,#f2f8ed 262.5px,#f8f7e6 273.5px,#f2f8ed 280.5px,#f8f8ed 299.5px,#f8f8ef 300.5px)"></i><i style="background:linear-gradient(90deg,#f8f8ef 0.5px,#f8f7ea 9.5px,#f5f8ee 22.5px,#f8f7e5 32.5px,#f2f8ed 38.5px,#f3f8ee 46.5px,#f8f6dd 55.5px,#f3f8ee 61.5px,#eaf8e9 68.5px,#f8f8ee 72.5px,#f8f4d3 78.5px,#f7f8ef 84.5px,#e0f8e4 90.5px,#f8f8ee 96.5px,#f6f0c0 101.5px,#f7f2c7 104.5px,#f6f8ef 108.5px,#d0f6dc 114.5px,#ebf8e9 119.5px,#f8f7e8 121.5px,#f5efbc 125.5px,#f7f2c8 127.5px,#f8f7e7 129.5px,#f0f8ec 130.5px,#c8f4d8 132.5px,#90e0c5 134.5px,#67c7c0 136.5px,#48a8c0 140.5px,#55b5c0 145.5px,#6cccc0 150.5px,#48a7c0 159.5px,#5dbdc0 163.5px,#7ad5c1 165.5px,#aeedcb 167.5px,#e2f8e5 169.5px,#f3f8ee 170.5px,#f4edb3 174.5px,#f4edb6 176.5px,#f8f8ec 180.5px,#daf8e1 185.5px,#ebf8e9 190.5px,#f8f8ec 192.5px,#f5eeb9 197.5px,#f6f1c3 200.5px,#f8f8ed 204.5px,#e1f8e4 210.5px,#f7f8ef 216.5px,#f8f4d3 222.5px,#f5f8ee 229.5px,#eaf8e9 236.5px,#f8f8ec 241.5px,#f8f6dd 247.5px,#f3f8ee 254.5px,#f2f8ed 262.5px,#f8f7e6 273.5px,#f2f8ed 280.5px,#f8f8ed 299.5px,#f8f8ef 300.5px)"></i><i style="background:linear-gradient(90deg,#f8f8ef 0.5px,#f8f7ea 9.5px,#f5f8ee 22.5px,#f8f7e5 32.5px,#f2f8ed 38.5px,#f3f8ee 46.5px,#f8f6dd 55.5px,#f3f8ee 61.5px,#eaf8e9 68.5px,#f8f8ee 72.5px,#f8f4d3 78.5px,#f7f8ef 84.5px,#e0f8e4 90.5px,#f8f8ee 96.5px,#f6f0c0 101.5px,#f7f2c7 104.5px,#f7f8ef 108.5px,#d2f7dd 114.5px,#eef8eb 119.5px,#f8f8f0 120.5px,#f2eaa7 125.5px,#f2eaa9 127.5px,#f8f8ef 131.5px,#a6ebc8 136.5px,#91e1c5 139.5px,#a5ebc8 142.5px,#e6f8e7 146.5px,#f8f7eb 148.5px,#f8f6dd 150.5px,#f2f8ed 153.5px,#c7f4d8 156.5px,#9be5c6 159.5px,#94e2c5 162.5px,#b7f0cf 165.5px,#f8f8ed 169.5px,#f2e9a6 173.5px,#f1e9a3 175.5px,#f8f8ed 180.5px,#d7f8df 185.5px,#e8f8e8 190.5px,#f8f8f0 192.5px,#f5efbd 197.5px,#f6f1c6 200.5px,#f8f8ee 204.5px,#e1f8e4 210.5px,#f7f8ef 216.5px,#f8f4d3 222.5px,#f5f8ee 229.5px,#eaf8e9 236.5px,#f8f8ec 241.5px,#f8f6dd 247.5px,#f3f8ee 254.5px,#f2f8ed 262.5px,#f8f7e6 273.5px,#f2f8ed 280.5px,#f8f8ed 299.5px,#f8f8ef 300.5px)"></i></div><div class="fld" style="left:389px"><i style="background:linear-gradient(90deg,#f4edb2 0.5px,#f8f7ea 34.5px,#d3f7dd 78.5px,#d1f6dd 219.5px,#f4f8ee 263.5px,#f4edb2 300.5px)"></i><i style="background:linear-gradient(90deg,#f5eeb9 0.5px,#f3f8ed 29.5px,#cff6dc 74.5px,#d3f7dd 235.5px,#f8f8ec 274.5px,#f5eeb9 300.5px)"></i><i style="background:linear-gradient(90deg,#f6f1c5 0.5px,#f4f8ee 20.5px,#d0f6dc 61.5px,#d6f8df 183.5px,#d1f6dd 243.5px,#f4f8ee 280.5px,#f6f1c5 300.5px)"></i><i style="background:linear-gradient(90deg,#f8f5d4 0.5px,#f3f8ee 13.5px,#cff6db 53.5px,#e1f8e5 169.5px,#d0f6dc 249.5px,#f3f8ee 287.5px,#f8f5d4 300.5px)"></i><i style="background:linear-gradient(90deg,#f8f6e2 0.5px,#f3f8ed 6.5px,#cff6dc 44.5px,#eff8eb 159.5px,#cff6dc 256.5px,#f3f8ed 294.5px,#f8f6e2 300.5px)"></i><i style="background:linear-gradient(90deg,#f1f8ed 0.5px,#cff6db 37.5px,#ebf8ea 99.5px,#f8f7ea 121.5px,#f8f6e2 165.5px,#f1f8ed 192.5px,#cff6db 262.5px,#eff8ec 299.5px,#f1f8ed 300.5px)"></i><i style="background:linear-gradient(90deg,#e7f8e7 0.5px,#cff6db 35.5px,#f8f7eb 96.5px,#f7f3cc 140.5px,#f8f5da 189.5px,#f2f8ed 211.5px,#cff6db 269.5px,#e7f8e7 300.5px)"></i><i style="background:linear-gradient(90deg,#dff8e3 0.5px,#d0f6dc 31.5px,#f8f8ed 79.5px,#f5eeb9 127.5px,#f5eeba 174.5px,#f8f8ed 221.5px,#cff6dc 272.5px,#dff8e3 300.5px)"></i><i style="background:linear-gradient(90deg,#d9f8e0 0.5px,#d3f7dd 28.5px,#f8f7ea 67.5px,#f3ecaf 112.5px,#f2e9a5 166.5px,#f6f1c2 207.5px,#f3f8ee 237.5px,#d0f6dc 282.5px,#d9f8e0 300.5px)"></i><i style="background:linear-gradient(90deg,#d4f7de 0.5px,#d9f8e1 28.5px,#f8f8ed 55.5px,#f2ebab 96.5px,#f0e699 150.5px,#f2ebab 204.5px,#f8f8ed 245.5px,#d1f6dc 285.5px,#d4f7de 300.5px)"></i><i style="background:linear-gradient(90deg,#d1f6dc 0.5px,#e9f8e9 36.5px,#f8f7ea 46.5px,#f2eaa8 84.5px,#efe697 133.5px,#f1e8a1 208.5px,#f7f2ca 238.5px,#f4f8ee 257.5px,#d1f6dc 295.5px,#d1f6dd 300.5px)"></i><i style="background:linear-gradient(90deg,#d1f6dd 0.5px,#f3f8ee 34.5px,#f1e9a4 74.5px,#f0e698 116.5px,#f1e89f 219.5px,#f7f2c7 247.5px,#f3f8ee 266.5px,#d1f6dd 300.5px)"></i><i style="background:linear-gradient(90deg,#d5f7df 0.5px,#f8f8ed 28.5px,#f2eaa7 61.5px,#f0e699 94.5px,#f2e9a5 167.5px,#f0e79b 226.5px,#f5f0bf 253.5px,#f4f8ee 274.5px,#d5f7df 300.5px)"></i><i style="background:linear-gradient(90deg,#dbf8e1 0.5px,#f8f7ea 21.5px,#f2e9a6 52.5px,#f0e79a 81.5px,#f5efba 153.5px,#f0e79a 233.5px,#f4eeb7 258.5px,#f5f8ee 281.5px,#dbf8e1 300.5px)"></i><i style="background:linear-gradient(90deg,#e1f8e5 0.5px,#f8f7ea 14.5px,#f2e9a5 44.5px,#f0e79c 71.5px,#f8f4d3 141.5px,#f7f2c6 182.5px,#f0e79a 236.5px,#f3ebac 261.5px,#f3f8ed 289.5px,#e1f8e5 300.5px)"></i><i style="background:linear-gradient(90deg,#ebf8e9 0.5px,#f8f7ea 7.5px,#f2e9a5 36.5px,#f0e79e 61.5px,#f8f6e2 124.5px,#f8f7eb 161.5px,#f6f0c1 208.5px,#f0e79b 245.5px,#f2ebab 268.5px,#f5f8ee 295.5px,#ebf8e9 300.5px)"></i><i style="background:linear-gradient(90deg,#f8f8ed 0.5px,#f2e9a6 28.5px,#f1e89f 51.5px,#f4f8ee 110.5px,#e7f8e7 160.5px,#f8f7eb 195.5px,#f1e89e 250.5px,#f2eaa7 273.5px,#f8f8ed 300.5px)"></i><i style="background:linear-gradient(90deg,#f8f5d9 0.5px,#f1e9a4 23.5px,#f1e9a2 45.5px,#f4f8ee 91.5px,#daf8e1 138.5px,#e8f8e8 196.5px,#f8f7ea 213.5px,#f1e8a1 257.5px,#f2e9a5 278.5px,#f8f5d9 300.5px)"></i><i style="background:linear-gradient(90deg,#f7f2c8 0.5px,#f1e8a1 19.5px,#f2eaa7 40.5px,#f4f8ee 77.5px,#d1f6dc 125.5px,#d4f7de 183.5px,#f6f8ef 224.5px,#f1e9a3 264.5px,#f1e9a4 284.5px,#f7f2c8 300.5px)"></i><i style="background:linear-gradient(90deg,#f4eeb7 0.5px,#f1e89f 19.5px,#f4eeb6 40.5px,#f5f8ee 65.5px,#caf5d9 112.5px,#c8f4d8 181.5px,#f1f8ec 233.5px,#f8f7e9 238.5px,#f1e9a4 272.5px,#f2e9a6 291.5px,#f4eeb7 300.5px)"></i><i style="background:linear-gradient(90deg,#f2ebab 0.5px,#f1e9a3 18.5px,#f7f2c9 39.5px,#f4f8ee 55.5px,#c6f3d7 102.5px,#c2f3d5 189.5px,#e9f8e8 238.5px,#f8f8ec 247.5px,#f2eaa6 278.5px,#f2eaa7 297.5px,#f2ebab 300.5px)"></i><i style="background:linear-gradient(90deg,#f1e9a4 0.5px,#f3ebac 18.5px,#f4f8ee 46.5px,#c4f3d6 90.5px,#c3f3d6 208.5px,#f1f8ed 253.5px,#f8f6e3 259.5px,#f2eaa6 286.5px,#f1e9a4 300.5px)"></i><i style="background:linear-gradient(90deg,#f1e9a3 0.5px,#f5efbb 18.5px,#f3f8ed 38.5px,#c3f3d6 79.5px,#c4f3d6 223.5px,#f5f8ef 263.5px,#f2eaa8 292.5px,#f1e9a3 300.5px)"></i><i style="background:linear-gradient(90deg,#f2eaa8 0.5px,#f8f6df 24.5px,#f3f8ee 30.5px,#c3f3d6 69.5px,#cbf5d9 131.5px,#c4f3d6 232.5px,#f3f8ee 270.5px,#f2eaa9 299.5px,#f2eaa8 300.5px)"></i><i style="background:linear-gradient(90deg,#f3ecb1 0.5px,#f2f8ed 23.5px,#c3f3d6 60.5px,#ccf5da 104.5px,#daf8e1 160.5px,#c2f2d5 236.5px,#e8f8e8 272.5px,#f8f8ed 279.5px,#f3ecb2 300.5px)"></i><i style="background:linear-gradient(90deg,#f6f0c1 0.5px,#f3f8ed 16.5px,#c4f3d6 51.5px,#cdf5da 88.5px,#e9f8e8 149.5px,#cef6db 210.5px,#c3f3d6 248.5px,#f0f8ec 283.5px,#f8f7e8 287.5px,#f6f0c1 300.5px)"></i><i style="background:linear-gradient(90deg,#f8f4d4 0.5px,#f5f8ee 9.5px,#c4f3d6 43.5px,#cef6db 76.5px,#f8f7ec 128.5px,#f8f7e4 162.5px,#f2f8ed 181.5px,#c2f2d5 248.5px,#d9f8e0 275.5px,#f8f8ee 292.5px,#f8f4d4 300.5px)"></i><i style="background:linear-gradient(90deg,#f8f7e5 0.5px,#f1f8ed 4.5px,#c5f3d6 36.5px,#d0f6dc 66.5px,#f8f7eb 103.5px,#f6f1c6 141.5px,#f8f4d1 175.5px,#f2f8ed 202.5px,#c3f3d6 254.5px,#d5f7de 279.5px,#f8f7e9 299.5px,#f8f7e5 300.5px)"></i><i style="background:linear-gradient(90deg,#edf8eb 0.5px,#c5f3d6 31.5px,#d4f7de 59.5px,#f8f7eb 87.5px,#f3ecae 126.5px,#f2eaa8 164.5px,#f7f3cc 196.5px,#f4f8ee 216.5px,#c4f3d6 261.5px,#d4f7de 285.5px,#edf8eb 300.5px)"></i><i style="background:linear-gradient(90deg,#e2f8e5 0.5px,#c5f3d6 27.5px,#e0f8e4 59.5px,#f8f8ed 74.5px,#f1e9a4 110.5px,#eee48e 149.5px,#f1e9a3 189.5px,#f8f7e9 225.5px,#ebf8e9 233.5px,#c5f3d6 270.5px,#d9f8e1 294.5px,#e2f8e5 300.5px)"></i><i style="background:linear-gradient(90deg,#daf8e1 0.5px,#c6f3d7 23.5px,#ecf8ea 58.5px,#f8f7ea 64.5px,#f0e79d 97.5px,#ece081 135.5px,#eee38b 186.5px,#f4eeb6 216.5px,#f5f8ee 238.5px,#c6f4d7 275.5px,#d5f7df 297.5px,#daf8e1 300.5px)"></i><i style="background:linear-gradient(90deg,#d2f6dd 0.5px,#c9f4d9 22.5px,#f8f8ed 54.5px,#f0e79b 85.5px,#ecdf7f 116.5px,#ede186 198.5px,#f3ecb0 225.5px,#f3f8ed 248.5px,#c7f4d8 282.5px,#d2f6dd 300.5px)"></i><i style="background:linear-gradient(90deg,#ccf5da 0.5px,#d0f6dc 22.5px,#f8f8f0 45.5px,#f0e79a 74.5px,#ecdf7f 100.5px,#ede185 211.5px,#f3ecb2 236.5px,#f4f8ee 256.5px,#c9f4d8 288.5px,#ccf5da 300.5px)"></i><i style="background:linear-gradient(90deg,#caf4d9 0.5px,#ddf8e2 24.5px,#f8f7eb 38.5px,#efe697 66.5px,#ecdf7f 90.5px,#ede186 172.5px,#ede183 220.5px,#f3ebac 243.5px,#f3f8ee 264.5px,#caf4d9 294.5px,#caf4d9 300.5px)"></i><i style="background:linear-gradient(90deg,#cbf5d9 0.5px,#f1f8ec 28.5px,#f8f7ea 31.5px,#efe595 58.5px,#ece080 81.5px,#f1e89f 155.5px,#ece080 222.5px,#f0e79c 245.5px,#f4f8ee 271.5px,#cbf5da 299.5px,#cbf5d9 300.5px)"></i><i style="background:linear-gradient(90deg,#cff6dc 0.5px,#f8f7eb 24.5px,#efe596 50.5px,#ece081 72.5px,#f1e9a2 110.5px,#f6f0c0 148.5px,#f2eaaa 184.5px,#ece081 226.5px,#efe492 248.5px,#f7f3cb 267.5px,#f3f8ed 278.5px,#d0f6dc 300.5px)"></i><i style="background:linear-gradient(90deg,#d7f8e0 0.5px,#f8f8ef 17.5px,#f0e79a 41.5px,#ece183 61.5px,#f0e79c 88.5px,#f8f5d8 127.5px,#f8f6e0 161.5px,#f6f1c2 190.5px,#ede186 230.5px,#eee38d 252.5px,#f6f0c0 271.5px,#f4f8ee 284.5px,#d7f8e0 300.5px)"></i><i style="background:linear-gradient(90deg,#dff8e4 0.5px,#f8f8ee 11.5px,#f0e699 35.5px,#ede185 54.5px,#f1e8a1 78.5px,#f7f8ef 116.5px,#e5f8e7 153.5px,#f8f7ec 186.5px,#eee38b 237.5px,#eee38b 257.5px,#f4eeb7 275.5px,#f4f8ee 290.5px,#dff8e4 300.5px)"></i><i style="background:linear-gradient(90deg,#e9f8e9 0.5px,#f7f8f0 5.5px,#f0e79b 28.5px,#ede288 46.5px,#f1e9a4 68.5px,#f5f8ee 98.5px,#d5f7df 136.5px,#ddf8e3 180.5px,#f8f8ec 204.5px,#eee490 243.5px,#eee38b 262.5px,#f3ecb0 279.5px,#f3f8ee 296.5px,#e9f8e9 300.5px)"></i><i style="background:linear-gradient(90deg,#f8f8ed 0.5px,#f0e79a 23.5px,#eee38b 40.5px,#f2eaaa 60.5px,#f5f8ef 84.5px,#c6f4d7 126.5px,#c5f3d7 172.5px,#f3f8ed 215.5px,#f4edb5 236.5px,#eee38c 257.5px,#efe594 274.5px,#f7f2ca 291.5px,#f8f8ed 300.5px)"></i><i style="background:linear-gradient(90deg,#f8f5d7 0.5px,#f0e698 19.5px,#eee48f 36.5px,#f4edb6 55.5px,#f5f8ee 73.5px,#bdf1d2 115.5px,#b4efce 167.5px,#d3f7de 206.5px,#f8f7ea 229.5px,#f0e698 257.5px,#eee48f 274.5px,#f3ecb0 290.5px,#f8f5d7 300.5px)"></i><i style="background:linear-gradient(90deg,#f6f1c4 0.5px,#efe595 16.5px,#efe594 32.5px,#f6f1c2 50.5px,#f2f8ed 64.5px,#b9f0d0 103.5px,#abedc9 160.5px,#c0f2d4 205.5px,#f8f8ed 238.5px,#f0e79b 264.5px,#efe492 281.5px,#f4eeb8 297.5px,#f6f1c4 300.5px)"></i><i style="background:linear-gradient(90deg,#f3ecb1 0.5px,#efe593 15.5px,#f1e8a1 31.5px,#f3f8ee 55.5px,#b6f0cf 92.5px,#a9ecc8 146.5px,#b5efce 206.5px,#eef8eb 243.5px,#f8f7ea 247.5px,#f0e79d 271.5px,#efe595 287.5px,#f3ecb1 300.5px)"></i><i style="background:linear-gradient(90deg,#f1e9a4 0.5px,#efe596 15.5px,#f4edb5 31.5px,#f3f8ee 47.5px,#b6efcf 82.5px,#acedca 126.5px,#b2eecd 213.5px,#e1f8e4 245.5px,#f8f8f0 254.5px,#f1e9a2 276.5px,#efe696 291.5px,#f1e9a4 300.5px)"></i><i style="background:linear-gradient(90deg,#f0e79d 0.5px,#f1e89f 15.5px,#f8f6de 35.5px,#f2f8ed 40.5px,#b6efcf 73.5px,#afeecb 109.5px,#b5efcf 171.5px,#b0eecc 220.5px,#d7f8df 247.5px,#f8f7eb 262.5px,#f1e9a3 283.5px,#f0e79b 298.5px,#f0e79d 300.5px)"></i><i style="background:linear-gradient(90deg,#f0e79b 0.5px,#f3ecae 15.5px,#f3f8ee 33.5px,#b6efcf 65.5px,#b2efcd 97.5px,#caf4d9 155.5px,#afeecc 225.5px,#cff6dc 251.5px,#f7f8f0 268.5px,#f2eaa7 288.5px,#f0e79c 300.5px)"></i><i style="background:linear-gradient(90deg,#f1e8a0 0.5px,#f6f0c0 14.5px,#f2f8ed 27.5px,#b7f0d0 57.5px,#b4efce 85.5px,#def8e3 141.5px,#d1f6dd 183.5px,#b0eecc 229.5px,#c7f4d8 254.5px,#f8f7eb 275.5px,#f2eaa6 295.5px,#f1e8a0 300.5px)"></i><i style="background:linear-gradient(90deg,#f2eaa9 0.5px,#f6f8ef 20.5px,#b9f0d1 49.5px,#b6f0cf 74.5px,#f8f8ec 140.5px,#f0f8ec 172.5px,#b2efcd 235.5px,#c5f3d7 259.5px,#f8f7eb 281.5px,#f2eaaa 300.5px)"></i><i style="background:linear-gradient(90deg,#f5eeb9 0.5px,#f3f8ed 15.5px,#b9f0d1 44.5px,#bbf1d1 68.5px,#f8f7ec 110.5px,#f5efbe 142.5px,#f7f2c7 168.5px,#f3f8ed 193.5px,#b6efcf 240.5px,#c2f3d5 263.5px,#f7f8f0 286.5px,#f5eeb9 300.5px)"></i><i style="background:linear-gradient(90deg,#f8f3ce 0.5px,#f1f8ed 10.5px,#baf1d1 38.5px,#bff2d3 61.5px,#f8f8ed 94.5px,#f1e9a3 124.5px,#eee491 152.5px,#f2ebaa 180.5px,#f3f8ed 208.5px,#b9f0d0 246.5px,#c2f2d5 268.5px,#f8f7ec 292.5px,#f8f3ce 300.5px)"></i><i style="background:linear-gradient(90deg,#f8f6df 0.5px,#f4f8ee 4.5px,#bcf1d2 32.5px,#c1f2d4 53.5px,#f8f8ed 82.5px,#efe596 110.5px,#ebde7d 130.5px,#ece081 178.5px,#f4edb6 202.5px,#f2f8ed 220.5px,#bbf1d2 253.5px,#c4f3d6 274.5px,#f8f8ed 297.5px,#f8f6df 300.5px)"></i><i style="background:linear-gradient(90deg,#f1f8ed 0.5px,#bef1d3 27.5px,#c6f4d7 48.5px,#f8f7ec 72.5px,#eee38c 99.5px,#e8db78 117.5px,#e7d974 176.5px,#eee38a 200.5px,#f8f7e7 227.5px,#eff8ec 231.5px,#bdf1d2 261.5px,#c8f4d8 281.5px,#f1f8ed 300.5px)"></i><i style="background:linear-gradient(90deg,#e5f8e6 0.5px,#bef2d3 24.5px,#cdf5db 44.5px,#f8f8ed 63.5px,#eee38a 88.5px,#e6d873 109.5px,#e5d670 184.5px,#ede288 211.5px,#f8f7e7 236.5px,#eef8eb 240.5px,#bff2d4 267.5px,#c9f4d9 286.5px,#e5f8e7 300.5px)"></i><i style="background:linear-gradient(90deg,#dcf8e2 0.5px,#c0f2d4 21.5px,#d4f7de 40.5px,#f8f8ed 55.5px,#ede288 79.5px,#e5d56f 106.5px,#e6d873 203.5px,#ede288 221.5px,#f4f8ee 246.5px,#c3f3d5 272.5px,#cbf5d9 291.5px,#dcf8e2 300.5px)"></i><i style="background:linear-gradient(90deg,#d4f7de 0.5px,#c3f3d6 19.5px,#e9f8e8 43.5px,#f8f7eb 48.5px,#ece183 72.5px,#e4d46e 104.5px,#e7d975 215.5px,#ede28a 230.5px,#f6f8ef 253.5px,#c5f3d6 278.5px,#cff6db 297.5px,#d5f7de 300.5px)"></i><i style="background:linear-gradient(90deg,#cef5db 0.5px,#c8f4d8 18.5px,#f8f8ec 41.5px,#ede185 64.5px,#e5d670 91.5px,#e9dc79 170.5px,#e7d874 221.5px,#ede288 237.5px,#f5f8ee 260.5px,#c7f4d8 284.5px,#cef6db 300.5px)"></i><i style="background:linear-gradient(90deg,#cbf5d9 0.5px,#d2f6dd 18.5px,#f8f7ea 35.5px,#ece182 58.5px,#e6d772 86.5px,#eee38b 123.5px,#f1e89e 153.5px,#e7d874 208.5px,#ebde7e 239.5px,#f3ecaf 253.5px,#f6f8ef 266.5px,#cbf5da 287.5px,#cbf5da 300.5px)"></i><i style="background:linear-gradient(90deg,#cbf5d9 0.5px,#e0f8e4 20.5px,#f8f7ea 29.5px,#ede186 51.5px,#e7d874 74.5px,#ede288 101.5px,#f8f4d0 138.5px,#f7f3cc 165.5px,#eade7c 208.5px,#e9db78 239.5px,#ede28a 250.5px,#f6f8ef 272.5px,#cdf5db 293.5px,#cbf5da 300.5px)"></i><i style="background:linear-gradient(90deg,#cef6db 0.5px,#f0f8ec 21.5px,#f8f7e7 24.5px,#ede184 46.5px,#e8da77 69.5px,#ede289 87.5px,#f8f7e5 120.5px,#f3f8ee 126.5px,#e6f8e7 156.5px,#f8f8ed 177.5px,#f2eaa8 202.5px,#ebde7d 220.5px,#eadd7c 248.5px,#efe696 259.5px,#f4f8ee 278.5px,#cff6db 299.5px,#cef6db 300.5px)"></i><i style="background:linear-gradient(90deg,#d4f7de 0.5px,#f8f7eb 18.5px,#ede288 40.5px,#e9db79 58.5px,#ede288 75.5px,#f6f8ef 105.5px,#cdf5da 136.5px,#cff6dc 167.5px,#f8f8ed 196.5px,#ece081 228.5px,#ebde7d 253.5px,#efe696 264.5px,#f6f8ef 283.5px,#d5f7de 300.5px)"></i><i style="background:linear-gradient(90deg,#dcf8e2 0.5px,#f8f7ea 13.5px,#ede28a 35.5px,#eadd7b 50.5px,#ede289 65.5px,#f4f8ee 92.5px,#b8f0d0 127.5px,#b0eecc 161.5px,#d1f6dd 191.5px,#f8f8ed 209.5px,#ede289 235.5px,#eadd7c 252.5px,#eee38a 265.5px,#f6f8ef 288.5px,#dcf8e2 300.5px)"></i><i style="background:linear-gradient(90deg,#e4f8e6 0.5px,#f8f7eb 8.5px,#eee38d 30.5px,#ebde7e 43.5px,#ede28a 56.5px,#f7f2c7 72.5px,#f2f8ed 82.5px,#adedcb 115.5px,#9be6c6 153.5px,#b2eecd 188.5px,#f8f7eb 220.5px,#eee490 242.5px,#ebdf7e 255.5px,#eee38b 269.5px,#f7f2c7 284.5px,#f2f8ed 294.5px,#e4f8e6 300.5px)"></i><i style="background:linear-gradient(90deg,#eef8eb 0.5px,#f8f7e8 4.5px,#eee48e 26.5px,#ece081 40.5px,#f1e8a1 55.5px,#f5f8ee 72.5px,#a9ecc8 104.5px,#91e0c5 143.5px,#9fe8c7 188.5px,#cff6db 214.5px,#f8f7eb 229.5px,#efe595 249.5px,#ece081 264.5px,#f1e89e 279.5px,#f4f8ee 298.5px,#eef8eb 300.5px)"></i><i style="background:linear-gradient(90deg,#f8f7e6 0.5px,#efe593 21.5px,#ede288 35.5px,#f2eaa9 49.5px,#f4f8ee 64.5px,#a7ecc8 94.5px,#8edfc4 130.5px,#97e3c6 191.5px,#bcf1d2 216.5px,#f8f8ec 237.5px,#f0e698 256.5px,#ede287 270.5px,#f1e9a3 284.5px,#f8f7e6 300.5px)"></i><i style="background:linear-gradient(90deg,#f8f5d6 0.5px,#efe697 17.5px,#eee48f 31.5px,#f4eeb7 45.5px,#f8f8ef 56.5px,#a7ecc8 85.5px,#8fe0c4 117.5px,#96e3c5 200.5px,#bbf1d2 224.5px,#f8f8ef 244.5px,#f1e8a1 261.5px,#eee38e 275.5px,#f2eaa9 289.5px,#f8f5d6 300.5px)"></i><i style="background:linear-gradient(90deg,#f7f2c6 0.5px,#f0e698 15.5px,#f0e699 28.5px,#f6f1c5 41.5px,#f4f8ee 50.5px,#a5ebc8 79.5px,#93e1c5 109.5px,#96e3c5 176.5px,#9ce6c6 213.5px,#c3f3d5 234.5px,#f8f8ed 251.5px,#f1e9a2 268.5px,#efe594 281.5px,#f4edb3 295.5px,#f7f2c7 300.5px)"></i><i style="background:linear-gradient(90deg,#f4eeb8 0.5px,#f0e69a 14.5px,#f2eaa8 27.5px,#f8f8f0 43.5px,#a8ecc8 71.5px,#97e4c6 97.5px,#adedca 158.5px,#99e4c6 213.5px,#b5efce 235.5px,#f8f8f0 257.5px,#f2eaa9 273.5px,#f0e79b 286.5px,#f5eeb9 300.5px)"></i><i style="background:linear-gradient(90deg,#f3ecaf 0.5px,#f1e8a0 14.5px,#f5f0bf 27.5px,#f3f8ed 38.5px,#a7ecc8 66.5px,#9de6c6 91.5px,#cdf5db 149.5px,#b3efcd 185.5px,#9ce6c6 218.5px,#b3efce 240.5px,#f8f8ee 263.5px,#f3ebac 279.5px,#f1e8a2 292.5px,#f3ecb0 300.5px)"></i><i style="background:linear-gradient(90deg,#f2ebab 0.5px,#f2eaaa 13.5px,#f8f6e0 29.5px,#f1f8ec 33.5px,#a8ecc8 61.5px,#a3e9c7 84.5px,#ebf8e9 137.5px,#eaf8e9 164.5px,#bff2d3 195.5px,#a0e8c7 222.5px,#afeecc 243.5px,#f8f7eb 269.5px,#f3ecae 285.5px,#f2eaa9 298.5px,#f3ebac 300.5px)"></i><i style="background:linear-gradient(90deg,#f3ebac 0.5px,#f5eeb9 13.5px,#f4f8ee 27.5px,#acedca 55.5px,#a8ecc8 76.5px,#f2f8ed 115.5px,#f4edb4 143.5px,#f5eeba 162.5px,#f2f8ed 185.5px,#a8ecc8 224.5px,#acedca 245.5px,#f4f8ee 273.5px,#f3ecb1 291.5px,#f3ebac 300.5px)"></i><i style="background:linear-gradient(90deg,#f3ecb0 0.5px,#f8f3ce 13.5px,#f4f8ee 22.5px,#afeecb 50.5px,#adedcb 69.5px,#eef8eb 99.5px,#f8f7eb 102.5px,#efe592 125.5px,#eade7c 140.5px,#ede185 169.5px,#f6f0c0 188.5px,#f2f8ed 200.5px,#afeecc 230.5px,#aeeecb 249.5px,#edf8eb 276.5px,#f8f7e7 280.5px,#f4edb4 297.5px,#f3ecb1 300.5px)"></i><i style="background:linear-gradient(90deg,#f5eeb9 0.5px,#f5f8ef 17.5px,#b3efcd 45.5px,#b4efce 63.5px,#f3f8ed 89.5px,#f4eeb8 100.5px,#ebdf7e 114.5px,#e1cf66 148.5px,#e9dc7a 183.5px,#efe697 193.5px,#f8f8ef 210.5px,#b6efcf 236.5px,#b4efce 255.5px,#f8f7eb 284.5px,#f5efba 300.5px)"></i><i style="background:linear-gradient(90deg,#f7f2c6 0.5px,#f3f8ee 13.5px,#b6f0cf 41.5px,#bdf1d2 59.5px,#f8f7ea 81.5px,#ebdf7e 101.5px,#dcc85b 134.5px,#dfcc61 175.5px,#ede185 201.5px,#f5f8ef 220.5px,#baf1d1 243.5px,#b9f0d1 261.5px,#f8f8f0 288.5px,#f7f2c7 300.5px)"></i><i style="background:linear-gradient(90deg,#f8f4d4 0.5px,#f2f8ed 9.5px,#baf1d1 37.5px,#c4f3d6 54.5px,#f7f8ef 72.5px,#ebdf7f 91.5px,#dac657 122.5px,#d9c454 172.5px,#e8da77 205.5px,#efe593 213.5px,#f7f8ef 228.5px,#bef2d3 250.5px,#bff2d4 267.5px,#f8f7eb 293.5px,#f8f5d4 300.5px)"></i><i style="background:linear-gradient(90deg,#f8f6e0 0.5px,#f2f8ed 5.5px,#bff2d4 32.5px,#caf5d9 49.5px,#f8f8ec 65.5px,#ebdf7e 83.5px,#dac557 112.5px,#d8c252 177.5px,#e5d56f 209.5px,#ede288 219.5px,#f8f8ec 235.5px,#c4f3d6 255.5px,#c4f3d6 272.5px,#f8f7ec 297.5px,#f8f6e0 300.5px)"></i><i style="background:linear-gradient(90deg,#f6f8ef 0.5px,#c4f3d6 27.5px,#d0f6dc 44.5px,#f8f8ef 58.5px,#ebdf7e 76.5px,#dbc658 104.5px,#dcc75a 198.5px,#ecdf7f 224.5px,#f8f8ef 242.5px,#cbf5da 259.5px,#c8f4d8 276.5px,#f6f8ef 300.5px)"></i><i style="background:linear-gradient(90deg,#edf8ea 0.5px,#c8f4d8 25.5px,#ddf8e2 43.5px,#f8f8ec 52.5px,#ebdf7e 70.5px,#dcc85b 96.5px,#dcc95c 177.5px,#dfcd62 212.5px,#ece183 231.5px,#f8f8ec 248.5px,#cff6db 265.5px,#cef5db 282.5px,#edf8ea 300.5px)"></i><i style="background:linear-gradient(90deg,#e6f8e7 0.5px,#ccf5da 22.5px,#e9f8e8 42.5px,#f8f8ee 46.5px,#ebde7e 65.5px,#decb5f 90.5px,#e7d975 159.5px,#decb60 211.5px,#ece081 236.5px,#f8f8ee 254.5px,#d4f7de 269.5px,#d1f6dd 286.5px,#e7f8e7 300.5px)"></i><i style="background:linear-gradient(90deg,#e2f8e5 0.5px,#d1f6dd 20.5px,#f1f8ec 39.5px,#f8f5da 44.5px,#ebdf7e 60.5px,#e0ce64 84.5px,#eadd7c 118.5px,#f3ebad 146.5px,#f1e8a0 165.5px,#e8db78 186.5px,#e0cf65 218.5px,#ece182 241.5px,#f5f8ef 260.5px,#d3f7de 278.5px,#def8e3 297.5px,#e2f8e5 300.5px)"></i><i style="background:linear-gradient(90deg,#dff8e3 0.5px,#d8f8e0 19.5px,#f6f8ef 35.5px,#ebdf7e 56.5px,#e2d169 79.5px,#ece081 104.5px,#f8f6dc 127.5px,#f5f8ee 134.5px,#e9f8e9 155.5px,#f8f7ec 168.5px,#f3ecaf 185.5px,#eade7c 199.5px,#e3d26a 225.5px,#ece182 245.5px,#f6f8ef 265.5px,#d8f8e0 281.5px,#dff8e3 300.5px)"></i><i style="background:linear-gradient(90deg,#ddf8e2 0.5px,#dff8e4 20.5px,#f8f7ea 31.5px,#ece07f 52.5px,#e5d56f 74.5px,#ede186 92.5px,#f8f8ee 112.5px,#c2f2d5 136.5px,#bcf1d2 158.5px,#edf8ea 185.5px,#f8f8ee 188.5px,#ece080 210.5px,#e5d670 233.5px,#ede184 249.5px,#f6f8ef 270.5px,#daf8e1 287.5px,#ddf8e3 300.5px)"></i><i style="background:linear-gradient(90deg,#dcf8e2 0.5px,#e6f8e7 19.5px,#f8f8ed 26.5px,#ece080 49.5px,#e8d976 70.5px,#eee38a 82.5px,#f8f7eb 99.5px,#a9ecc8 125.5px,#93e2c5 150.5px,#a9ecc9 175.5px,#f8f7eb 201.5px,#ede288 219.5px,#e7d975 235.5px,#ede185 252.5px,#f5f8ee 275.5px,#dcf8e2 292.5px,#ddf8e2 300.5px)"></i><i style="background:linear-gradient(90deg,#ddf8e3 0.5px,#eef8eb 18.5px,#f8f7eb 22.5px,#ece183 46.5px,#eade7c 65.5px,#efe593 74.5px,#f8f7eb 89.5px,#9fe8c7 114.5px,#7bd5c2 140.5px,#82d9c3 168.5px,#b1eecc 192.5px,#f8f7eb 211.5px,#eee490 227.5px,#eade7c 236.5px,#ede185 254.5px,#f8f3ce 271.5px,#f3f8ed 280.5px,#def8e3 298.5px,#def8e3 300.5px)"></i><i style="background:linear-gradient(90deg,#dff8e4 0.5px,#f8f7ea 18.5px,#eee38d 41.5px,#ecdf7f 54.5px,#f0e697 66.5px,#f6f8ef 81.5px,#9de7c6 104.5px,#70d0c0 129.5px,#70d0c0 171.5px,#a1e8c7 197.5px,#f6f8ef 219.5px,#f0e699 234.5px,#ece080 246.5px,#efe595 261.5px,#f4f8ee 284.5px,#e0f8e4 300.5px)"></i><i style="background:linear-gradient(90deg,#e3f8e5 0.5px,#f8f7ea 14.5px,#efe595 37.5px,#eee38c 51.5px,#f3ecaf 63.5px,#f3f8ee 74.5px,#9ce6c6 96.5px,#6ecec0 119.5px,#69c9c0 169.5px,#7ed7c2 191.5px,#b9f0d1 212.5px,#f8f7eb 227.5px,#f1e8a0 241.5px,#eee38d 253.5px,#f2e9a5 268.5px,#f4f8ee 288.5px,#e3f8e5 300.5px)"></i><i style="background:linear-gradient(90deg,#e7f8e7 0.5px,#f8f7ec 10.5px,#f0e79e 33.5px,#f0e69a 47.5px,#f5efbc 58.5px,#f5f8ee 67.5px,#9ae5c6 90.5px,#6fcfc0 112.5px,#6acac0 177.5px,#7ed7c2 198.5px,#bbf1d2 219.5px,#f5f8ee 233.5px,#f2eaa7 248.5px,#f0e699 261.5px,#f5eeb9 276.5px,#f4f8ee 292.5px,#e7f8e8 300.5px)"></i><i style="background:linear-gradient(90deg,#ecf8ea 0.5px,#f8f7e9 7.5px,#f2e9a5 30.5px,#f2eaa8 44.5px,#f8f6de 58.5px,#f4f8ee 61.5px,#9be6c6 84.5px,#70d0c0 107.5px,#73d1c0 194.5px,#a0e8c7 217.5px,#f4f8ee 239.5px,#f3ebad 255.5px,#f2e9a6 269.5px,#f8f3ce 284.5px,#f3f8ee 296.5px,#ecf8ea 300.5px)"></i><i style="background:linear-gradient(90deg,#f3f8ed 0.5px,#f8f7e5 5.5px,#f3ebad 26.5px,#f4edb5 40.5px,#f5f8ef 55.5px,#9ce6c6 79.5px,#77d4c1 101.5px,#80d8c2 165.5px,#7ad5c1 200.5px,#a1e8c7 222.5px,#f5f8ef 245.5px,#f4edb3 262.5px,#f3ecb2 276.5px,#f5f8ee 299.5px,#f3f8ed 300.5px)"></i><i style="background:linear-gradient(90deg,#f8f7ea 0.5px,#f4edb4 23.5px,#f6f0c2 37.5px,#f3f8ee 50.5px,#9be5c6 76.5px,#80d8c2 97.5px,#a7ebc8 153.5px,#82d9c3 204.5px,#9fe8c7 225.5px,#f3f8ed 250.5px,#f4eeb9 269.5px,#f5f0be 283.5px,#f8f7eb 300.5px)"></i><i style="background:linear-gradient(90deg,#f8f6e2 0.5px,#f5efbb 20.5px,#f8f4ce 34.5px,#f3f8ed 45.5px,#9ce6c6 73.5px,#8cdec4 93.5px,#afeecc 118.5px,#ddf8e2 143.5px,#d4f7de 165.5px,#97e3c6 196.5px,#90e0c5 217.5px,#b6f0cf 236.5px,#f8f8f0 256.5px,#f6f1c3 272.5px,#f6f1c3 286.5px,#f8f6e2 300.5px)"></i><i style="background:linear-gradient(90deg,#f8f5db 0.5px,#f6f1c2 18.5px,#f8f7e6 37.5px,#f0f8ec 41.5px,#9de7c6 72.5px,#9be5c6 91.5px,#c4f3d6 109.5px,#f8f7eb 125.5px,#f3ebac 142.5px,#f2eaa9 156.5px,#f8f6dc 172.5px,#f1f8ec 177.5px,#a2e9c7 205.5px,#9be6c6 224.5px,#c0f2d4 242.5px,#f8f7eb 262.5px,#f6f1c5 281.5px,#f8f5d7 298.5px,#f8f5db 300.5px)"></i><i style="background:linear-gradient(90deg,#f8f5d6 0.5px,#f7f2ca 16.5px,#f6f8ef 35.5px,#a5eac8 68.5px,#a7ecc8 85.5px,#e0f8e4 104.5px,#f6f8ef 109.5px,#ecdf7f 126.5px,#e1cf66 149.5px,#eadd7c 172.5px,#f1e8a2 180.5px,#f6f8ef 191.5px,#afeecb 212.5px,#a5eac8 229.5px,#d5f7df 252.5px,#f8f7eb 267.5px,#f7f3ca 286.5px,#f8f5d7 300.5px)"></i><i style="background:linear-gradient(90deg,#f8f4d3 0.5px,#f8f4d3 16.5px,#f4f8ee 31.5px,#aeedcb 65.5px,#b5efcf 80.5px,#f4f8ee 98.5px,#eee38d 110.5px,#e6d671 117.5px,#d4bd49 141.5px,#d8c251 166.5px,#ece080 188.5px,#f8f7e9 201.5px,#e6f8e7 205.5px,#b3efcd 223.5px,#b5efcf 239.5px,#f8f8ed 271.5px,#f8f4cf 290.5px,#f8f4d4 300.5px)"></i><i style="background:linear-gradient(90deg,#f8f4d2 0.5px,#f8f6e0 19.5px,#f3f8ed 27.5px,#b9f0d0 61.5px,#c5f3d6 76.5px,#f8f7ea 90.5px,#ebde7d 103.5px,#d3ba47 124.5px,#cdac3f 156.5px,#d8c251 181.5px,#ece183 198.5px,#f8f7eb 210.5px,#c1f2d4 227.5px,#bff2d4 243.5px,#f8f8ec 276.5px,#f8f4d2 296.5px,#f8f4d3 300.5px)"></i><i style="background:linear-gradient(90deg,#f8f4d3 0.5px,#f8f8ed 20.5px,#c3f3d6 57.5px,#d3f7de 72.5px,#f8f8f0 82.5px,#ebdf7e 95.5px,#d3b946 115.5px,#c8a23a 148.5px,#d1b645 182.5px,#e0cf65 197.5px,#ede287 206.5px,#f8f8f0 218.5px,#cef6db 231.5px,#c9f4d9 248.5px,#f8f8ed 280.5px,#f8f4d4 300.5px)"></i><i style="background:linear-gradient(90deg,#f8f5d6 0.5px,#f4f8ee 19.5px,#cef5db 51.5px,#ddf8e3 68.5px,#f5f8ef 75.5px,#efe592 86.5px,#e9dc79 90.5px,#d2b846 109.5px,#c79f38 143.5px,#ceae40 182.5px,#d9c353 197.5px,#ede184 212.5px,#f8f7e8 224.5px,#ecf8ea 227.5px,#d1f6dc 244.5px,#eef8eb 279.5px,#f8f7ea 286.5px,#f8f5d6 300.5px)"></i><i style="background:linear-gradient(90deg,#f8f5da 0.5px,#f4f8ee 15.5px,#d9f8e0 41.5px,#e1f8e5 62.5px,#f6f8ef 69.5px,#f2eaa9 78.5px,#eadd7c 84.5px,#d2b846 104.5px,#c8a23a 139.5px,#ceaf41 187.5px,#d9c353 202.5px,#eee38a 218.5px,#f8f5db 228.5px,#f7f8ef 231.5px,#dcf8e2 243.5px,#e3f8e6 274.5px,#f8f8ec 289.5px,#f8f5da 300.5px)"></i><i style="background:linear-gradient(90deg,#f8f6df 0.5px,#f5f8ee 11.5px,#ddf8e3 36.5px,#eaf8e9 59.5px,#f8f7ea 64.5px,#f3ebac 73.5px,#ebde7e 79.5px,#d3ba47 100.5px,#cdac3f 134.5px,#d1b645 194.5px,#ddc95c 209.5px,#ede288 222.5px,#f8f5d9 233.5px,#f2f8ed 238.5px,#dff8e3 256.5px,#eef8eb 286.5px,#f8f7eb 294.5px,#f8f6e0 300.5px)"></i><i style="background:linear-gradient(90deg,#f8f7e6 0.5px,#f4f8ee 8.5px,#e1f8e4 32.5px,#eff8eb 55.5px,#f8f8f0 58.5px,#f2ebab 69.5px,#eadd7c 76.5px,#d4bb48 99.5px,#d4bc48 135.5px,#d5be4a 201.5px,#ebdf7f 224.5px,#f8f5da 238.5px,#f4f8ee 243.5px,#e2f8e5 265.5px,#f1f8ec 291.5px,#f8f7e8 299.5px,#f8f7e6 300.5px)"></i><i style="background:linear-gradient(90deg,#f8f8ed 0.5px,#e3f8e6 26.5px,#f6f8ef 52.5px,#f5efbb 63.5px,#ebde7d 73.5px,#d8c251 95.5px,#dac556 118.5px,#e7d975 151.5px,#d8c251 199.5px,#e4d46e 220.5px,#eee38d 229.5px,#f8f5d8 242.5px,#f6f8ef 248.5px,#e4f8e6 278.5px,#f8f8ed 300.5px)"></i><i style="background:linear-gradient(90deg,#f6f8ef 0.5px,#e5f8e6 21.5px,#f8f8ef 48.5px,#f2eaa9 63.5px,#eadd7b 72.5px,#ddc95c 92.5px,#e3d36c 112.5px,#ede28a 123.5px,#f8f5d6 137.5px,#f5f8ee 148.5px,#f8f7e8 157.5px,#f6f0bf 168.5px,#eadd7c 181.5px,#decb5f 203.5px,#e6d771 222.5px,#eee38e 231.5px,#f8f5d7 246.5px,#f6f8ef 254.5px,#e7f8e7 288.5px,#f6f8ef 300.5px)"></i><i style="background:linear-gradient(90deg,#f0f8ec 0.5px,#e7f8e8 21.5px,#f8f7eb 44.5px,#f2eaa9 61.5px,#eadc7a 72.5px,#e2d169 90.5px,#ece080 106.5px,#f6f8ef 120.5px,#afeecb 138.5px,#a2e9c7 153.5px,#bef2d3 167.5px,#f6f8ef 180.5px,#ede184 194.5px,#e4d36c 210.5px,#ece080 229.5px,#f8f5d7 250.5px,#f6f8ef 260.5px,#e7f8e8 292.5px,#f0f8ec 300.5px)"></i><i style="background:linear-gradient(90deg,#edf8ea 0.5px,#ebf8e9 21.5px,#f8f7eb 39.5px,#f2eaa8 60.5px,#eadd7c 73.5px,#eadc7a 90.5px,#eee38d 96.5px,#f4f8ee 108.5px,#9de6c6 124.5px,#6fcfc0 140.5px,#72d1c0 161.5px,#a7ecc8 178.5px,#f4f8ee 192.5px,#efe592 204.5px,#eadd7c 211.5px,#ece080 227.5px,#f8f5d6 253.5px,#f6f8ef 266.5px,#e8f8e8 295.5px,#edf8ea 300.5px)"></i><i style="background:linear-gradient(90deg,#eaf8e9 0.5px,#eff8ec 22.5px,#f8f7eb 34.5px,#f1e8a0 63.5px,#ece182 77.5px,#efe593 86.5px,#f7f2c8 94.5px,#f2f8ed 99.5px,#9ee7c7 113.5px,#69c9c0 126.5px,#51b1c0 149.5px,#67c7c0 172.5px,#92e1c5 184.5px,#d2f6dd 195.5px,#f8f7ea 202.5px,#f0e79d 213.5px,#eee38b 223.5px,#f4eeb6 242.5px,#f7f8f0 271.5px,#e8f8e8 297.5px,#eaf8e9 300.5px)"></i><i style="background:linear-gradient(90deg,#e9f8e8 0.5px,#f6f8ef 24.5px,#f0e79d 73.5px,#f3ecb1 82.5px,#f5f8ee 91.5px,#a0e8c7 105.5px,#69c9c0 117.5px,#46a1bf 138.5px,#459ebf 158.5px,#5dbdc0 177.5px,#7fd8c2 188.5px,#bcf1d2 199.5px,#f5f8ef 209.5px,#f3ecae 220.5px,#f2eaa7 231.5px,#f5f8ef 277.5px,#e9f8e8 300.5px)"></i><i style="background:linear-gradient(90deg,#e8f8e8 0.5px,#f8f7ea 25.5px,#f7f2ca 49.5px,#f4eeb7 71.5px,#f8f5d9 81.5px,#f8f8f0 84.5px,#a6ebc8 98.5px,#68c8c0 111.5px,#459dbe 130.5px,#408cbc 151.5px,#48a8c0 173.5px,#7bd5c2 193.5px,#bdf1d2 205.5px,#f8f8f0 216.5px,#f8f4cf 222.5px,#f5efbc 232.5px,#f8f6e4 272.5px,#f3f8ee 282.5px,#e8f8e8 300.5px)"></i><i style="background:linear-gradient(90deg,#e8f8e8 0.5px,#f8f7ec 21.5px,#f8f4d2 37.5px,#f8f3ce 68.5px,#f8f7e8 77.5px,#f1f8ed 79.5px,#baf1d1 90.5px,#6cccc0 105.5px,#459fbf 125.5px,#3f8abc 148.5px,#459ebf 172.5px,#68c8c0 192.5px,#aeedcb 207.5px,#e6f8e7 218.5px,#f7f8f0 222.5px,#f8f5d4 230.5px,#f8f5d9 271.5px,#f6f8ef 283.5px,#e8f8e8 300.5px)"></i><i style="background:linear-gradient(90deg,#e8f8e8 0.5px,#f8f7ea 19.5px,#f8f4d2 34.5px,#f8f6e0 68.5px,#f3f8ee 73.5px,#c2f2d5 85.5px,#7cd6c2 98.5px,#4dadc0 117.5px,#4395bd 144.5px,#47a5c0 174.5px,#71d1c0 198.5px,#bcf1d2 213.5px,#eaf8e9 224.5px,#f8f7ea 229.5px,#f8f5da 244.5px,#f8f5d8 273.5px,#f5f8ee 286.5px,#e8f8e8 300.5px)"></i><i style="background:linear-gradient(90deg,#e9f8e8 0.5px,#f8f7ec 16.5px,#f8f4d2 32.5px,#f8f7ec 65.5px,#cbf5d9 80.5px,#8addc4 93.5px,#67c7c0 103.5px,#4cacc0 128.5px,#57b7c0 183.5px,#79d4c1 201.5px,#bef1d3 216.5px,#e7f8e8 228.5px,#f8f7eb 236.5px,#f8f4d4 271.5px,#f5f8ef 288.5px,#e9f8e8 300.5px)"></i><i style="background:linear-gradient(90deg,#eaf8e9 0.5px,#f8f7eb 14.5px,#f8f4d2 29.5px,#f4f8ee 62.5px,#c4f3d6 79.5px,#83dac3 94.5px,#67c7c0 106.5px,#63c3c0 132.5px,#65c5c0 168.5px,#6cccc0 194.5px,#98e4c6 209.5px,#dff8e3 228.5px,#f8f8ed 244.5px,#f8f4d4 273.5px,#f5f8ef 290.5px,#eaf8e9 300.5px)"></i><i style="background:linear-gradient(90deg,#ebf8e9 0.5px,#f8f7eb 12.5px,#f8f4d2 27.5px,#f4f8ee 56.5px,#c6f3d7 77.5px,#88dcc3 94.5px,#71d1c0 109.5px,#89ddc4 127.5px,#b1eecd 149.5px,#9ae5c6 167.5px,#79d5c1 188.5px,#8cdec4 204.5px,#c6f3d7 221.5px,#e7f8e7 237.5px,#f8f7ec 252.5px,#f8f4d3 274.5px,#f5f8ee 292.5px,#ebf8e9 300.5px)"></i><i style="background:linear-gradient(90deg,#ecf8ea 0.5px,#f8f7eb 10.5px,#f8f4d2 25.5px,#f8f7ec 45.5px,#caf4d9 75.5px,#94e2c5 94.5px,#90e0c5 107.5px,#b6efcf 120.5px,#f4f8ee 132.5px,#f2e9a5 143.5px,#efe697 151.5px,#f3ecb0 159.5px,#f4f8ee 168.5px,#a4eac7 186.5px,#95e3c5 200.5px,#bdf1d3 218.5px,#e0f8e4 235.5px,#f8f7eb 256.5px,#f8f4d3 275.5px,#f4f8ee 294.5px,#ecf8ea 300.5px)"></i><i style="background:linear-gradient(90deg,#eef8eb 0.5px,#f8f7ec 8.5px,#f8f4d2 24.5px,#f3f8ed 47.5px,#c2f3d5 79.5px,#a5ebc8 96.5px,#bcf1d2 107.5px,#f5f8ee 117.5px,#ede289 125.5px,#dac556 136.5px,#d2b846 147.5px,#d7c150 161.5px,#ece182 174.5px,#f8f6e4 182.5px,#f5f8ee 183.5px,#b7f0d0 196.5px,#b1eecd 208.5px,#def8e3 235.5px,#f8f7eb 259.5px,#f8f4d3 277.5px,#f4f8ee 296.5px,#eef8eb 300.5px)"></i><i style="background:linear-gradient(90deg,#f0f8ec 0.5px,#f8f7e9 7.5px,#f8f4d2 23.5px,#f3f8ee 44.5px,#d9f8e1 67.5px,#c0f2d4 93.5px,#ddf8e2 103.5px,#f4f8ee 107.5px,#f3ecaf 112.5px,#eadd7c 116.5px,#d2b746 127.5px,#c29432 145.5px,#c79f38 162.5px,#d7c150 175.5px,#ece07f 184.5px,#f8f7e5 192.5px,#f4f8ee 193.5px,#cdf5da 203.5px,#cef5db 217.5px,#eff8eb 254.5px,#f8f7eb 261.5px,#f8f4d3 278.5px,#f8f8ec 294.5px,#f0f8ec 300.5px)"></i><i style="background:linear-gradient(90deg,#f2f8ed 0.5px,#f8f7e6 7.5px,#f8f4d3 23.5px,#f4f8ee 41.5px,#ddf8e2 59.5px,#daf8e1 91.5px,#f4f8ee 99.5px,#f4eeb8 104.5px,#ece080 108.5px,#d1b645 119.5px,#b97a2d 138.5px,#b66f2b 153.5px,#c49a35 171.5px,#d8c252 183.5px,#ede28a 192.5px,#f8f5d6 198.5px,#f5f8ee 201.5px,#ddf8e2 210.5px,#e6f8e7 252.5px,#f8f7eb 263.5px,#f8f4d2 279.5px,#f8f8ee 296.5px,#f2f8ed 300.5px)"></i><i style="background:linear-gradient(90deg,#f4f8ee 0.5px,#f8f4d2 21.5px,#f4f8ee 39.5px,#ddf8e2 57.5px,#e9f8e8 88.5px,#f6f8ef 92.5px,#f4eeb8 98.5px,#ebde7d 103.5px,#d2b846 113.5px,#b7732c 131.5px,#ac5222 146.5px,#b15f27 160.5px,#cba83d 181.5px,#dac556 189.5px,#ede286 197.5px,#f8f5d9 205.5px,#f7f8ef 208.5px,#e5f8e6 222.5px,#e2f8e5 251.5px,#f8f8ed 264.5px,#f8f4d2 280.5px,#f8f8ec 297.5px,#f4f8ee 300.5px)"></i><i style="background:linear-gradient(90deg,#f7f8f0 0.5px,#f8f4d2 18.5px,#f8f7e8 33.5px,#f0f8ec 39.5px,#ddf8e3 58.5px,#f8f8ee 86.5px,#f1e8a1 95.5px,#eadd7b 99.5px,#d1b444 110.5px,#b7712b 127.5px,#a7471e 143.5px,#aa4d20 158.5px,#be882f 176.5px,#d6c04e 191.5px,#eee48e 202.5px,#f8f5d8 211.5px,#f6f8ef 216.5px,#dff8e3 248.5px,#f8f7eb 266.5px,#f8f4d2 281.5px,#f8f7ec 298.5px,#f7f8f0 300.5px)"></i><i style="background:linear-gradient(90deg,#f8f8ee 0.5px,#f8f4d3 17.5px,#f8f7ea 32.5px,#e9f8e9 41.5px,#dff8e4 59.5px,#f8f7ec 80.5px,#f2eaa9 90.5px,#e9dc79 96.5px,#d0b343 108.5px,#b66f2b 126.5px,#a8491e 143.5px,#ac5222 160.5px,#cca93e 187.5px,#d8c352 194.5px,#ede28a 205.5px,#f8f5d5 216.5px,#f7f8ef 223.5px,#dff8e3 249.5px,#f8f8ed 267.5px,#f8f4d3 282.5px,#f8f7eb 299.5px,#f8f8ee 300.5px)"></i><i style="background:linear-gradient(90deg,#f8f7eb 0.5px,#f8f4d3 17.5px,#f8f7e9 30.5px,#f2f8ed 35.5px,#def8e3 54.5px,#f8f8ee 74.5px,#f2ebab 86.5px,#e8da77 94.5px,#d0b343 107.5px,#b8752c 126.5px,#af5b25 145.5px,#b66e2b 166.5px,#cba93d 187.5px,#dac657 196.5px,#eee38c 208.5px,#f8f5da 222.5px,#f5f8ef 229.5px,#dff8e4 250.5px,#f8f8ed 269.5px,#f8f4d3 282.5px,#f8f7e7 298.5px,#f8f7eb 300.5px)"></i><i style="background:linear-gradient(90deg,#f8f7e9 0.5px,#f8f4d4 17.5px,#f3f8ee 33.5px,#dff8e3 52.5px,#f8f8ee 70.5px,#f0e698 86.5px,#e7d975 93.5px,#d0b444 107.5px,#bc832e 131.5px,#be882f 165.5px,#d0b343 189.5px,#eee38d 210.5px,#f8f8f0 231.5px,#dff8e4 250.5px,#f8f7eb 271.5px,#f8f4d3 284.5px,#f8f7e9 300.5px)"></i><i style="background:linear-gradient(90deg,#f8f7e7 0.5px,#f8f5d4 16.5px,#f3f8ee 32.5px,#e0f8e4 51.5px,#f8f8ee 67.5px,#e9dc7a 91.5px,#d0b443 110.5px,#c9a33a 129.5px,#ccab3e 165.5px,#d2b745 186.5px,#eee38d 211.5px,#f7f8ef 234.5px,#e0f8e4 251.5px,#f8f7ec 272.5px,#f8f5d4 285.5px,#f8f7e7 300.5px)"></i><i style="background:linear-gradient(90deg,#f8f7e6 0.5px,#f8f5d6 16.5px,#f5f8ee 30.5px,#e0f8e4 50.5px,#f8f7ec 65.5px,#eadd7b 91.5px,#d5be4b 116.5px,#dfcc61 130.5px,#eee48f 142.5px,#f2eaaa 149.5px,#f0e79d 156.5px,#e8db78 164.5px,#dac657 181.5px,#eadd7b 204.5px,#f6f1c5 226.5px,#f4f8ee 237.5px,#e0f8e4 253.5px,#f8f8ed 273.5px,#f8f5d5 286.5px,#f8f7e6 300.5px)"></i><i style="background:linear-gradient(90deg,#f8f7e5 0.5px,#f8f5d8 16.5px,#f5f8ee 29.5px,#e1f8e5 49.5px,#f8f8ec 63.5px,#efe491 85.5px,#e7d974 100.5px,#e6d772 115.5px,#ede185 120.5px,#f8f7e5 127.5px,#f1f8ec 128.5px,#9de6c6 138.5px,#7cd6c2 147.5px,#85dac3 156.5px,#b7f0cf 165.5px,#f1f8ed 172.5px,#f6f0bf 176.5px,#ede185 182.5px,#eadc7a 193.5px,#f2eaa8 220.5px,#f8f8f0 238.5px,#e1f8e5 253.5px,#f8f7ea 275.5px,#f8f5d6 288.5px,#f8f7e5 300.5px)"></i><i style="background:linear-gradient(90deg,#f8f6e4 0.5px,#f8f5d9 15.5px,#f5f8ef 28.5px,#e2f8e5 48.5px,#f8f7eb 62.5px,#f1e89f 81.5px,#eee38e 101.5px,#f1e9a4 109.5px,#f8f5dc 115.5px,#f8f7ea 116.5px,#a5eac8 124.5px,#69c9c0 131.5px,#459ebf 141.5px,#4190bd 151.5px,#50b0c0 162.5px,#78d4c1 170.5px,#baf0d1 177.5px,#f8f8ed 184.5px,#f4edb4 192.5px,#f1e9a2 206.5px,#f2eaa9 221.5px,#f7f8ef 240.5px,#e2f8e5 255.5px,#f8f7eb 276.5px,#f8f5d8 290.5px,#f8f6e4 300.5px)"></i><i style="background:linear-gradient(90deg,#f8f6e3 0.5px,#f8f6dc 15.5px,#f4f8ee 28.5px,#e4f8e6 48.5px,#f8f8ed 60.5px,#f1e9a4 80.5px,#f3ebac 94.5px,#f8f4d4 104.5px,#f5f8ef 108.5px,#a2e9c7 117.5px,#63c3c0 124.5px,#4294bd 131.5px,#3465b4 139.5px,#2e53ad 150.5px,#376eb7 161.5px,#51b1c0 171.5px,#80d8c2 178.5px,#c9f4d9 186.5px,#f8f8ec 193.5px,#f4edb6 208.5px,#f2ebaa 220.5px,#f5f8ef 242.5px,#e3f8e6 257.5px,#f8f7eb 277.5px,#f8f5d9 292.5px,#f8f6e3 300.5px)"></i><i style="background:linear-gradient(90deg,#f8f6e3 0.5px,#f8f6df 14.5px,#f4f8ee 27.5px,#e5f8e7 47.5px,#f8f8ec 59.5px,#f2eaa9 80.5px,#f5f0bf 91.5px,#f7f8f0 101.5px,#b2efcd 110.5px,#63c3c0 119.5px,#4397be 125.5px,#305baf 133.5px,#212c9e 145.5px,#2333a0 155.5px,#3870b8 168.5px,#52b2c0 176.5px,#83d9c3 183.5px,#cdf5db 192.5px,#f8f8ed 200.5px,#f3ecb1 217.5px,#f5f0be 227.5px,#f6f8ef 243.5px,#e4f8e6 259.5px,#f8f7eb 278.5px,#f8f5dc 294.5px,#f8f6e3 300.5px)"></i><i style="background:linear-gradient(90deg,#f8f6e3 0.5px,#f8f6e1 14.5px,#f3f8ee 27.5px,#e7f8e8 46.5px,#f8f8ec 58.5px,#f4edb3 78.5px,#f6f0c0 86.5px,#f4f8ee 96.5px,#bcf1d2 105.5px,#61c1c0 116.5px,#4294bd 122.5px,#2e54ad 130.5px,#1c1b97 141.5px,#1b188d 151.5px,#20289c 159.5px,#3d81ba 173.5px,#59b9c0 180.5px,#92e1c5 188.5px,#dff8e3 199.5px,#f8f8ec 205.5px,#f5eeba 218.5px,#f6f0c2 228.5px,#f5f8ef 245.5px,#e6f8e7 261.5px,#f8f7eb 279.5px,#f8f6de 296.5px,#f8f6e3 300.5px)"></i><i style="background:linear-gradient(90deg,#f8f6e3 0.5px,#f8f7e5 15.5px,#f2f8ed 27.5px,#eaf8e9 45.5px,#f8f7ec 57.5px,#f5efbb 77.5px,#f7f3cb 85.5px,#f5f8ef 92.5px,#c6f3d7 101.5px,#7cd6c2 110.5px,#459fbf 119.5px,#315baf 127.5px,#1c1b96 138.5px,#1b1483 149.5px,#1e239b 160.5px,#3c7eba 174.5px,#5cbcc0 182.5px,#b5efcf 195.5px,#e7f8e8 204.5px,#f8f7eb 209.5px,#f6f0c2 219.5px,#f6f1c6 229.5px,#f6f8ef 246.5px,#e8f8e8 263.5px,#f8f7eb 280.5px,#f8f6e0 298.5px,#f8f6e3 300.5px)"></i><i style="background:linear-gradient(90deg,#f8f6e3 0.5px,#f8f7eb 19.5px,#ebf8ea 43.5px,#f8f7ec 56.5px,#f6f0c2 75.5px,#f8f5d9 85.5px,#f8f8f0 89.5px,#c7f4d8 99.5px,#82d9c3 108.5px,#4499be 119.5px,#2e54ad 128.5px,#1c1c98 139.5px,#1b178c 150.5px,#1f279c 159.5px,#3c7fba 174.5px,#5abac0 182.5px,#b3efcd 196.5px,#e8f8e8 206.5px,#f8f8ee 211.5px,#f6f1c6 222.5px,#f8f4cf 232.5px,#f5f8ee 248.5px,#ebf8e9 266.5px,#f8f7eb 281.5px,#f8f6e3 300.5px)"></i><i style="background:linear-gradient(90deg,#f8f6e3 0.5px,#f0f8ec 28.5px,#f0f8ec 46.5px,#f8f7e9 56.5px,#f7f2c8 74.5px,#f8f6e3 84.5px,#f5f8ee 88.5px,#c6f4d7 98.5px,#80d8c2 108.5px,#4398be 120.5px,#3260b2 128.5px,#2331a0 141.5px,#2332a0 153.5px,#3567b4 168.5px,#51b1c0 179.5px,#9ee7c7 193.5px,#e6f8e7 207.5px,#f8f7ea 214.5px,#f7f2ca 225.5px,#f8f7e4 242.5px,#f4f8ee 250.5px,#eef8eb 269.5px,#f8f7ea 283.5px,#f8f6e3 300.5px)"></i><i style="background:linear-gradient(90deg,#f8f6e4 0.5px,#f0f8ec 28.5px,#f5f8ee 49.5px,#f8f5da 62.5px,#f8f4d1 75.5px,#f6f8ef 86.5px,#c9f4d9 97.5px,#85dbc3 108.5px,#47a5c0 121.5px,#366bb6 133.5px,#3361b2 149.5px,#3b7bba 164.5px,#53b3c0 176.5px,#abedc9 195.5px,#e9f8e9 209.5px,#f8f8ed 215.5px,#f8f4ce 228.5px,#f5f8ee 251.5px,#f0f8ec 272.5px,#f8f7e6 289.5px,#f8f6e4 300.5px)"></i><i style="background:linear-gradient(90deg,#f8f7e5 0.5px,#f0f8ec 28.5px,#f8f7e9 54.5px,#f8f4d3 71.5px,#f4f8ee 85.5px,#c8f4d8 97.5px,#8bdec4 109.5px,#60c0c0 120.5px,#4eaec0 134.5px,#5cbcc0 159.5px,#6acac0 175.5px,#bcf1d2 198.5px,#f3f8ee 214.5px,#f8f5da 225.5px,#f8f5d7 236.5px,#f5f8ef 252.5px,#f3f8ee 275.5px,#f8f7e5 300.5px)"></i><i style="background:linear-gradient(90deg,#f8f7e7 0.5px,#f1f8ec 35.5px,#f8f7ea 53.5px,#f8f5d6 69.5px,#f4f8ee 84.5px,#c1f2d4 99.5px,#8ddec4 116.5px,#8edfc4 126.5px,#b9f0d0 133.5px,#f8f7eb 140.5px,#f0e79d 144.5px,#ebdf7f 148.5px,#ede288 153.5px,#f4eeb7 157.5px,#f8f8ef 160.5px,#acedca 171.5px,#a4eac7 182.5px,#cbf5d9 201.5px,#f8f8ec 219.5px,#f8f5d6 234.5px,#f5f8ee 254.5px,#f5f8ef 278.5px,#f8f7e7 300.5px)"></i><i style="background:linear-gradient(90deg,#f8f7e8 0.5px,#f6f8ef 46.5px,#f8f5da 67.5px,#f3f8ed 83.5px,#b6efcf 107.5px,#bff2d3 117.5px,#f8f8f0 125.5px,#ebdf7e 129.5px,#d3ba47 134.5px,#ba7d2d 144.5px,#b8772c 151.5px,#cba93d 161.5px,#d8c352 165.5px,#eee38b 170.5px,#f8f6de 174.5px,#f6f8ef 175.5px,#cff6db 183.5px,#c4f3d6 196.5px,#f8f8ec 221.5px,#f8f5db 238.5px,#f5f8ef 255.5px,#f8f7e8 300.5px)"></i><i style="background:linear-gradient(90deg,#f8f7e9 0.5px,#f8f7ec 50.5px,#f8f6df 65.5px,#f2f8ed 82.5px,#c8f4d8 104.5px,#dff8e3 113.5px,#f1f8ec 116.5px,#f8f5d7 118.5px,#ebde7d 122.5px,#d2b846 127.5px,#b36629 135.5px,#952a1c 141.5px,#821a19 148.5px,#9a301c 156.5px,#cba93e 168.5px,#dbc658 172.5px,#ecdf7f 176.5px,#f8f3cd 180.5px,#f8f8f0 183.5px,#d8f8e0 190.5px,#d0f6dc 199.5px,#f8f8ed 223.5px,#f8f6df 241.5px,#f5f8ee 257.5px,#f8f7e9 300.5px)"></i><i style="background:linear-gradient(90deg,#f8f7e9 0.5px,#f8f8ec 49.5px,#f8f6e3 64.5px,#f1f8ed 81.5px,#d4f7de 102.5px,#eff8ec 110.5px,#f8f8f0 111.5px,#f8f4cf 114.5px,#eade7c 118.5px,#d2b846 123.5px,#b9792c 129.5px,#90251b 135.5px,#5f0f1a 140.5px,#3b0b1b 146.5px,#460c1c 152.5px,#831b19 159.5px,#9d361d 162.5px,#c29432 169.5px,#d9c454 175.5px,#ede28a 180.5px,#f8f4d0 184.5px,#f6f8ef 188.5px,#dbf8e1 195.5px,#e4f8e6 211.5px,#f8f7eb 226.5px,#f8f6e3 244.5px,#f5f8ee 259.5px,#f8f7e9 300.5px)"></i><i style="background:linear-gradient(90deg,#f8f7e9 0.5px,#f8f8ed 47.5px,#f8f7e6 63.5px,#f0f8ec 80.5px,#dcf8e2 100.5px,#f8f8ee 108.5px,#f6f1c3 112.5px,#e9db79 116.5px,#d1b544 121.5px,#bb802e 126.5px,#99301c 131.5px,#681119 135.5px,#1e0a18 141.5px,#1a0a18 153.5px,#5c0f1a 159.5px,#841c19 162.5px,#ab5021 166.5px,#c79e38 172.5px,#dbc657 177.5px,#eee38c 182.5px,#f8f5d8 187.5px,#f5f8ee 191.5px,#ddf8e2 201.5px,#f8f7ec 228.5px,#f8f7e7 248.5px,#f4f8ee 264.5px,#f8f7e9 300.5px)"></i><i style="background:linear-gradient(90deg,#f8f7e8 0.5px,#f8f8ee 45.5px,#f8f7e8 63.5px,#f0f8ec 79.5px,#e1f8e4 97.5px,#f8f8ee 106.5px,#f7f2c9 110.5px,#ebdf7e 114.5px,#d0b243 120.5px,#b97a2d 125.5px,#93281c 130.5px,#681119 133.5px,#1a0a18 138.5px,#1a0a18 156.5px,#821a19 163.5px,#ab5121 167.5px,#c39734 172.5px,#d7c04e 177.5px,#ede289 183.5px,#f8f4d4 188.5px,#f7f8ef 193.5px,#e0f8e4 206.5px,#f8f7eb 231.5px,#f8f7ea 251.5px,#f8f7ec 291.5px,#f8f7e8 300.5px)"></i><i style="background:linear-gradient(90deg,#f8f7e8 0.5px,#f8f8ef 43.5px,#f8f7e9 62.5px,#eef8eb 79.5px,#e6f8e7 95.5px,#f8f8ed 104.5px,#f6f1c6 109.5px,#ebdf7e 113.5px,#d0b444 119.5px,#ba7d2d 124.5px,#94291c 129.5px,#691119 132.5px,#220a19 136.5px,#1a0a18 139.5px,#1a0a18 157.5px,#7d1718 163.5px,#a13c1d 166.5px,#c29533 172.5px,#d9c454 178.5px,#eee38c 184.5px,#f8f4d1 189.5px,#f8f8f0 195.5px,#e3f8e6 211.5px,#f8f7eb 234.5px,#f8f8ed 255.5px,#f8f7e9 297.5px,#f8f7e8 300.5px)"></i><i style="background:linear-gradient(90deg,#f8f7e9 0.5px,#f8f8ee 42.5px,#f8f7ec 64.5px,#e7f8e7 91.5px,#f8f8ec 102.5px,#f8f3ce 107.5px,#e7d975 113.5px,#d2b745 118.5px,#bd852e 123.5px,#9b321d 128.5px,#741319 131.5px,#1a0a18 136.5px,#1a0a18 157.5px,#801919 163.5px,#a33f1d 166.5px,#c39633 172.5px,#d8c251 178.5px,#eee38c 185.5px,#f8f4d4 191.5px,#f6f8ef 198.5px,#e6f8e7 215.5px,#f8f7eb 237.5px,#f8f8ee 258.5px,#f8f7e9 300.5px)"></i><i style="background:linear-gradient(90deg,#f8f7e9 0.5px,#f8f8ec 42.5px,#f1f8ed 73.5px,#ebf8ea 89.5px,#f8f7ec 100.5px,#f7f2c6 106.5px,#e7d874 112.5px,#cfb142 118.5px,#bb7f2d 123.5px,#992f1c 128.5px,#62101a 132.5px,#1d0a18 136.5px,#1a0a18 156.5px,#7b1418 162.5px,#a7471e 166.5px,#c39633 172.5px,#dcc85b 180.5px,#ede288 186.5px,#f8f3ce 192.5px,#f8f8f0 200.5px,#e9f8e8 219.5px,#f8f7eb 241.5px,#f8f7ea 299.5px,#f8f7e9 300.5px)"></i><i style="background:linear-gradient(90deg,#f8f7eb 0.5px,#f8f7eb 41.5px,#f0f8ec 72.5px,#edf8eb 87.5px,#f8f7ea 98.5px,#f7f2c8 104.5px,#e9db79 110.5px,#d2b745 116.5px,#bc842e 122.5px,#992e1c 128.5px,#67111a 132.5px,#1c0a18 137.5px,#1a0a18 154.5px,#4c0c1c 158.5px,#871e1a 162.5px,#b15f27 167.5px,#c39633 172.5px,#d7c14f 180.5px,#eee38b 188.5px,#f8f4d4 195.5px,#f7f8ef 203.5px,#ebf8ea 223.5px,#f8f7ea 245.5px,#f8f7eb 300.5px)"></i><i style="background:linear-gradient(90deg,#f8f8ed 0.5px,#f6f8ef 31.5px,#f8f7ea 54.5px,#eef8eb 83.5px,#f8f7ea 96.5px,#f7f2ca 102.5px,#eadd7b 108.5px,#d0b343 115.5px,#b97a2d 122.5px,#992f1c 128.5px,#67111a 133.5px,#200a19 140.5px,#1d0a18 149.5px,#590e1b 156.5px,#8e231b 161.5px,#b4682a 167.5px,#c49835 173.5px,#d8c252 182.5px,#eee38c 190.5px,#f8f4d3 197.5px,#f6f8ef 206.5px,#ecf8ea 226.5px,#f8f7ea 251.5px,#f7f8ef 296.5px,#f8f8ed 300.5px)"></i><i style="background:linear-gradient(90deg,#f8f8f0 0.5px,#f4f8ee 25.5px,#f8f7e9 50.5px,#edf8ea 71.5px,#f8f8ec 93.5px,#f7f3cc 100.5px,#e8da76 107.5px,#d2b745 113.5px,#b36529 123.5px,#90251b 130.5px,#7a1418 135.5px,#811a19 147.5px,#9c351d 156.5px,#c59c36 175.5px,#d9c353 184.5px,#eee48f 192.5px,#f8f4d4 199.5px,#f6f8ef 209.5px,#eef8eb 230.5px,#f8f7e8 255.5px,#f5f8ef 297.5px,#f8f8f0 300.5px)"></i><i style="background:linear-gradient(90deg,#f5f8ef 0.5px,#f4f8ee 22.5px,#f8f7e8 45.5px,#f0f8ec 65.5px,#f1f8ec 82.5px,#f8f7e9 92.5px,#f7f2c7 99.5px,#e7d874 106.5px,#d1b544 112.5px,#ac5322 125.5px,#9b321d 135.5px,#a94a1f 146.5px,#b8762c 163.5px,#c59a35 174.5px,#d8c251 185.5px,#eee38b 193.5px,#f8f4d1 200.5px,#f7f8ef 211.5px,#edf8eb 232.5px,#f8f7ea 249.5px,#f8f7e8 266.5px,#f2f8ed 281.5px,#f5f8ef 300.5px)"></i><i style="background:linear-gradient(90deg,#f2f8ed 0.5px,#f4f8ee 21.5px,#f8f7e5 41.5px,#f1f8ed 61.5px,#eff8ec 76.5px,#f8f7ec 89.5px,#f7f3cd 97.5px,#e7d975 105.5px,#cfb242 112.5px,#b7722b 121.5px,#a8491e 130.5px,#ac5122 137.5px,#bd852e 148.5px,#ba7d2d 161.5px,#caa53b 174.5px,#d6c04e 185.5px,#eee38d 194.5px,#f8f4d2 202.5px,#f6f8ef 214.5px,#edf8ea 235.5px,#f8f7ea 251.5px,#f8f7e5 267.5px,#f3f8ee 280.5px,#f2f8ed 300.5px)"></i><i style="background:linear-gradient(90deg,#eff8eb 0.5px,#f6f8ef 21.5px,#f8f6df 38.5px,#f3f8ee 56.5px,#ebf8ea 71.5px,#f8f7eb 87.5px,#f7f3ca 96.5px,#eadc7a 104.5px,#d0b444 112.5px,#b66e2b 123.5px,#ae5724 131.5px,#b66e2b 137.5px,#c8a139 144.5px,#cca93e 150.5px,#bf8e30 160.5px,#d6c04e 172.5px,#d4bc48 182.5px,#eee38b 194.5px,#f8f4d0 203.5px,#f6f8ef 217.5px,#ecf8ea 237.5px,#f8f7ea 252.5px,#f8f6e1 268.5px,#f4f8ee 281.5px,#eff8eb 300.5px)"></i><i style="background:linear-gradient(90deg,#ecf8ea 0.5px,#f8f7ea 23.5px,#f8f6dc 36.5px,#f4f8ee 53.5px,#ebf8ea 69.5px,#f8f7ec 84.5px,#f7f2c8 95.5px,#e6d772 106.5px,#d0b343 114.5px,#b8762c 126.5px,#b7712b 132.5px,#c39734 138.5px,#d8c251 143.5px,#e3d36c 147.5px,#deca5e 151.5px,#cdac3f 156.5px,#caa63c 161.5px,#d3b947 164.5px,#ede186 168.5px,#f4eeb7 170.5px,#f6f1c5 172.5px,#f3ecaf 174.5px,#ece183 176.5px,#dfcd62 180.5px,#e0ce64 185.5px,#efe592 194.5px,#f8f4d3 206.5px,#f6f8ef 220.5px,#eaf8e9 239.5px,#f8f7ea 254.5px,#f8f6dd 269.5px,#f4f8ee 283.5px,#ecf8ea 300.5px)"></i><i style="background:linear-gradient(90deg,#e8f8e8 0.5px,#f8f7ea 20.5px,#f8f5d9 34.5px,#f4f8ee 50.5px,#e7f8e8 66.5px,#f8f7ec 81.5px,#f6f0c2 95.5px,#e0ce64 111.5px,#d1b544 117.5px,#c19332 128.5px,#c69d37 134.5px,#d5bd4a 138.5px,#ede184 141.5px,#f8f4d4 143.5px,#f8f7e8 144.5px,#e7f8e8 148.5px,#f8f8ed 151.5px,#f6f1c4 153.5px,#ece182 155.5px,#e1cf66 158.5px,#e2d169 161.5px,#ece183 163.5px,#f8f5dc 165.5px,#eff8eb 166.5px,#a5ebc8 169.5px,#90e0c5 171.5px,#9ce6c6 173.5px,#f2f8ed 177.5px,#f8f6df 178.5px,#eee38a 181.5px,#e9dc7a 183.5px,#ece081 188.5px,#f2ebab 195.5px,#f8f8f0 221.5px,#e7f8e8 240.5px,#f8f7ec 255.5px,#f8f5d9 270.5px,#f5f8ee 285.5px,#e8f8e8 300.5px)"></i><i style="background:linear-gradient(90deg,#e6f8e7 0.5px,#f8f7eb 17.5px,#f8f5d6 32.5px,#f4f8ee 47.5px,#e6f8e7 64.5px,#f8f8ec 78.5px,#f1e8a1 105.5px,#e5d671 113.5px,#d3b946 124.5px,#d6bf4d 132.5px,#ebde7d 136.5px,#f8f5d7 138.5px,#f2f8ed 139.5px,#d8f8e0 140.5px,#90e0c5 142.5px,#72d1c0 143.5px,#4dadc0 146.5px,#4aaac0 149.5px,#70d0c0 153.5px,#c7f4d8 157.5px,#ddf8e2 159.5px,#daf8e1 161.5px,#b4efce 163.5px,#62c2c0 166.5px,#4499be 168.5px,#3b79b9 170.5px,#3b7bba 172.5px,#46a0bf 174.5px,#6cccc0 176.5px,#b7f0cf 178.5px,#dbf8e1 179.5px,#f0f8ec 180.5px,#f8f4d2 182.5px,#f3ecb1 184.5px,#f2eaa8 187.5px,#f6f1c3 198.5px,#f7f3cb 208.5px,#f6f8ef 225.5px,#e5f8e7 242.5px,#f8f8ec 257.5px,#f8f5d6 271.5px,#f5f8ee 287.5px,#e6f8e7 300.5px)"></i><i style="background:linear-gradient(90deg,#e5f8e6 0.5px,#f8f7ec 14.5px,#f8f4d2 29.5px,#f5f8ee 44.5px,#e3f8e5 61.5px,#f8f8ec 75.5px,#f6f0c1 96.5px,#f6f0c1 104.5px,#efe594 114.5px,#e9dc79 120.5px,#e9db78 127.5px,#ede183 129.5px,#f8f8ef 134.5px,#cdf5db 136.5px,#a7ecc8 137.5px,#63c3c0 139.5px,#4aaac0 140.5px,#3566b4 142.5px,#1f259b 145.5px,#1b1588 148.5px,#1d1e99 151.5px,#4292bd 158.5px,#47a4bf 161.5px,#3c80ba 164.5px,#1f249b 169.5px,#1c1d98 171.5px,#2436a2 173.5px,#3567b5 175.5px,#51b1c0 177.5px,#6cccc0 178.5px,#baf0d1 180.5px,#daf8e1 181.5px,#f7f8f0 183.5px,#f8f5d5 187.5px,#f7f2ca 202.5px,#f7f3cb 211.5px,#f5f8ef 228.5px,#e3f8e5 244.5px,#f8f8ed 259.5px,#f8f4d2 272.5px,#f4f8ee 290.5px,#e5f8e6 300.5px)"></i><i style="background:linear-gradient(90deg,#e5f8e6 0.5px,#f8f8ed 11.5px,#f8f4ce 26.5px,#f4f8ee 42.5px,#e0f8e4 58.5px,#f8f8ed 72.5px,#f6f1c3 91.5px,#f8f5d8 106.5px,#f6f1c5 123.5px,#f8f6e4 128.5px,#f8f8ef 129.5px,#d4f7de 132.5px,#87dbc3 135.5px,#55b5c0 137.5px,#2f56ae 140.5px,#1c1a93 142.5px,#160a49 145.5px,#160a48 152.5px,#1b188d 156.5px,#273ea4 159.5px,#2b4aa9 162.5px,#212d9e 165.5px,#1b1688 167.5px,#190c6b 170.5px,#1a0f78 172.5px,#1f279c 174.5px,#408dbc 177.5px,#6dcdc0 179.5px,#b3efce 181.5px,#e0f8e4 183.5px,#f8f8ef 187.5px,#f6f1c4 211.5px,#f5f8ee 231.5px,#e0f8e4 245.5px,#f8f8ed 261.5px,#f8f4ce 274.5px,#f4f8ee 292.5px,#e5f8e6 300.5px)"></i><i style="background:linear-gradient(90deg,#e6f8e7 0.5px,#f8f7ec 9.5px,#f7f2ca 24.5px,#f5f8ee 39.5px,#def8e3 55.5px,#f8f8ee 69.5px,#f6f0c1 87.5px,#f8f8ee 110.5px,#f1f8ec 126.5px,#d5f7de 130.5px,#85dbc3 134.5px,#4cacc0 137.5px,#2f57ae 140.5px,#1d1f99 142.5px,#180b59 145.5px,#160a4a 146.5px,#160a48 151.5px,#1b178b 156.5px,#2436a1 159.5px,#2945a7 162.5px,#222e9e 165.5px,#1b1382 168.5px,#1a1079 171.5px,#1c1a94 173.5px,#3569b5 176.5px,#50b0c0 178.5px,#a3eac7 181.5px,#d1f6dc 183.5px,#ebf8ea 187.5px,#f8f7ea 197.5px,#f6f0c1 213.5px,#f5f8ef 233.5px,#def8e3 247.5px,#f8f7eb 264.5px,#f7f2ca 276.5px,#f4f8ee 294.5px,#e6f8e7 300.5px)"></i><i style="background:linear-gradient(90deg,#eaf8e9 0.5px,#f8f7ea 7.5px,#f6f1c6 22.5px,#f8f7ec 34.5px,#dbf8e2 52.5px,#f8f7eb 67.5px,#f5f0be 83.5px,#f7f3cc 90.5px,#f5f8ef 103.5px,#edf8ea 121.5px,#e2f8e5 128.5px,#c9f4d9 131.5px,#88dcc3 135.5px,#49a9c0 139.5px,#3059af 143.5px,#2331a0 147.5px,#202a9d 151.5px,#376db7 160.5px,#3567b4 164.5px,#2537a2 169.5px,#273fa5 172.5px,#3871b8 175.5px,#4cacc0 177.5px,#90e0c5 180.5px,#caf4d9 183.5px,#e2f8e5 187.5px,#f8f8ed 200.5px,#f5efbe 216.5px,#f8f6e1 230.5px,#f4f8ee 236.5px,#dbf8e2 248.5px,#f8f7ec 266.5px,#f6f1c6 278.5px,#f5f8ee 296.5px,#eaf8e9 300.5px)"></i><i style="background:linear-gradient(90deg,#eff8eb 0.5px,#f8f7e9 5.5px,#f6f1c3 19.5px,#f8f5d5 27.5px,#f5f8ee 34.5px,#d9f8e1 50.5px,#f8f8ed 64.5px,#f5eeba 80.5px,#f7f2c7 87.5px,#f7f8f0 98.5px,#e2f8e5 115.5px,#f4f8ee 127.5px,#d8f8e0 131.5px,#92e1c5 135.5px,#65c5c0 138.5px,#46a1bf 142.5px,#3f8abc 147.5px,#3363b3 150.5px,#325db1 153.5px,#4396bd 162.5px,#3d82bb 170.5px,#4cacc0 174.5px,#87dbc3 178.5px,#c2f3d5 182.5px,#dcf8e2 187.5px,#f8f7eb 204.5px,#f5efba 218.5px,#f7f3cc 227.5px,#f5f8ee 238.5px,#d9f8e1 250.5px,#f5f8ee 266.5px,#f6f1c3 280.5px,#f8f7e6 294.5px,#f2f8ed 299.5px,#eff8eb 300.5px)"></i><i style="background:linear-gradient(90deg,#f6f8ef 0.5px,#f8f5d8 12.5px,#f8f6e1 28.5px,#f4f8ee 34.5px,#def8e3 44.5px,#f6f8ef 60.5px,#f8f7ea 68.5px,#f3ebae 77.5px,#f4eeb9 81.5px,#f8f8f0 87.5px,#edf8eb 93.5px,#f8f8ed 97.5px,#f8f6dd 102.5px,#f5f8ee 106.5px,#c0f2d4 113.5px,#c6f4d7 116.5px,#f8f7eb 120.5px,#f8f3ce 121.5px,#f0e69a 122.5px,#e7d975 123.5px,#d8c352 125.5px,#d6be4c 127.5px,#e4d46d 129.5px,#f0e79b 130.5px,#f8f7e6 131.5px,#d6f8df 132.5px,#9be5c6 133.5px,#6acac0 134.5px,#4eaec0 135.5px,#386fb7 137.5px,#2842a6 140.5px,#2537a2 142.5px,#315bb0 146.5px,#2c4daa 149.5px,#1f259b 156.5px,#222e9f 160.5px,#325fb1 164.5px,#408dbc 166.5px,#4babc0 167.5px,#84dac3 169.5px,#aeedcb 170.5px,#d8f8e0 171.5px,#eef8eb 172.5px,#f8f5d9 174.5px,#f8f5db 176.5px,#f4f8ee 178.5px,#baf0d1 184.5px,#c1f2d5 188.5px,#f8f8ed 195.5px,#f8f6de 199.5px,#f3f8ed 205.5px,#eff8ec 211.5px,#f8f8f0 213.5px,#f3ebae 221.5px,#f5eeb9 225.5px,#f8f7ea 232.5px,#eef8eb 247.5px,#dff8e3 258.5px,#f8f8ee 268.5px,#f8f5da 278.5px,#f8f6df 294.5px,#f6f8ef 300.5px)"></i><i style="background:linear-gradient(90deg,#f8f8ee 0.5px,#f8f7e4 8.5px,#f3f8ed 14.5px,#f4f8ee 22.5px,#f8f5dc 31.5px,#f6f8ef 36.5px,#e5f8e6 43.5px,#f8f8ef 48.5px,#f7f2c9 54.5px,#f6f8ef 60.5px,#d9f8e0 66.5px,#f2f8ed 71.5px,#f8f7eb 72.5px,#f1e89e 77.5px,#f0e79d 79.5px,#f5eeb9 81.5px,#f6f8ef 84.5px,#baf0d1 89.5px,#c0f2d4 92.5px,#f8f8ec 96.5px,#f8f4d3 97.5px,#eee38b 99.5px,#e6d671 101.5px,#e8da76 104.5px,#ede185 105.5px,#f8f5d6 107.5px,#f4f8ee 108.5px,#a7ecc8 111.5px,#86dbc3 113.5px,#85dac3 115.5px,#abedca 117.5px,#f8f8ee 119.5px,#efe594 120.5px,#d9c354 121.5px,#c69e38 122.5px,#a3401d 124.5px,#8c221b 125.5px,#7e1719 126.5px,#7e1719 127.5px,#8e241b 128.5px,#a94b1f 129.5px,#bf8c2f 130.5px,#dac557 131.5px,#f8f8ed 132.5px,#86dbc3 133.5px,#4294bd 134.5px,#2c4eaa 135.5px,#1c1992 136.5px,#190c67 137.5px,#160a48 138.5px,#160a4b 144.5px,#1c188f 147.5px,#263aa3 150.5px,#1e229a 152.5px,#180b5c 155.5px,#160a48 156.5px,#160a48 162.5px,#170b56 163.5px,#1b117d 164.5px,#2334a1 165.5px,#376eb7 166.5px,#5cbcc0 167.5px,#c4f3d6 168.5px,#f0e79d 169.5px,#cfb242 170.5px,#ab5121 172.5px,#9e371d 173.5px,#9c331d 174.5px,#a5431e 175.5px,#ceaf41 178.5px,#e2d068 179.5px,#f5eeb9 180.5px,#eef8eb 181.5px,#a3e9c7 183.5px,#80d8c2 185.5px,#84dac3 187.5px,#a6ebc8 189.5px,#f4f8ee 192.5px,#f8f5d7 193.5px,#ede286 195.5px,#e5d670 197.5px,#e9dc79 200.5px,#eee38c 201.5px,#f8f4d4 203.5px,#f8f8ec 204.5px,#b8f0d0 209.5px,#c2f3d5 212.5px,#f6f8ef 216.5px,#f2eaa8 220.5px,#f0e79a 222.5px,#f2eaa9 224.5px,#f8f7eb 228.5px,#daf8e1 233.5px,#e8f8e8 238.5px,#f6f8ef 240.5px,#f7f2c9 246.5px,#f8f8ef 252.5px,#e4f8e6 258.5px,#f8f8ed 265.5px,#f8f5db 271.5px,#f4f8ee 278.5px,#f3f8ed 286.5px,#f8f7e6 297.5px,#f8f8ee 300.5px)"></i><i style="background:linear-gradient(90deg,#f8f8ee 0.5px,#f8f7e5 8.5px,#f2f8ed 14.5px,#f3f8ed 22.5px,#f8f6e0 27.5px,#f8f6dd 32.5px,#f2f8ed 37.5px,#e5f8e7 43.5px,#f8f8ed 48.5px,#f6f1c6 54.5px,#f6f8ef 60.5px,#d6f8df 66.5px,#f1f8ec 71.5px,#f8f8ec 72.5px,#f0e79e 77.5px,#f0e79c 79.5px,#f4eeb9 81.5px,#f5f8ef 84.5px,#b7f0cf 89.5px,#bef1d3 92.5px,#f8f7eb 96.5px,#f8f4d2 97.5px,#ede286 99.5px,#e4d46e 101.5px,#e7d874 104.5px,#ece080 105.5px,#f8f5d5 107.5px,#f5f8ee 108.5px,#a5eac8 111.5px,#83d9c3 113.5px,#82d9c3 115.5px,#91e1c5 116.5px,#aeedcb 117.5px,#dbf8e1 118.5px,#f8f6de 119.5px,#e8da76 120.5px,#cfb142 121.5px,#bb802e 122.5px,#a33f1d 123.5px,#7c1618 124.5px,#500d1b 125.5px,#350b1a 126.5px,#310b1a 127.5px,#470c1c 128.5px,#761318 129.5px,#a6451e 130.5px,#c59a35 131.5px,#ece07f 132.5px,#bdf1d3 133.5px,#51b1c0 134.5px,#325fb1 135.5px,#1e239b 136.5px,#1a0d72 137.5px,#170a51 138.5px,#160a48 140.5px,#160a48 143.5px,#1c188e 146.5px,#2d51ac 149.5px,#3058af 150.5px,#2841a5 152.5px,#1b188d 154.5px,#160a48 157.5px,#160a4a 162.5px,#190c6a 163.5px,#1c1b95 164.5px,#2e53ad 165.5px,#46a2bf 166.5px,#a0e8c7 167.5px,#f4edb5 168.5px,#ccaa3e 169.5px,#b05d26 170.5px,#871e1a 171.5px,#5d0f1a 172.5px,#460c1c 173.5px,#480c1c 174.5px,#61101a 175.5px,#871e1a 176.5px,#a94c1f 177.5px,#be8a2f 178.5px,#d2b745 179.5px,#ebde7d 180.5px,#f8f7e6 181.5px,#d6f7df 182.5px,#a9ecc9 183.5px,#80d8c2 185.5px,#81d9c2 187.5px,#a4eac7 189.5px,#f4f8ee 192.5px,#f8f5d5 193.5px,#ece080 195.5px,#e3d26b 198.5px,#e8da76 200.5px,#ede286 201.5px,#f8f4d2 203.5px,#f8f7eb 204.5px,#b6efcf 209.5px,#c0f2d4 212.5px,#f5f8ef 216.5px,#f0e79c 221.5px,#f0e79e 223.5px,#f8f8ec 228.5px,#d8f8e0 233.5px,#e7f8e7 238.5px,#f6f8ef 240.5px,#f6f1c6 246.5px,#f4f8ee 253.5px,#e5f8e7 259.5px,#f8f7ec 265.5px,#f8f5da 270.5px,#f3f8ed 278.5px,#f2f8ed 286.5px,#f8f7e6 297.5px,#f8f8ee 300.5px)"></i><i style="background:linear-gradient(90deg,#f8f8ee 0.5px,#f8f7e5 8.5px,#f2f8ed 14.5px,#f3f8ed 22.5px,#f8f6e0 27.5px,#f8f6dd 32.5px,#f2f8ed 37.5px,#e5f8e7 43.5px,#f8f8ed 48.5px,#f6f1c6 54.5px,#f6f8ef 60.5px,#d6f8df 66.5px,#f1f8ec 71.5px,#f8f8ec 72.5px,#f0e79e 77.5px,#f0e79c 79.5px,#f4eeb9 81.5px,#f5f8ef 84.5px,#b7f0cf 89.5px,#bef1d3 92.5px,#f8f7eb 96.5px,#f8f4d2 97.5px,#ede286 99.5px,#e4d46e 101.5px,#e7d874 104.5px,#ece080 105.5px,#f8f5d5 107.5px,#f5f8ee 108.5px,#a5ebc8 111.5px,#83dac3 113.5px,#82d9c3 115.5px,#abedc9 117.5px,#f8f7eb 119.5px,#eee38b 120.5px,#d6c04e 121.5px,#c49935 122.5px,#9c351d 124.5px,#821b19 125.5px,#6f1219 126.5px,#6c1219 127.5px,#7c1618 128.5px,#972c1c 129.5px,#caa63c 131.5px,#ebde7d 132.5px,#dcf8e2 133.5px,#6fcfc0 134.5px,#4294bd 135.5px,#315db1 136.5px,#1d1f99 138.5px,#1b178b 140.5px,#1f259b 142.5px,#3a78b9 145.5px,#46a1bf 146.5px,#79d4c1 148.5px,#95e2c5 149.5px,#a3e9c7 150.5px,#94e2c5 151.5px,#5ebec0 153.5px,#46a0bf 154.5px,#2f57ae 156.5px,#1e239b 158.5px,#1b1688 160.5px,#1c1c98 162.5px,#3059af 164.5px,#408dbc 165.5px,#69c9c0 166.5px,#d1f6dd 167.5px,#eee490 168.5px,#cdac40 169.5px,#9d351d 171.5px,#821b19 172.5px,#741319 173.5px,#771318 174.5px,#871f1a 175.5px,#a03b1d 176.5px,#c69c37 178.5px,#d8c252 179.5px,#efe593 180.5px,#f8f8ee 181.5px,#a9ecc8 183.5px,#81d8c2 185.5px,#83d9c3 187.5px,#a5eac8 189.5px,#f5f8ee 192.5px,#f8f5d5 193.5px,#ece080 195.5px,#e3d26b 198.5px,#e8da76 200.5px,#ede286 201.5px,#f8f4d2 203.5px,#f8f7eb 204.5px,#b6efcf 209.5px,#c0f2d4 212.5px,#f5f8ef 216.5px,#f0e79c 221.5px,#f0e79e 223.5px,#f8f8ec 228.5px,#d8f8e0 233.5px,#e7f8e7 238.5px,#f6f8ef 240.5px,#f6f1c6 246.5px,#f4f8ee 253.5px,#e5f8e7 259.5px,#f8f7ec 265.5px,#f8f5da 270.5px,#f3f8ed 278.5px,#f2f8ed 286.5px,#f8f7e6 297.5px,#f8f8ee 300.5px)"></i><i style="background:linear-gradient(90deg,#f8f8ee 0.5px,#f8f7e5 8.5px,#f2f8ed 14.5px,#f3f8ed 22.5px,#f8f6e0 27.5px,#f8f6dd 32.5px,#f2f8ed 37.5px,#e5f8e7 43.5px,#f8f8ed 48.5px,#f6f1c6 54.5px,#f6f8ef 60.5px,#d6f8df 66.5px,#f1f8ec 71.5px,#f8f8ec 72.5px,#f0e79e 77.5px,#f0e79c 79.5px,#f4eeb9 81.5px,#f5f8ef 84.5px,#b7f0cf 89.5px,#bef1d3 92.5px,#f8f7eb 96.5px,#f8f4d2 97.5px,#ede286 99.5px,#e4d56e 101.5px,#e7d874 104.5px,#ece080 105.5px,#f8f5d5 107.5px,#f5f8ee 108.5px,#a6ebc8 111.5px,#84dac3 113.5px,#81d9c2 115.5px,#a4eac7 117.5px,#ebf8ea 119.5px,#f8f3ce 120.5px,#e9db78 121.5px,#d7c04e 122.5px,#bf8e30 124.5px,#b4692a 126.5px,#b4692a 127.5px,#b8762c 128.5px,#cdad40 130.5px,#e0cf65 131.5px,#f7f2ca 132.5px,#d6f8df 133.5px,#89ddc4 134.5px,#5abac0 135.5px,#4397be 136.5px,#3a78b9 137.5px,#3464b3 139.5px,#3b79b9 141.5px,#58b8c0 143.5px,#7dd7c2 144.5px,#bbf1d1 145.5px,#f1f8ec 146.5px,#f3ecb2 147.5px,#e6d772 148.5px,#dcc75a 149.5px,#d6c04e 150.5px,#dcc75a 151.5px,#e6d772 152.5px,#f4edb3 153.5px,#f0f8ec 154.5px,#b9f0d1 155.5px,#7cd6c2 156.5px,#57b7c0 157.5px,#3a78b9 159.5px,#3363b3 161.5px,#3a76b9 163.5px,#4295bd 164.5px,#58b8c0 165.5px,#85dbc3 166.5px,#d1f6dd 167.5px,#f8f4d2 168.5px,#e2d169 169.5px,#ceaf41 170.5px,#b9792d 172.5px,#b56c2b 173.5px,#b56c2b 174.5px,#c09030 176.5px,#d7c150 178.5px,#e9dc7a 179.5px,#f8f4d0 180.5px,#eaf8e9 181.5px,#a3eac7 183.5px,#81d8c2 185.5px,#83dac3 187.5px,#a5ebc8 189.5px,#f5f8ee 192.5px,#f8f5d5 193.5px,#ece080 195.5px,#e3d26b 198.5px,#e8da76 200.5px,#ede286 201.5px,#f8f4d2 203.5px,#f8f7eb 204.5px,#b6efcf 209.5px,#c0f2d4 212.5px,#f5f8ef 216.5px,#f0e79c 221.5px,#f0e79e 223.5px,#f8f8ec 228.5px,#d8f8e0 233.5px,#e7f8e7 238.5px,#f6f8ef 240.5px,#f6f1c6 246.5px,#f4f8ee 253.5px,#e5f8e7 259.5px,#f8f7ec 265.5px,#f8f5da 270.5px,#f3f8ed 278.5px,#f2f8ed 286.5px,#f8f7e6 297.5px,#f8f8ee 300.5px)"></i></div><svg width="1280" height="890" viewBox="0 0 1280 890" font-family="Liberation Sans, sans-serif" fill="#000" style="position:absolute;left:0;top:0"><path d="M208.5,28 V359.5 H512" fill="none" stroke="#9a9a9a" stroke-width="1.1"/><path d="M208.5,340.2h3.5M208.5,266.7h3.5M208.5,193.2h3.5M208.5,119.7h3.5M208.5,46.2h3.5M225.2,359.5v-3.5M292.4,359.5v-3.5M359.6,359.5v-3.5M426.8,359.5v-3.5M494.0,359.5v-3.5" stroke="#9a9a9a" stroke-width="1.1"/><path fill="#420b0b" fill-rule="evenodd" d="M263.5,192.0 L263.5,182.0 L268.0,177.0 L271.0,174.0 L277.0,173.0 L277.0,156.0 L287.3,155.0 L288.0,151.8 L293.6,149.4 L295.1,146.3 L292.8,142.3 L289.6,137.6 L286.5,134.5 L282.5,132.1 L273.9,131.3 L273.9,129.0 L263.7,128.2 L259.7,129.0 L257.4,134.5 L255.0,139.2 L254.2,140.8 L249.5,140.8 L249.5,137.6 L247.1,136.8 L247.1,134.9 L250.3,133.7 L250.3,129.8 L253.4,126.6 L258.2,123.5 L263.7,121.1 L266.8,118.0 L268.4,114.8 L267.6,111.7 L263.7,106.9 L260.5,104.6 L260.5,103.4 L266.8,102.2 L277.8,97.1 L284.9,97.1 L284.9,108.5 L281.8,108.9 L281.8,114.8 L284.5,115.6 L287.3,121.1 L290.4,124.2 L294.3,126.6 L299.0,132.1 L302.2,136.0 L305.3,141.6 L306.1,143.9 L318.0,143.0 L330.0,140.5 L336.0,136.0 L341.0,131.0 L345.0,128.0 L349.0,124.0 L362.0,124.0 L363.0,128.0 L366.0,131.0 L373.0,131.0 L376.0,128.0 L376.0,120.0 L373.0,115.0 L368.0,112.0 L363.0,109.0 L349.0,109.0 L344.0,112.0 L338.0,115.0 L333.0,120.0 L327.0,124.0 L320.0,127.0 L314.0,129.0 L310.0,126.0 L306.0,118.0 L304.0,113.0 L309.0,107.0 L315.0,102.0 L323.0,98.0 L333.0,97.0 L365.0,97.0 L366.0,99.5 L371.0,102.0 L376.0,104.5 L381.0,107.5 L384.0,110.5 L392.0,111.0 L395.0,108.0 L398.0,103.5 L411.0,101.0 L422.0,100.0 L425.0,98.0 L435.0,96.0 L438.0,94.0 L438.0,89.0 L434.0,85.0 L430.0,81.0 L427.0,76.5 L422.0,76.0 L411.0,76.5 L411.0,74.0 L398.0,73.5 L398.0,71.0 L387.0,70.5 L384.5,65.5 L387.0,62.0 L400.0,62.0 L400.0,65.0 L416.5,65.0 L416.5,62.0 L422.0,61.5 L433.0,59.5 L446.0,59.5 L446.0,62.0 L457.0,62.5 L457.0,65.0 L462.0,65.0 L462.0,62.5 L471.0,59.5 L476.0,56.5 L486.5,56.5 L486.5,64.5 L483.5,67.5 L473.0,68.0 L473.0,70.5 L465.0,73.0 L462.0,74.0 L462.0,79.0 L465.0,80.0 L465.0,88.0 L470.0,92.0 L473.0,96.0 L483.5,97.5 L483.5,103.0 L486.5,104.5 L483.5,106.0 L483.0,114.0 L479.4,120.8 L471.0,129.0 L459.0,136.0 L450.8,141.0 L444.0,141.0 L440.7,136.0 L440.7,132.6 L447.4,127.5 L454.0,124.0 L455.8,119.0 L450.8,114.0 L444.0,112.4 L437.3,115.7 L434.0,120.8 L430.6,127.5 L418.8,132.6 L410.3,137.6 L402.0,142.7 L393.5,147.8 L391.8,152.8 L395.2,157.9 L405.3,159.6 L410.3,168.0 L413.7,178.0 L413.7,192.0 L414.0,209.0 L412.0,215.0 L409.0,219.0 L403.0,225.0 L396.0,228.0 L393.0,232.0 L398.0,237.0 L403.0,241.0 L409.0,244.0 L412.0,248.0 L416.0,250.0 L422.0,252.0 L428.0,252.0 L432.0,255.0 L432.0,261.0 L435.0,266.0 L441.0,272.0 L453.0,270.0 L456.0,265.0 L452.0,258.0 L447.0,254.0 L441.0,251.0 L441.0,246.0 L444.0,243.0 L451.0,243.0 L451.0,246.0 L457.0,247.0 L462.0,250.0 L468.0,253.0 L473.0,256.0 L478.0,261.0 L482.0,266.0 L483.0,270.0 L483.5,278.0 L486.5,279.5 L483.5,281.5 L483.6,287.0 L473.3,287.5 L470.0,292.2 L465.3,296.4 L464.4,301.6 L461.6,305.3 L462.5,310.9 L464.4,313.8 L472.8,314.2 L472.8,317.0 L483.1,317.5 L486.4,319.8 L486.4,331.1 L478.4,331.1 L476.6,328.3 L475.6,325.5 L470.0,325.0 L470.0,323.1 L462.0,322.7 L462.0,319.8 L456.9,319.8 L456.9,322.7 L445.6,322.7 L445.6,325.5 L433.0,325.5 L433.0,323.1 L416.6,322.7 L416.6,319.8 L399.7,319.8 L399.7,322.7 L387.0,322.7 L387.0,319.4 L384.2,318.9 L384.2,317.5 L387.0,317.0 L387.0,314.2 L397.8,313.8 L397.8,311.4 L410.9,310.9 L410.9,308.1 L426.9,308.1 L427.3,305.3 L430.6,302.5 L433.4,299.7 L435.3,296.9 L437.7,296.0 L437.7,290.3 L436.2,287.5 L424.5,287.0 L424.5,283.8 L411.0,283.8 L411.0,281.4 L397.8,281.4 L397.0,280.0 L393.0,276.0 L392.0,273.5 L385.0,273.0 L382.0,276.0 L376.0,279.0 L371.0,283.0 L366.0,284.0 L365.0,287.0 L333.0,287.0 L325.0,287.0 L318.0,284.0 L315.0,281.0 L309.0,278.0 L306.0,273.0 L304.0,271.0 L306.0,266.0 L309.0,258.0 L312.0,255.5 L319.0,255.5 L320.0,258.0 L327.0,258.5 L333.0,261.0 L333.0,263.0 L336.0,265.0 L339.0,268.0 L344.0,271.0 L348.0,273.0 L350.0,275.0 L363.0,275.0 L367.0,272.0 L373.0,269.0 L374.0,266.0 L376.0,263.0 L376.0,256.0 L373.0,252.5 L366.0,253.0 L363.0,257.0 L362.0,260.5 L350.0,260.5 L349.0,258.0 L345.0,255.0 L341.0,252.0 L337.0,248.0 L333.0,246.0 L331.0,244.0 L324.0,243.0 L322.0,240.5 L307.0,241.0 L305.0,243.0 L302.0,248.0 L298.0,252.0 L293.0,257.0 L289.0,260.0 L285.0,265.0 L282.0,270.0 L282.0,275.0 L284.5,276.0 L284.5,287.0 L274.0,287.0 L274.0,286.0 L266.0,283.0 L260.5,281.0 L260.5,279.0 L263.0,277.0 L268.0,273.0 L268.0,268.0 L266.0,266.0 L263.0,261.0 L260.0,260.0 L258.0,258.0 L253.0,257.0 L250.5,254.0 L250.0,249.5 L247.0,249.0 L247.0,247.5 L249.5,246.5 L249.5,243.0 L254.0,243.0 L255.0,249.0 L258.0,255.0 L260.5,257.0 L263.0,255.5 L274.0,255.0 L274.0,252.0 L282.0,249.5 L288.0,247.0 L290.0,243.0 L294.0,240.5 L295.0,237.0 L293.0,233.0 L288.0,231.0 L287.0,229.0 L277.0,228.0 L277.0,211.0 L271.0,210.5 L268.0,207.0 L263.5,202.0ZM277.0,191.5 L279.0,185.0 L284.0,183.0 L288.0,178.5 L295.0,173.5 L301.0,173.5 L306.0,179.0 L311.0,187.0 L312.0,193.0 L309.0,200.0 L304.0,207.0 L300.0,211.0 L295.0,211.0 L288.0,205.0 L284.0,200.0 L279.0,198.0 L277.0,193.0ZM344.0,188.0 L349.0,185.0 L359.0,186.0 L360.0,195.0 L356.0,199.0 L349.0,199.0 L344.0,196.0ZM408.7,147.8 L417.0,146.9 L422.0,154.5 L434.0,161.0 L442.4,164.6 L444.0,169.7 L445.7,171.4 L442.4,173.0 L442.4,192.0 L442.4,211.0 L445.7,212.6 L444.0,214.3 L442.4,219.4 L434.0,223.0 L422.0,229.5 L417.0,237.1 L408.7,236.2 L408.7,229.5 L413.7,219.4 L420.5,212.6 L428.9,202.5 L434.0,196.0 L434.0,192.0 L434.0,188.0 L428.9,181.5 L420.5,171.4 L413.7,164.6 L408.7,154.5Z"/><g fill="none" stroke="#e0561e" stroke-width="1.1" transform="translate(359,192.5) rotate(31)"><ellipse cx="0" cy="0" rx="22" ry="7.3"/><ellipse cx="-1.5" cy="-0.5" rx="14" ry="4.6"/><ellipse cx="-4" cy="-1" rx="6.5" ry="2.5"/></g><path d="M350.5,202 L368,177" stroke="#e0561e" stroke-width="1.2"/><path d="M370.5,174 L364,178 L369,182 Z" fill="#e0561e"/><path d="M241.6,57.6 L272.5,97" stroke="#000" stroke-width="4.2"/><path d="M279.5,108.5 L265.5,101.5 L277.5,92.5 Z" fill="#000"/><path d="M689.6,61V343M748.4,61V343M807.2,61V343M866.0,61V343M924.8,61V343M983.6,61V343M1042.4,61V343M678,309.1H1054M678,284.2H1054M678,259.4H1054M678,234.5H1054M678,209.6H1054M678,184.8H1054M678,159.9H1054M678,135.0H1054M678,110.1H1054M678,85.3H1054M678,334.0H1054" stroke="#e2e2e2" stroke-width="1" fill="none"/><rect x="677.6" y="60.4" width="376.6" height="283.2" fill="none" stroke="#000" stroke-width="2"/><path d="M678,334.0H680M678,284.2H680M678,234.5H680M678,184.8H680M678,135.0H680M678,85.3H680" stroke="#000" stroke-width="1.2"/><path d="M677.6,219.68 L679.6,218.08 L681.6,216.26 L683.6,214.24 L685.6,212.02 L687.6,209.64 L689.6,207.11 L691.6,204.44 L693.6,201.66 L695.6,198.78 L697.6,195.82 L699.6,192.80 L701.6,189.73 L703.6,186.64 L705.6,183.55 L707.6,180.46 L709.6,177.40 L711.6,174.39 L713.6,171.44 L715.6,168.57 L717.6,165.80 L719.6,163.15 L721.6,160.64 L723.6,158.27 L725.6,156.09 L727.6,154.07 L729.6,152.23 L731.6,150.55 L733.6,149.01 L735.6,147.61 L737.6,146.32 L739.6,145.15 L741.6,144.08 L743.6,143.09 L745.6,142.18 L747.6,141.34 L749.6,140.54 L751.6,139.79 L753.6,139.07 L755.6,138.36 L757.6,137.66 L759.6,136.95 L761.6,136.23 L763.6,135.49 L765.6,134.76 L767.6,134.04 L769.6,133.35 L771.6,132.70 L773.6,132.10 L775.6,131.58 L777.6,131.13 L779.6,130.78 L781.6,130.54 L783.6,130.42 L785.6,130.44 L787.6,130.61 L789.6,130.93 L791.6,131.43 L793.6,132.12 L795.6,133.01 L797.6,134.08 L799.6,135.33 L801.6,136.76 L803.6,138.36 L805.6,140.14 L807.6,142.07 L809.6,144.16 L811.6,146.39 L813.6,148.71 L815.6,151.09 L817.6,153.49 L819.6,155.87 L821.6,158.24 L823.6,160.59 L825.6,162.92 L827.6,165.22 L829.6,167.49 L831.6,169.74 L833.6,171.95 L835.6,174.11 L837.6,176.24 L839.6,178.32 L841.6,180.36 L843.6,182.34 L845.6,184.27 L847.6,186.14 L849.6,187.94 L851.6,189.69 L853.6,191.36 L855.6,192.96 L857.6,194.49 L859.6,195.94 L861.6,197.31 L863.6,198.59 L865.6,199.78 L867.6,200.89 L869.6,201.92 L871.6,202.88 L873.6,203.77 L875.6,204.59 L877.6,205.37 L879.6,206.09 L881.6,206.77 L883.6,207.41 L885.6,208.02 L887.6,208.60 L889.6,209.16 L891.6,209.71 L893.6,210.25 L895.6,210.79 L897.6,211.33 L899.6,211.88 L901.6,212.44 L903.6,213.02 L905.6,213.62 L907.6,214.23 L909.6,214.85 L911.6,215.49 L913.6,216.13 L915.6,216.79 L917.6,217.46 L919.6,218.13 L921.6,218.82 L923.6,219.51 L925.6,220.21 L927.6,220.91 L929.6,221.62 L931.6,222.33 L933.6,223.05 L935.6,223.77 L937.6,224.49 L939.6,225.21 L941.6,225.93 L943.6,226.65 L945.6,227.36 L947.6,228.08 L949.6,228.79 L951.6,229.49 L953.6,230.20 L955.6,230.89 L957.6,231.58 L959.6,232.26 L961.6,232.93 L963.6,233.59 L965.6,234.24 L967.6,234.88 L969.6,235.51 L971.6,236.12 L973.6,236.73 L975.6,237.31 L977.6,237.88 L979.6,238.44 L981.6,238.98 L983.6,239.50 L985.6,240.00 L987.6,240.48 L989.6,240.94 L991.6,241.38 L993.6,241.80 L995.6,242.19 L997.6,242.56 L999.6,242.91 L1001.6,243.23 L1003.6,243.52 L1005.6,243.79 L1007.6,244.03 L1009.6,244.24 L1011.6,244.41 L1013.6,244.56 L1015.6,244.68 L1017.6,244.77 L1019.6,244.82 L1021.6,244.84 L1023.6,244.82 L1025.6,244.77 L1027.6,244.68 L1029.6,244.55 L1031.6,244.39 L1033.6,244.19 L1035.6,243.94 L1037.6,243.66 L1039.6,243.33 L1041.6,242.96 L1043.6,242.55" fill="none" stroke="#4b9a1c" stroke-width="3.2"/><path d="M677.6,192.97 L679.6,190.60 L681.6,188.14 L683.6,185.57 L685.6,182.89 L687.6,180.08 L689.6,177.14 L691.6,174.06 L693.6,170.83 L695.6,167.44 L697.6,163.89 L699.6,160.15 L701.6,156.23 L703.6,152.14 L705.6,147.90 L707.6,143.55 L709.6,139.14 L711.6,134.71 L713.6,130.29 L715.6,125.98 L717.6,121.86 L719.6,117.95 L721.6,114.28 L723.6,110.82 L725.6,107.57 L727.6,104.52 L729.6,101.66 L731.6,98.99 L733.6,96.49 L735.6,94.16 L737.6,91.99 L739.6,89.97 L741.6,88.10 L743.6,86.36 L745.6,84.74 L747.6,83.25 L749.6,81.86 L751.6,80.58 L753.6,79.39 L755.6,78.30 L757.6,77.29 L759.6,76.35 L761.6,75.49 L763.6,74.70 L765.6,73.97 L767.6,73.29 L769.6,72.66 L771.6,72.07 L773.6,71.52 L775.6,71.00 L777.6,70.50 L779.6,70.04 L781.6,69.64 L783.6,69.34 L785.6,69.16 L787.6,69.15 L789.6,69.33 L791.6,69.75 L793.6,70.42 L795.6,71.39 L797.6,72.69 L799.6,74.33 L801.6,76.28 L803.6,78.52 L805.6,81.02 L807.6,83.74 L809.6,86.67 L811.6,89.76 L813.6,93.00 L815.6,96.36 L817.6,99.80 L819.6,103.30 L821.6,106.82 L823.6,110.35 L825.6,113.85 L827.6,117.29 L829.6,120.65 L831.6,123.90 L833.6,127.01 L835.6,130.00 L837.6,132.87 L839.6,135.61 L841.6,138.25 L843.6,140.77 L845.6,143.18 L847.6,145.49 L849.6,147.70 L851.6,149.80 L853.6,151.82 L855.6,153.75 L857.6,155.58 L859.6,157.34 L861.6,159.01 L863.6,160.61 L865.6,162.14 L867.6,163.60 L869.6,164.99 L871.6,166.32 L873.6,167.59 L875.6,168.81 L877.6,169.98 L879.6,171.10 L881.6,172.17 L883.6,173.21 L885.6,174.21 L887.6,175.17 L889.6,176.11 L891.6,177.02 L893.6,177.90 L895.6,178.77 L897.6,179.62 L899.6,180.46 L901.6,181.30 L903.6,182.12 L905.6,182.95 L907.6,183.78 L909.6,184.61 L911.6,185.46 L913.6,186.31 L915.6,187.17 L917.6,188.04 L919.6,188.92 L921.6,189.80 L923.6,190.69 L925.6,191.59 L927.6,192.48 L929.6,193.38 L931.6,194.28 L933.6,195.18 L935.6,196.08 L937.6,196.98 L939.6,197.87 L941.6,198.77 L943.6,199.66 L945.6,200.54 L947.6,201.42 L949.6,202.29 L951.6,203.16 L953.6,204.02 L955.6,204.86 L957.6,205.70 L959.6,206.53 L961.6,207.34 L963.6,208.14 L965.6,208.93 L967.6,209.70 L969.6,210.46 L971.6,211.20 L973.6,211.92 L975.6,212.62 L977.6,213.31 L979.6,213.97 L981.6,214.62 L983.6,215.24 L985.6,215.84 L987.6,216.41 L989.6,216.96 L991.6,217.49 L993.6,217.99 L995.6,218.46 L997.6,218.91 L999.6,219.33 L1001.6,219.72 L1003.6,220.09 L1005.6,220.43 L1007.6,220.74 L1009.6,221.02 L1011.6,221.28 L1013.6,221.51 L1015.6,221.71 L1017.6,221.88 L1019.6,222.03 L1021.6,222.14 L1023.6,222.23 L1025.6,222.28 L1027.6,222.31 L1029.6,222.31 L1031.6,222.27 L1033.6,222.21 L1035.6,222.12 L1037.6,221.99 L1039.6,221.84 L1041.6,221.65 L1043.6,221.43" fill="none" stroke="#4b9a1c" stroke-width="3.6" stroke-dasharray="4.4 3.5"/><path d="M677.6,234.22 L679.6,233.21 L681.6,231.88 L683.6,230.26 L685.6,228.39 L687.6,226.29 L689.6,223.99 L691.6,221.53 L693.6,218.93 L695.6,216.23 L697.6,213.46 L699.6,210.65 L701.6,207.83 L703.6,205.03 L705.6,202.28 L707.6,199.62 L709.6,197.07 L711.6,194.67 L713.6,192.44 L715.6,190.41 L717.6,188.55 L719.6,186.86 L721.6,185.33 L723.6,183.94 L725.6,182.68 L727.6,181.53 L729.6,180.49 L731.6,179.54 L733.6,178.66 L735.6,177.85 L737.6,177.09 L739.6,176.36 L741.6,175.66 L743.6,174.99 L745.6,174.34 L747.6,173.71 L749.6,173.11 L751.6,172.54 L753.6,172.00 L755.6,171.48 L757.6,171.00 L759.6,170.54 L761.6,170.12 L763.6,169.74 L765.6,169.39 L767.6,169.07 L769.6,168.79 L771.6,168.55 L773.6,168.35 L775.6,168.19 L777.6,168.07 L779.6,168.00 L781.6,167.97 L783.6,167.98 L785.6,168.04 L787.6,168.17 L789.6,168.36 L791.6,168.63 L793.6,169.00 L795.6,169.46 L797.6,170.03 L799.6,170.72 L801.6,171.54 L803.6,172.50 L805.6,173.61 L807.6,174.86 L809.6,176.25 L811.6,177.76 L813.6,179.37 L815.6,181.07 L817.6,182.86 L819.6,184.71 L821.6,186.61 L823.6,188.55 L825.6,190.51 L827.6,192.48 L829.6,194.45 L831.6,196.40 L833.6,198.32 L835.6,200.19 L837.6,202.01 L839.6,203.75 L841.6,205.41 L843.6,206.99 L845.6,208.50 L847.6,209.94 L849.6,211.30 L851.6,212.60 L853.6,213.83 L855.6,215.00 L857.6,216.12 L859.6,217.17 L861.6,218.17 L863.6,219.12 L865.6,220.02 L867.6,220.88 L869.6,221.69 L871.6,222.46 L873.6,223.20 L875.6,223.90 L877.6,224.57 L879.6,225.21 L881.6,225.83 L883.6,226.42 L885.6,226.98 L887.6,227.54 L889.6,228.07 L891.6,228.59 L893.6,229.11 L895.6,229.61 L897.6,230.12 L899.6,230.62 L901.6,231.12 L903.6,231.62 L905.6,232.12 L907.6,232.63 L909.6,233.14 L911.6,233.64 L913.6,234.15 L915.6,234.66 L917.6,235.18 L919.6,235.69 L921.6,236.20 L923.6,236.72 L925.6,237.23 L927.6,237.75 L929.6,238.26 L931.6,238.78 L933.6,239.30 L935.6,239.82 L937.6,240.34 L939.6,240.86 L941.6,241.38 L943.6,241.90 L945.6,242.42 L947.6,242.94 L949.6,243.46 L951.6,243.98 L953.6,244.50 L955.6,245.02 L957.6,245.54 L959.6,246.06 L961.6,246.57 L963.6,247.09 L965.6,247.61 L967.6,248.12 L969.6,248.63 L971.6,249.13 L973.6,249.63 L975.6,250.12 L977.6,250.61 L979.6,251.08 L981.6,251.55 L983.6,252.01 L985.6,252.45 L987.6,252.88 L989.6,253.30 L991.6,253.71 L993.6,254.10 L995.6,254.48 L997.6,254.83 L999.6,255.17 L1001.6,255.50 L1003.6,255.80 L1005.6,256.08 L1007.6,256.34 L1009.6,256.58 L1011.6,256.80 L1013.6,256.99 L1015.6,257.16 L1017.6,257.30 L1019.6,257.42 L1021.6,257.50 L1023.6,257.56 L1025.6,257.59 L1027.6,257.59 L1029.6,257.56 L1031.6,257.49 L1033.6,257.39 L1035.6,257.26 L1037.6,257.09 L1039.6,256.89 L1041.6,256.65 L1043.6,256.37" fill="none" stroke="#4b9a1c" stroke-width="3.6" stroke-dasharray="9.3 6.2 1.5 6.3"/><path d="M681,328.8 H1044" stroke="#000" stroke-width="3.3" stroke-dasharray="4 3.97"/><path d="M677.5,328.8 H685" stroke="#000" stroke-width="3.3"/><path d="M49,811 H350" stroke="#000" stroke-width="2.2"/><g fill="none" stroke="#000" stroke-width="1.9" transform="translate(0.0,0)"><rect x="176.5" y="790.8" width="3.6" height="19"/><rect x="189.2" y="790.8" width="4.4" height="19"/><rect x="200.3" y="790.8" width="10" height="19"/><rect x="216.6" y="790.8" width="3.2" height="19"/></g><path d="M389,811 H690" stroke="#000" stroke-width="2.2"/><g fill="none" stroke="#000" stroke-width="1.9" transform="translate(340.0,0)"><rect x="176.5" y="790.8" width="3.6" height="19"/><rect x="189.2" y="790.8" width="4.4" height="19"/><rect x="200.3" y="790.8" width="10" height="19"/><rect x="216.6" y="790.8" width="3.2" height="19"/></g><defs><linearGradient id="cbc" x1="0" y1="0" x2="0" y2="1"><stop offset="0.0000" stop-color="#1a0a18"/><stop offset="0.0625" stop-color="#4a0c1c"/><stop offset="0.1250" stop-color="#7a1418"/><stop offset="0.1750" stop-color="#962a1c"/><stop offset="0.2125" stop-color="#a8481e"/><stop offset="0.2500" stop-color="#b4682a"/><stop offset="0.3000" stop-color="#c09030"/><stop offset="0.3750" stop-color="#d4bc48"/><stop offset="0.4375" stop-color="#ece080"/><stop offset="0.4750" stop-color="#f8f4d0"/><stop offset="0.5000" stop-color="#f8f8f0"/><stop offset="0.5375" stop-color="#d8f8e0"/><stop offset="0.5750" stop-color="#a8ecc8"/><stop offset="0.6250" stop-color="#70d0c0"/><stop offset="0.6875" stop-color="#48a8c0"/><stop offset="0.7500" stop-color="#3870b8"/><stop offset="0.8125" stop-color="#2a48a8"/><stop offset="0.8750" stop-color="#1c1c98"/><stop offset="0.9375" stop-color="#1a0c70"/><stop offset="1.0000" stop-color="#160a48"/></linearGradient></defs><rect x="700.5" y="501.3" width="7.3" height="318" fill="url(#cbc)" stroke="#666" stroke-width="0.7"/><path d="M704.3,501.3h3.5M704.3,580.8h3.5M704.3,660.3h3.5M704.3,739.8h3.5M704.3,819.3h3.5" stroke="#333" stroke-width="0.9"/><path d="M1035.4,807.7 L1037.2,806.2 L1038.8,804.6 L1040.3,803.0 L1041.7,801.4 L1042.9,799.8 L1044.0,798.2 L1044.9,796.5 L1045.7,794.9 L1046.3,793.3 L1046.8,791.6 L1047.2,789.9 L1047.4,788.3 L1047.4,786.6 L1047.3,784.9 L1047.1,783.3 L1046.7,781.6 L1046.2,780.0 L1045.5,778.3 L1044.7,776.7 L1043.7,775.1 L1042.6,773.5 L1041.3,771.9 L1039.9,770.3 L1038.4,768.7 L1036.7,767.2 L1034.9,765.6 L1033.0,764.1 L1030.9,762.7 L1028.7,761.2 L1026.4,759.8 L1023.9,758.4 L1021.3,757.0 L1018.6,755.6 L1015.8,754.3 L1012.8,753.0 L1009.8,751.8 L1006.6,750.6 L1003.3,749.4 L999.9,748.3 L996.5,747.2 L992.9,746.1 L989.2,745.1 L985.5,744.1 L981.6,743.2 L977.7,742.3 L973.7,741.5 L969.6,740.7 L965.5,739.9 L961.3,739.2 L957.0,738.5 L952.7,737.9 L948.3,737.4 L943.9,736.9 L939.4,736.4 L934.9,736.0 L930.4,735.6 L925.8,735.3 L921.2,735.1 L916.6,734.9 L911.9,734.7 L907.3,734.6 L902.6,734.6 L897.9,734.6 L893.3,734.7 L888.6,734.8 L884.0,734.9 L879.3,735.2 L874.7,735.4 L870.1,735.8 L865.6,736.1 L861.1,736.6 L856.6,737.0 L852.2,737.6 L847.8,738.1 L843.4,738.7 L839.1,739.4 L834.9,740.1 L830.8,740.9 L826.7,741.7 L822.6,742.6 L818.7,743.5 L814.8,744.4 L811.1,745.4 L807.4,746.4 L803.8,747.5 L800.3,748.6 L796.9,749.8 L793.6,751.0 L790.4,752.2 L787.3,753.5 L784.3,754.7 L781.5,756.1 L778.7,757.4 L776.1,758.8 L773.6,760.2 L771.3,761.7 L769.0,763.1 L766.9,764.6 L764.9,766.1 L763.1,767.7 L761.4,769.2 L759.8,770.8 L758.4,772.4 L757.1,774.0 L756.0,775.6 L754.9,777.2 L754.1,778.9 L753.4,780.5 L752.8,782.2 L752.4,783.8 L752.1,785.5 L752.0,787.2 L752.0,788.8 L752.2,790.5 L752.5,792.1 L752.9,793.8 L753.5,795.4 L754.3,797.1 L755.2,798.7 L756.2,800.3 L757.4,801.9 L758.7,803.5 L760.2,805.1 L761.8,806.7 L763.6,808.2 L765.4,809.7 L767.4,811.2 L769.6,812.7 L771.9,814.1 L774.3,815.5 L776.8,816.9 L779.4,818.3 L782.2,819.6 L785.1,820.9 L788.1,822.2 L791.2,823.4 L794.4,824.6 L797.8,825.8 L801.2,826.9 L804.7,828.0 L808.3,829.0 L812.0,830.0 L815.8,831.0 L819.7,831.9 L823.7,832.7 L827.7,833.6 L831.8,834.3 L836.0,835.1 L840.2,835.7 L844.5,836.4 L848.9,837.0 L853.3,837.5 L857.7,838.0 L862.2,838.4 L866.8,838.8 L871.3,839.1 L875.9,839.4 L880.5,839.6 L885.2,839.8 L889.8,839.9 L894.5,840.0 L899.1,840.0 L903.8,840.0 L908.5,839.9 L913.1,839.7 L917.7,839.6 L922.4,839.3 L927.0,839.0 L931.5,838.7 L936.1,838.3 L940.6,837.8 L945.0,837.3 L949.5,836.8 L953.8,836.2 L958.1,835.5 L962.4,834.8 L966.6,834.1 L970.7,833.3 L974.8,832.5 L978.7,831.6 L982.6,830.7 L986.5,829.7 L990.2,828.7 L993.8,827.6 L997.4,826.5 L1000.8,825.4 L1004.2,824.2 L1007.4,823.0 L1010.6,821.8 L1013.6,820.5 L1016.5,819.2 L1019.3,817.9 L1022.0,816.5 L1024.5,815.1 L1027.0,813.7 L1029.3,812.2 L1031.4,810.7 L1033.5,809.2 L1035.4,807.7Z" fill="none" stroke="#000" stroke-width="2.6" stroke-dasharray="9 7"/><defs><linearGradient id="lobe" gradientUnits="userSpaceOnUse" x1="913" y1="512" x2="869" y2="787"><stop offset="0.000" stop-color="#5a0c10"/><stop offset="0.020" stop-color="#6a1010"/><stop offset="0.080" stop-color="#901515"/><stop offset="0.140" stop-color="#c01818"/><stop offset="0.200" stop-color="#d02020"/><stop offset="0.260" stop-color="#d85020"/><stop offset="0.320" stop-color="#e07a20"/><stop offset="0.380" stop-color="#e8b030"/><stop offset="0.430" stop-color="#f0f030"/><stop offset="0.500" stop-color="#d0f040"/><stop offset="0.520" stop-color="#c0f060"/><stop offset="0.590" stop-color="#90f0a0"/><stop offset="0.650" stop-color="#70f0e0"/><stop offset="0.680" stop-color="#60e0f8"/><stop offset="0.710" stop-color="#50b8f8"/><stop offset="0.770" stop-color="#4080f8"/><stop offset="0.830" stop-color="#2020f8"/><stop offset="0.890" stop-color="#1808e0"/><stop offset="0.950" stop-color="#1808b0"/><stop offset="1.000" stop-color="#1a0890"/></linearGradient></defs><path d="M899.8,511.6 C900.2,511.9 900.5,511.2 902.3,513.5 C904.1,515.8 908.1,520.5 910.8,525.3 C913.5,530.1 916.2,536.5 918.3,542.1 C920.4,547.7 922.0,553.4 923.4,559.0 C924.8,564.6 925.8,570.2 926.8,575.8 C927.8,581.4 928.7,587.1 929.3,592.7 C929.9,598.3 930.3,603.9 930.6,609.5 C930.9,615.1 930.9,621.2 931.0,626.3 C931.1,631.4 931.0,634.9 931.0,640.0 C931.0,645.1 931.0,651.2 930.8,656.8 C930.6,662.4 930.2,668.1 929.6,673.7 C929.0,679.3 928.1,684.9 927.0,690.5 C925.9,696.1 924.6,701.8 923.2,707.4 C921.9,713.0 920.3,718.6 918.9,724.2 C917.5,729.8 916.4,735.5 915.0,741.1 C913.6,746.7 912.1,752.3 910.5,757.9 C908.9,763.5 907.4,770.0 905.6,774.8 C903.8,779.6 901.0,784.8 899.8,786.8 C898.6,788.8 899.7,788.8 898.6,786.8 C897.5,784.8 895.0,779.6 893.0,774.8 C891.0,770.0 888.8,763.5 886.5,757.9 C884.2,752.3 881.9,746.7 879.5,741.1 C877.1,735.5 874.6,729.8 872.3,724.2 C870.0,718.6 867.6,713.0 865.5,707.4 C863.4,701.8 861.5,696.1 859.8,690.5 C858.1,684.9 856.4,679.3 855.2,673.7 C854.0,668.1 853.2,662.4 852.8,656.8 C852.4,651.2 852.8,645.1 852.6,640.0 C852.4,634.9 851.9,631.4 851.8,626.3 C851.7,621.2 851.9,615.1 852.1,609.5 C852.3,603.9 852.6,598.3 853.1,592.7 C853.6,587.1 854.2,581.4 855.2,575.8 C856.2,570.2 857.7,564.6 859.4,559.0 C861.1,553.4 862.6,547.7 865.3,542.1 C868.0,536.5 871.5,530.1 875.4,525.3 C879.3,520.5 884.8,515.8 888.9,513.5 C893.0,511.2 898.0,511.9 899.8,511.6Z" fill="url(#lobe)"/><path d="M764.0,766.9 L1088.3,815.7" stroke="#10108a" stroke-width="2.6"/><path d="M841.3,835.9 L981.5,719.3" stroke="#10108a" stroke-width="2.6"/><path d="M1035.4,807.7 L1035.4,801.9 L1035.3,796.1 L1035.1,790.2 L1034.9,784.4 L1034.6,778.6 L1034.3,772.8 L1033.9,766.9 L1033.5,761.1 L1033.0,755.3 L1032.4,749.5 L1031.8,743.8 L1031.1,738.0 L1030.3,732.3 L1029.5,726.6 L1028.7,720.9 L1027.8,715.3 L1026.8,709.7 L1025.7,704.1 L1024.7,698.6 L1023.5,693.1 L1022.3,687.6 L1021.1,682.2 L1019.8,676.8 L1018.4,671.5 L1017.0,666.2 L1015.5,661.0 L1014.0,655.9 L1012.4,650.8 L1010.8,645.7 L1009.1,640.8 L1007.4,635.9 L1005.7,631.0 L1003.9,626.2 L1002.0,621.5 L1000.1,616.9 L998.1,612.4 L996.2,607.9 L994.1,603.5 L992.0,599.2 L989.9,594.9 L987.8,590.8 L985.6,586.7 L983.3,582.8 L981.1,578.9 L978.8,575.1 L976.4,571.4 L974.0,567.8 L971.6,564.3 L969.2,560.9 L966.7,557.6 L964.2,554.5 L961.7,551.4 L959.1,548.4 L956.5,545.5 L953.9,542.7 L951.3,540.1 L948.6,537.5 L946.0,535.1 L943.3,532.7 L940.5,530.5 L937.8,528.4 L935.1,526.4 L932.3,524.6 L929.5,522.8 L926.7,521.2 L923.9,519.7 L921.1,518.3 L918.2,517.0 L915.4,515.8 L912.6,514.8 L909.7,513.9 L906.8,513.1 L904.0,512.4 L901.1,511.8 L898.3,511.4 L895.4,511.1 L892.6,510.9 L889.7,510.8 L886.8,510.9 L884.0,511.1 L881.2,511.4 L878.3,511.8 L875.5,512.4 L872.7,513.1 L869.9,513.8 L867.1,514.8 L864.3,515.8 L861.6,517.0 L858.9,518.2 L856.1,519.6 L853.4,521.2 L850.8,522.8 L848.1,524.6 L845.5,526.4 L842.9,528.4 L840.3,530.5 L837.7,532.7 L835.2,535.1 L832.7,537.5 L830.2,540.1 L827.8,542.7 L825.4,545.5 L823.0,548.4 L820.6,551.3 L818.3,554.4 L816.1,557.6 L813.8,560.9 L811.6,564.3 L809.5,567.8 L807.4,571.4 L805.3,575.1 L803.2,578.9 L801.3,582.8 L799.3,586.7 L797.4,590.8 L795.5,594.9 L793.7,599.1 L792.0,603.5 L790.3,607.9 L788.6,612.3 L787.0,616.9 L785.4,621.5 L783.9,626.2 L782.4,631.0 L781.0,635.8 L779.6,640.7 L778.3,645.7 L777.1,650.7 L775.9,655.8 L774.7,661.0 L773.7,666.2 L772.6,671.5 L771.6,676.8 L770.7,682.2 L769.9,687.6 L769.1,693.0 L768.3,698.5 L767.6,704.1 L767.0,709.7 L766.4,715.3 L765.9,720.9 L765.5,726.6 L765.1,732.3 L764.8,738.0 L764.5,743.7 L764.3,749.5 L764.1,755.3 L764.0,761.1 L764.0,766.9" fill="none" stroke="#6e0c0c" stroke-width="2.6"/><path d="M841.3,835.9 L841.3,830.1 L841.4,824.2 L841.4,818.4 L841.5,812.5 L841.6,806.6 L841.8,800.7 L841.9,794.8 L842.1,788.9 L842.3,783.0 L842.6,777.1 L842.9,771.2 L843.2,765.3 L843.5,759.5 L843.8,753.6 L844.2,747.7 L844.6,741.9 L845.0,736.1 L845.5,730.3 L845.9,724.5 L846.4,718.8 L846.9,713.1 L847.5,707.4 L848.0,701.8 L848.6,696.2 L849.2,690.6 L849.9,685.1 L850.5,679.6 L851.2,674.2 L851.9,668.8 L852.6,663.5 L853.3,658.2 L854.1,653.0 L854.9,647.9 L855.7,642.8 L856.5,637.8 L857.3,632.8 L858.2,627.9 L859.1,623.1 L860.0,618.4 L860.9,613.7 L861.8,609.1 L862.7,604.6 L863.7,600.2 L864.7,595.8 L865.7,591.6 L866.7,587.4 L867.7,583.3 L868.7,579.3 L869.8,575.4 L870.9,571.6 L871.9,567.9 L873.0,564.2 L874.1,560.7 L875.2,557.3 L876.4,554.0 L877.5,550.8 L878.6,547.7 L879.8,544.7 L881.0,541.8 L882.1,539.0 L883.3,536.3 L884.5,533.8 L885.7,531.3 L886.9,529.0 L888.1,526.8 L889.3,524.7 L890.5,522.7 L891.7,520.8 L892.9,519.1 L894.2,517.4 L895.4,515.9 L896.6,514.5 L897.9,513.3 L899.1,512.1 L900.3,511.1 L901.5,510.2 L902.8,509.4 L904.0,508.8 L905.2,508.2 L906.5,507.8 L907.7,507.5 L908.9,507.4 L910.1,507.4 L911.3,507.4 L912.5,507.7 L913.7,508.0 L914.9,508.5 L916.1,509.0 L917.3,509.8 L918.4,510.6 L919.6,511.5 L920.8,512.6 L921.9,513.8 L923.0,515.2 L924.2,516.6 L925.3,518.2 L926.4,519.8 L927.5,521.6 L928.5,523.6 L929.6,525.6 L930.7,527.8 L931.7,530.0 L932.7,532.4 L933.7,534.9 L934.7,537.5 L935.7,540.2 L936.7,543.1 L937.6,546.0 L938.5,549.1 L939.4,552.2 L940.3,555.5 L941.2,558.8 L942.1,562.3 L942.9,565.9 L943.7,569.5 L944.5,573.3 L945.3,577.1 L946.1,581.1 L946.8,585.1 L947.5,589.2 L948.2,593.5 L948.9,597.8 L949.5,602.1 L950.2,606.6 L950.8,611.2 L951.4,615.8 L951.9,620.5 L952.5,625.3 L953.0,630.1 L953.5,635.0 L953.9,640.0 L954.4,645.1 L954.8,650.2 L955.2,655.4 L955.6,660.6 L955.9,665.9 L956.2,671.2 L956.5,676.6 L956.8,682.1 L957.1,687.6 L957.3,693.1 L957.5,698.7 L957.6,704.3 L957.8,710.0 L957.9,715.6 L958.0,721.4 L958.0,727.1 L958.1,732.9 L958.1,738.7" fill="none" stroke="#4a9a1c" stroke-width="2.6"/><path d="M900,515 V462" stroke="#10108a" stroke-width="3"/><path d="M900,458.5 L911,499.5 Q900,503 889,499.5 Z" fill="#10108a"/><path d="M1088.9,816 L1048,820.4 Q1043,810 1051,799.7 Z" fill="#6e0c0c"/><path d="M981.9,717 L976,738 Q968,744 958,738 L960,729 Z" fill="#4a9a1c"/><defs><linearGradient id="cbd" x1="0" y1="0" x2="0" y2="1"><stop offset="0.0000" stop-color="#5c1018"/><stop offset="0.0250" stop-color="#5c1018"/><stop offset="0.0250" stop-color="#691018"/><stop offset="0.0500" stop-color="#691018"/><stop offset="0.0500" stop-color="#7d121a"/><stop offset="0.0750" stop-color="#7d121a"/><stop offset="0.0750" stop-color="#98171f"/><stop offset="0.1000" stop-color="#98171f"/><stop offset="0.1000" stop-color="#b31b20"/><stop offset="0.1250" stop-color="#b31b20"/><stop offset="0.1250" stop-color="#cd2020"/><stop offset="0.1500" stop-color="#cd2020"/><stop offset="0.1500" stop-color="#d42820"/><stop offset="0.1750" stop-color="#d42820"/><stop offset="0.1750" stop-color="#d83220"/><stop offset="0.2000" stop-color="#d83220"/><stop offset="0.2000" stop-color="#d34420"/><stop offset="0.2250" stop-color="#d34420"/><stop offset="0.2250" stop-color="#d15520"/><stop offset="0.2500" stop-color="#d15520"/><stop offset="0.2500" stop-color="#d66720"/><stop offset="0.2750" stop-color="#d66720"/><stop offset="0.2750" stop-color="#da7920"/><stop offset="0.3000" stop-color="#da7920"/><stop offset="0.3000" stop-color="#df8b20"/><stop offset="0.3250" stop-color="#df8b20"/><stop offset="0.3250" stop-color="#e5ac29"/><stop offset="0.3500" stop-color="#e5ac29"/><stop offset="0.3500" stop-color="#ebd12a"/><stop offset="0.3750" stop-color="#ebd12a"/><stop offset="0.3750" stop-color="#eef022"/><stop offset="0.4000" stop-color="#eef022"/><stop offset="0.4000" stop-color="#def032"/><stop offset="0.4250" stop-color="#def032"/><stop offset="0.4250" stop-color="#cbf043"/><stop offset="0.4500" stop-color="#cbf043"/><stop offset="0.4500" stop-color="#b2f054"/><stop offset="0.4750" stop-color="#b2f054"/><stop offset="0.4750" stop-color="#9ef067"/><stop offset="0.5000" stop-color="#9ef067"/><stop offset="0.5000" stop-color="#99f07d"/><stop offset="0.5250" stop-color="#99f07d"/><stop offset="0.5250" stop-color="#93f093"/><stop offset="0.5500" stop-color="#93f093"/><stop offset="0.5500" stop-color="#8df0ac"/><stop offset="0.5750" stop-color="#8df0ac"/><stop offset="0.5750" stop-color="#86f0c9"/><stop offset="0.6000" stop-color="#86f0c9"/><stop offset="0.6000" stop-color="#7defe4"/><stop offset="0.6250" stop-color="#7defe4"/><stop offset="0.6250" stop-color="#71e9f6"/><stop offset="0.6500" stop-color="#71e9f6"/><stop offset="0.6500" stop-color="#5abdf1"/><stop offset="0.6750" stop-color="#5abdf1"/><stop offset="0.6750" stop-color="#4c9cf0"/><stop offset="0.7000" stop-color="#4c9cf0"/><stop offset="0.7000" stop-color="#3f7df0"/><stop offset="0.7250" stop-color="#3f7df0"/><stop offset="0.7250" stop-color="#3663f0"/><stop offset="0.7500" stop-color="#3663f0"/><stop offset="0.7500" stop-color="#2d48ef"/><stop offset="0.7750" stop-color="#2d48ef"/><stop offset="0.7750" stop-color="#242dea"/><stop offset="0.8000" stop-color="#242dea"/><stop offset="0.8000" stop-color="#1e1be1"/><stop offset="0.8250" stop-color="#1e1be1"/><stop offset="0.8250" stop-color="#1b12d4"/><stop offset="0.8500" stop-color="#1b12d4"/><stop offset="0.8500" stop-color="#1910c3"/><stop offset="0.8750" stop-color="#1910c3"/><stop offset="0.8750" stop-color="#1810b2"/><stop offset="0.9000" stop-color="#1810b2"/><stop offset="0.9000" stop-color="#180da3"/><stop offset="0.9250" stop-color="#180da3"/><stop offset="0.9250" stop-color="#180995"/><stop offset="0.9500" stop-color="#180995"/><stop offset="0.9500" stop-color="#180883"/><stop offset="0.9750" stop-color="#180883"/><stop offset="0.9750" stop-color="#180874"/><stop offset="1.0000" stop-color="#180874"/></linearGradient></defs><rect x="1117.6" y="432.6" width="10.3" height="418.8" fill="url(#cbd)"/><path d="M1124.9,474.5h3M1124.9,516.4h3M1124.9,558.2h3M1124.9,600.1h3M1124.9,642.0h3M1124.9,683.9h3M1124.9,725.8h3M1124.9,767.6h3M1124.9,809.5h3" stroke="#222" stroke-width="1" opacity="0.6"/><text transform="matrix(0.49647 0 0 0.52087 108.8 36.7)" font-size="100">A.</text><text transform="matrix(0.47273 0 0 0.5087 556.62 35.6)" font-size="100">B.</text><text transform="matrix(0.39419 0 0 0.45915 101.13 425.24)" font-size="100">C.</text><text transform="matrix(0.46627 0 0 0.51594 730.07 450.7)" font-size="100">D.</text><text transform="matrix(0.32857 0 0 0.31081 211.26 57.289)" font-size="100">Si</text><text transform="matrix(0.28043 0 0 0.28617 320.62 421.79)" font-size="100">x (nm)</text><text transform="matrix(0 -0.27762 0.27979 0 149.52 232)" font-size="100">y (nm)</text><text transform="matrix(0.28867 0 0 0.28936 757.21 400.52)" font-size="100">Wavelength (nm)</text><text transform="matrix(0 -0.28849 0.27447 0 639.24 368.21)" font-size="100">Extraction Efficiency [<tspan font-style="italic">η</tspan>(<tspan font-style="italic">λ</tspan>)]</text><text transform="matrix(0.20755 0 0 0.20857 995.77 216.49)" font-size="100">5 nm</text><text transform="matrix(0.2038 0 0 0.20704 990.97 238.79)" font-size="100">10 nm</text><text transform="matrix(0.2038 0 0 0.20857 990.97 275.69)" font-size="100">15 nm</text><text transform="matrix(0.20793 0 0 0.22923 893.04 323.37)" font-size="100">no structure</text><text transform="matrix(0.41852 0 0 0.45362 113.85 490.8)" font-size="100">E</text><text transform="matrix(0.29167 0 0 0.29623 142.71 501)" font-size="100">x</text><text transform="matrix(0.44405 0 0 0.43883 169.24 490.78)" font-size="100">(arb.)</text><text transform="matrix(0.42963 0 0 0.45217 461.16 487.8)" font-size="100">E</text><text transform="matrix(0.292 0 0 0.2973 489.8 496.76)" font-size="100">y</text><text transform="matrix(0.44405 0 0 0.4383 516.74 487.8)" font-size="100">(arb.)</text><text transform="matrix(0.43449 0 0 0.41216 57.666 549.99)" font-size="100">λ = 675 nm</text><text transform="matrix(0 -0.30634 0.27766 0 22.069 704.92)" font-size="100">Z (<tspan font-style="italic">μ</tspan>m)</text><text transform="matrix(0.31103 0 0 0.29043 152.77 883.4)" font-size="100">X (<tspan font-style="italic">μ</tspan>m)</text><text transform="matrix(0.31103 0 0 0.29043 492.77 883.4)" font-size="100">X (<tspan font-style="italic">μ</tspan>m)</text><text transform="matrix(0.36341 0 0 0.31887 905.75 458.1)" font-size="100">z</text><text transform="matrix(0.248 0 0 0.25541 986.9 724.94)" font-size="100">y</text><text transform="matrix(0.31042 0 0 0.3283 1079.6 810.3)" font-size="100">x</text><text transform="matrix(0 -0.44173 0.44681 0 1218.6 745.78)" font-size="100">|E|<tspan dy="-30" font-size="62">2</tspan><tspan dy="30"> Intensity</tspan></text><text transform="matrix(0 -0.44053 0.44053 0 1271.1 674.64)" font-size="100">(arb.)</text><text transform="matrix(0.28372 0 0 0.27536 1133.5 458.4)" font-size="100">1</text><text transform="matrix(0.28333 0 0 0.27143 1133.2 546.93)" font-size="100">.75</text><text transform="matrix(0.30857 0 0 0.25 1132.8 654.75)" font-size="100">.5</text><text transform="matrix(0.28889 0 0 0.2662 1133 761.33)" font-size="100">.25</text><text transform="matrix(0.30625 0 0 0.28592 1133.1 855.71)" font-size="100">0</text><text transform="matrix(0.2413 0 0 0.23 712.49 510.4)" font-size="100">2</text><text transform="matrix(0.17209 0 0 0.23188 713.52 590)" font-size="100">1</text><text transform="matrix(0.2 0 0 0.22319 712.9 749)" font-size="100">-1</text><text transform="matrix(0.22375 0 0 0.21286 712.81 828.8)" font-size="100">-2</text><text transform="matrix(0.23662 0 0 0.23662 163.23 55.463)" font-size="100">400</text><text transform="matrix(0.23662 0 0 0.23662 163.23 128.96)" font-size="100">200</text><text transform="matrix(0.23662 0 0 0.23662 189.5 202.46)" font-size="100">0</text><text transform="matrix(0.23662 0 0 0.23662 155.42 275.96)" font-size="100">-200</text><text transform="matrix(0.23662 0 0 0.23662 155.42 349.46)" font-size="100">-400</text><text transform="matrix(0.24225 0 0 0.24225 200.97 387.96)" font-size="100">-400</text><text transform="matrix(0.24225 0 0 0.24225 268.17 387.96)" font-size="100">-200</text><text transform="matrix(0.24225 0 0 0.24225 352.82 387.96)" font-size="100">0</text><text transform="matrix(0.24225 0 0 0.24225 406.45 387.96)" font-size="100">200</text><text transform="matrix(0.24225 0 0 0.24225 474.01 387.96)" font-size="100">400</text><text transform="matrix(0.25493 0 0 0.25493 661.54 342.3)" font-size="100">0</text><text transform="matrix(0.25493 0 0 0.25493 647.52 292.55)" font-size="100">10</text><text transform="matrix(0.25493 0 0 0.25493 647.52 242.8)" font-size="100">20</text><text transform="matrix(0.25493 0 0 0.25493 647.52 193.05)" font-size="100">30</text><text transform="matrix(0.25493 0 0 0.25493 647.52 143.3)" font-size="100">40</text><text transform="matrix(0.25493 0 0 0.25493 647.52 93.545)" font-size="100">50</text><text transform="matrix(0.26338 0 0 0.26338 666.88 367.44)" font-size="100">650</text><text transform="matrix(0.26338 0 0 0.26338 725.68 367.44)" font-size="100">675</text><text transform="matrix(0.26338 0 0 0.26338 784.48 367.44)" font-size="100">700</text><text transform="matrix(0.26338 0 0 0.26338 843.28 367.44)" font-size="100">725</text><text transform="matrix(0.26338 0 0 0.26338 902.08 367.44)" font-size="100">750</text><text transform="matrix(0.26714 0 0 0.26714 960.56 367.43)" font-size="100">775</text><text transform="matrix(0.26338 0 0 0.26338 1019.8 367.44)" font-size="100">800</text><text transform="matrix(0.24085 0 0 0.24085 29.376 819.91)" font-size="100">0</text><text transform="matrix(0.24783 0 0 0.24783 29.261 758.15)" font-size="100">1</text><text transform="matrix(0.24429 0 0 0.24429 29.441 696.15)" font-size="100">2</text><text transform="matrix(0.24085 0 0 0.24085 29.617 633.91)" font-size="100">3</text><text transform="matrix(0.25147 0 0 0.25147 28.572 572.4)" font-size="100">4</text><text transform="matrix(0.24429 0 0 0.24429 29.441 509.91)" font-size="100">5</text><text transform="matrix(0.24286 0 0 0.24286 38.314 850.2)" font-size="100">-2</text><text transform="matrix(0.23944 0 0 0.23944 192.8 849.96)" font-size="100">0</text><text transform="matrix(0.24286 0 0 0.24286 343.2 850.2)" font-size="100">2</text><text transform="matrix(0.24286 0 0 0.24286 378.31 850.2)" font-size="100">-2</text><text transform="matrix(0.23944 0 0 0.23944 532.8 849.96)" font-size="100">0</text><text transform="matrix(0.24286 0 0 0.24286 683.2 850.2)" font-size="100">2</text><text transform="matrix(0.22535 0 0 0.22535 713 668.27)" font-size="100">0</text></svg></div></body></html>
